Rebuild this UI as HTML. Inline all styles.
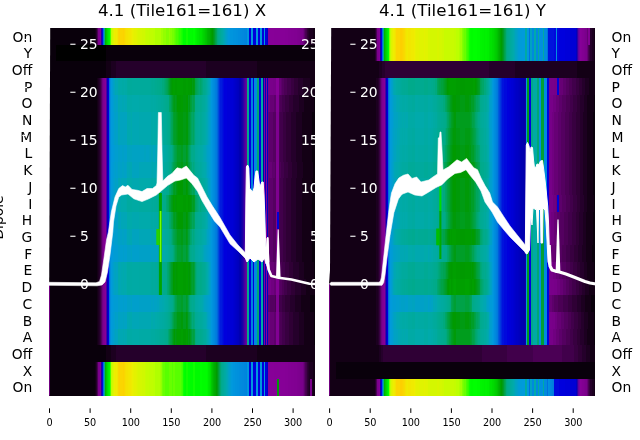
<!DOCTYPE html><html><head><meta charset="utf-8"><title>plot</title><style>html,body{margin:0;padding:0;background:#fff}</style></head><body><svg width="640" height="440" viewBox="0 0 640 440" style="display:block;font-family:'DejaVu Sans','Liberation Sans',sans-serif">
<rect width="640" height="440" fill="#fff"/>
<g shape-rendering="crispEdges">
<g transform="translate(0,28.00)"><path d="M49 0h46V367.6h-46z" fill="#09000b"/><path d="M95 0h1V367.6h-1z" fill="#130015"/><path d="M96 0h1V367.6h-1z" fill="#25002b"/><path d="M97 0h1V367.6h-1z" fill="#4b0055"/><path d="M98 0h1V367.6h-1z" fill="#7a008b"/><path d="M99 0h1V367.6h-1z" fill="#7f0090"/><path d="M100 0h1V367.6h-1z" fill="#850096"/><path d="M101 0h1V367.6h-1z" fill="#2300a6"/><path d="M102 0h1V367.6h-1z" fill="#0009dd"/><path d="M103 0h1V367.6h-1z" fill="#0070dd"/><path d="M104 0h1V367.6h-1z" fill="#00aa95"/><path d="M105 0h1V367.6h-1z" fill="#00b700"/><path d="M106 0h1V367.6h-1z" fill="#00ca00"/><path d="M107 0h1V367.6h-1z" fill="#00df00"/><path d="M108 0h1V367.6h-1z" fill="#00ef00"/><path d="M109 0h1V367.6h-1z" fill="#00fc00"/><path d="M110 0h1V367.6h-1z" fill="#49ff00"/><path d="M111 0h1V367.6h-1z" fill="#c0fd00"/><path d="M112 0h1V367.6h-1z" fill="#d0f800"/><path d="M113 0h1V367.6h-1z" fill="#e0f300"/><path d="M114 0h1V367.6h-1z" fill="#ecef00"/><path d="M115 0h1V367.6h-1z" fill="#f0ea00"/><path d="M116 0h1V367.6h-1z" fill="#efed00"/><path d="M117 0h1V367.6h-1z" fill="#f3e500"/><path d="M118 0h1V367.6h-1z" fill="#f9d700"/><path d="M119 0h1V367.6h-1z" fill="#fcd200"/><path d="M120 0h3V367.6h-3z" fill="#fbd500"/><path d="M123 0h1V367.6h-1z" fill="#fcd200"/><path d="M124 0h1V367.6h-1z" fill="#f9d700"/><path d="M125 0h1V367.6h-1z" fill="#f7dd00"/><path d="M126 0h2V367.6h-2z" fill="#f4e200"/><path d="M128 0h1V367.6h-1z" fill="#f3e500"/><path d="M129 0h2V367.6h-2z" fill="#f1e700"/><path d="M131 0h1V367.6h-1z" fill="#f0ea00"/><path d="M132 0h1V367.6h-1z" fill="#ecef00"/><path d="M133 0h1V367.6h-1z" fill="#e8f000"/><path d="M134 0h2V367.6h-2z" fill="#e4f100"/><path d="M136 0h1V367.6h-1z" fill="#e0f300"/><path d="M137 0h1V367.6h-1z" fill="#dcf400"/><path d="M138 0h2V367.6h-2z" fill="#d8f500"/><path d="M140 0h2V367.6h-2z" fill="#d4f700"/><path d="M142 0h3V367.6h-3z" fill="#d0f800"/><path d="M145 0h1V367.6h-1z" fill="#c8fb00"/><path d="M146 0h3V367.6h-3z" fill="#c4fc00"/><path d="M149 0h4V367.6h-4z" fill="#c0fd00"/><path d="M153 0h2V367.6h-2z" fill="#bcff00"/><path d="M155 0h6V367.6h-6z" fill="#b0ff00"/><path d="M161 0h2V367.6h-2z" fill="#a1ff00"/><path d="M163 0h3V367.6h-3z" fill="#93ff00"/><path d="M166 0h3V367.6h-3z" fill="#84ff00"/><path d="M169 0h1V367.6h-1z" fill="#93ff00"/><path d="M170 0h2V367.6h-2z" fill="#84ff00"/><path d="M172 0h2V367.6h-2z" fill="#75ff00"/><path d="M174 0h1V367.6h-1z" fill="#67ff00"/><path d="M175 0h1V367.6h-1z" fill="#58ff00"/><path d="M176 0h2V367.6h-2z" fill="#49ff00"/><path d="M178 0h1V367.6h-1z" fill="#3bff00"/><path d="M179 0h2V367.6h-2z" fill="#2cff00"/><path d="M181 0h1V367.6h-1z" fill="#1dff00"/><path d="M182 0h1V367.6h-1z" fill="#0fff00"/><path d="M183 0h3V367.6h-3z" fill="#00fc00"/><path d="M186 0h2V367.6h-2z" fill="#0fff00"/><path d="M188 0h4V367.6h-4z" fill="#00fc00"/><path d="M192 0h1V367.6h-1z" fill="#00fa00"/><path d="M193 0h2V367.6h-2z" fill="#0f0"/><path d="M195 0h1V367.6h-1z" fill="#00f700"/><path d="M196 0h1V367.6h-1z" fill="#00f200"/><path d="M197 0h1V367.6h-1z" fill="#00ec00"/><path d="M198 0h1V367.6h-1z" fill="#00ea00"/><path d="M199 0h2V367.6h-2z" fill="#00e400"/><path d="M201 0h1V367.6h-1z" fill="#00e200"/><path d="M202 0h1V367.6h-1z" fill="#00da00"/><path d="M203 0h1V367.6h-1z" fill="#00d400"/><path d="M204 0h1V367.6h-1z" fill="#00cf00"/><path d="M205 0h1V367.6h-1z" fill="#00c700"/><path d="M206 0h1V367.6h-1z" fill="#00c200"/><path d="M207 0h1V367.6h-1z" fill="#00b700"/><path d="M208 0h1V367.6h-1z" fill="#00b200"/><path d="M209 0h1V367.6h-1z" fill="#00af00"/><path d="M210 0h1V367.6h-1z" fill="#00a700"/><path d="M211 0h1V367.6h-1z" fill="#009f00"/><path d="M212 0h1V367.6h-1z" fill="#009a00"/><path d="M213 0h1V367.6h-1z" fill="#009b13"/><path d="M214 0h1V367.6h-1z" fill="#009e28"/><path d="M215 0h1V367.6h-1z" fill="#00a248"/><path d="M216 0h1V367.6h-1z" fill="#00a55d"/><path d="M217 0h1V367.6h-1z" fill="#00a97d"/><path d="M218 0h1V367.6h-1z" fill="#00aa8b"/><path d="M219 0h1V367.6h-1z" fill="#00aa93"/><path d="M220 0h1V367.6h-1z" fill="#00aa98"/><path d="M221 0h1V367.6h-1z" fill="#00aaa0"/><path d="M222 0h1V367.6h-1z" fill="#00aaa5"/><path d="M223 0h1V367.6h-1z" fill="#00a8af"/><path d="M224 0h1V367.6h-1z" fill="#00a6b7"/><path d="M225 0h1V367.6h-1z" fill="#00a2c3"/><path d="M226 0h1V367.6h-1z" fill="#009fcb"/><path d="M227 0h1V367.6h-1z" fill="#009cd3"/><path d="M228 0h1V367.6h-1z" fill="#009adb"/><path d="M229 0h1V367.6h-1z" fill="#0098dd"/><path d="M230 0h3V367.6h-3z" fill="#0095dd"/><path d="M233 0h3V367.6h-3z" fill="#0092dd"/><path d="M236 0h2V367.6h-2z" fill="#0090dd"/><path d="M238 0h2V367.6h-2z" fill="#008ddd"/><path d="M240 0h2V367.6h-2z" fill="#008add"/><path d="M242 0h2V367.6h-2z" fill="#08d"/><path d="M244 0h2V367.6h-2z" fill="#0085dd"/><path d="M246 0h1V367.6h-1z" fill="#0082dd"/><path d="M247 0h2V367.6h-2z" fill="#0098dd"/><path d="M249 0h2V367.6h-2z" fill="#00d"/><path d="M251 0h2V367.6h-2z" fill="#0098dd"/><path d="M253 0h3V367.6h-3z" fill="#00d"/><path d="M256 0h2V367.6h-2z" fill="#0098dd"/><path d="M258 0h2V367.6h-2z" fill="#00d"/><path d="M260 0h2V367.6h-2z" fill="#0098dd"/><path d="M262 0h2V367.6h-2z" fill="#00d"/><path d="M264 0h1V367.6h-1z" fill="#0098dd"/><path d="M265 0h2V367.6h-2z" fill="#00d"/><path d="M267 0h1V367.6h-1z" fill="#0000c5"/><path d="M268 0h6V367.6h-6z" fill="#870098"/><path d="M274 0h11V367.6h-11z" fill="#860097"/><path d="M285 0h3V367.6h-3z" fill="#850096"/><path d="M288 0h3V367.6h-3z" fill="#830094"/><path d="M291 0h3V367.6h-3z" fill="#820093"/><path d="M294 0h3V367.6h-3z" fill="#810092"/><path d="M297 0h1V367.6h-1z" fill="#7f0090"/><path d="M298 0h1V367.6h-1z" fill="#7e008f"/><path d="M299 0h1V367.6h-1z" fill="#7d008e"/><path d="M300 0h1V367.6h-1z" fill="#7b008c"/><path d="M301 0h1V367.6h-1z" fill="#7a008b"/><path d="M302 0h1V367.6h-1z" fill="#79008a"/><path d="M303 0h1V367.6h-1z" fill="#700080"/><path d="M304 0h1V367.6h-1z" fill="#5d006b"/><path d="M305 0h1V367.6h-1z" fill="#4b0055"/><path d="M306 0h1V367.6h-1z" fill="#41004b"/><path d="M307 0h1V367.6h-1z" fill="#2f0035"/><path d="M308 0h1V367.6h-1z" fill="#25002b"/><path d="M309 0h4V367.6h-4z" fill="#1c0020"/><path d="M313 0h2V367.6h-2z" fill="#130015"/></g>
<g transform="translate(0,44.71)"><path d="M49 0h7V350.9h-7z" fill="#09000b"/><path d="M56 0h50V350.9h-50z" fill="#000"/><path d="M106 0h209V350.9h-209z" fill="#09000b"/></g>
<g transform="translate(0,61.42)"><path d="M49 0h57V334.2h-57z" fill="#09000b"/><path d="M106 0h5V334.2h-5z" fill="#130015"/><path d="M111 0h5V334.2h-5z" fill="#1c0020"/><path d="M116 0h90V334.2h-90z" fill="#25002b"/><path d="M206 0h51V334.2h-51z" fill="#1c0020"/><path d="M257 0h58V334.2h-58z" fill="#130015"/></g>
<g transform="translate(0,78.13)"><path d="M49 0h48V317.5h-48z" fill="#09000b"/><path d="M97 0h1V317.5h-1z" fill="#130015"/><path d="M98 0h1V317.5h-1z" fill="#1c0020"/><path d="M99 0h1V317.5h-1z" fill="#25002b"/><path d="M100 0h1V317.5h-1z" fill="#380040"/><path d="M101 0h1V317.5h-1z" fill="#540060"/><path d="M102 0h1V317.5h-1z" fill="#700080"/><path d="M103 0h1V317.5h-1z" fill="#7e008f"/><path d="M104 0h1V317.5h-1z" fill="#820093"/><path d="M105 0h1V317.5h-1z" fill="#860097"/><path d="M106 0h1V317.5h-1z" fill="#4d00a0"/><path d="M107 0h1V317.5h-1z" fill="#0000bd"/><path d="M108 0h1V317.5h-1z" fill="#00d"/><path d="M109 0h1V317.5h-1z" fill="#0070dd"/><path d="M110 0h1V317.5h-1z" fill="#008ddd"/><path d="M111 0h1V317.5h-1z" fill="#009adb"/><path d="M112 0h1V317.5h-1z" fill="#009cd3"/><path d="M113 0h1V317.5h-1z" fill="#00a0c7"/><path d="M114 0h1V317.5h-1z" fill="#00a3bf"/><path d="M115 0h1V317.5h-1z" fill="#00a7b3"/><path d="M116 0h1V317.5h-1z" fill="#00a6b7"/><path d="M117 0h1V317.5h-1z" fill="#00a7b3"/><path d="M118 0h1V317.5h-1z" fill="#00aaa8"/><path d="M119 0h1V317.5h-1z" fill="#00aaa5"/><path d="M120 0h2V317.5h-2z" fill="#00aaa8"/><path d="M122 0h2V317.5h-2z" fill="#00aaa5"/><path d="M124 0h1V317.5h-1z" fill="#00aaa8"/><path d="M125 0h2V317.5h-2z" fill="#00aaa5"/><path d="M127 0h1V317.5h-1z" fill="#00aa9d"/><path d="M128 0h4V317.5h-4z" fill="#00aa9b"/><path d="M132 0h8V317.5h-8z" fill="#00aa9d"/><path d="M140 0h10V317.5h-10z" fill="#00aa9b"/><path d="M150 0h1V317.5h-1z" fill="#00aa98"/><path d="M151 0h1V317.5h-1z" fill="#00aa95"/><path d="M152 0h1V317.5h-1z" fill="#00aa93"/><path d="M153 0h1V317.5h-1z" fill="#00aa95"/><path d="M154 0h1V317.5h-1z" fill="#00aa93"/><path d="M155 0h2V317.5h-2z" fill="#00aa90"/><path d="M157 0h2V317.5h-2z" fill="#00aa8d"/><path d="M159 0h1V317.5h-1z" fill="#00aa8b"/><path d="M160 0h2V317.5h-2z" fill="#0a8"/><path d="M162 0h2V317.5h-2z" fill="#00a97d"/><path d="M164 0h1V317.5h-1z" fill="#00a773"/><path d="M165 0h1V317.5h-1z" fill="#00a668"/><path d="M166 0h1V317.5h-1z" fill="#00a55d"/><path d="M167 0h1V317.5h-1z" fill="#00a353"/><path d="M168 0h1V317.5h-1z" fill="#00a13d"/><path d="M169 0h1V317.5h-1z" fill="#009e28"/><path d="M170 0h1V317.5h-1z" fill="#009b13"/><path d="M171 0h1V317.5h-1z" fill="#009a08"/><path d="M172 0h1V317.5h-1z" fill="#009c00"/><path d="M173 0h2V317.5h-2z" fill="#009f00"/><path d="M175 0h2V317.5h-2z" fill="#009c00"/><path d="M177 0h6V317.5h-6z" fill="#009f00"/><path d="M183 0h3V317.5h-3z" fill="#009c00"/><path d="M186 0h2V317.5h-2z" fill="#009f00"/><path d="M188 0h3V317.5h-3z" fill="#009c00"/><path d="M191 0h1V317.5h-1z" fill="#009a00"/><path d="M192 0h1V317.5h-1z" fill="#009b13"/><path d="M193 0h1V317.5h-1z" fill="#009a08"/><path d="M194 0h1V317.5h-1z" fill="#009b13"/><path d="M195 0h1V317.5h-1z" fill="#00a248"/><path d="M196 0h1V317.5h-1z" fill="#00a353"/><path d="M197 0h1V317.5h-1z" fill="#00a55d"/><path d="M198 0h1V317.5h-1z" fill="#00a668"/><path d="M199 0h1V317.5h-1z" fill="#00a773"/><path d="M200 0h1V317.5h-1z" fill="#00a668"/><path d="M201 0h1V317.5h-1z" fill="#00a773"/><path d="M202 0h1V317.5h-1z" fill="#00a97d"/><path d="M203 0h1V317.5h-1z" fill="#00aa8b"/><path d="M204 0h1V317.5h-1z" fill="#00aa8d"/><path d="M205 0h1V317.5h-1z" fill="#00aa93"/><path d="M206 0h1V317.5h-1z" fill="#00aa9b"/><path d="M207 0h1V317.5h-1z" fill="#00aaa5"/><path d="M208 0h1V317.5h-1z" fill="#00a8af"/><path d="M209 0h1V317.5h-1z" fill="#00a6b7"/><path d="M210 0h1V317.5h-1z" fill="#009fcb"/><path d="M211 0h1V317.5h-1z" fill="#0098dd"/><path d="M212 0h1V317.5h-1z" fill="#0092dd"/><path d="M213 0h1V317.5h-1z" fill="#008ddd"/><path d="M214 0h1V317.5h-1z" fill="#08d"/><path d="M215 0h1V317.5h-1z" fill="#0080dd"/><path d="M216 0h1V317.5h-1z" fill="#007add"/><path d="M217 0h1V317.5h-1z" fill="#0067dd"/><path d="M218 0h1V317.5h-1z" fill="#004bdd"/><path d="M219 0h1V317.5h-1z" fill="#002fdd"/><path d="M220 0h2V317.5h-2z" fill="#001cdd"/><path d="M222 0h1V317.5h-1z" fill="#0013dd"/><path d="M223 0h1V317.5h-1z" fill="#0009dd"/><path d="M224 0h3V317.5h-3z" fill="#00d"/><path d="M227 0h3V317.5h-3z" fill="#0000d9"/><path d="M230 0h3V317.5h-3z" fill="#0000d5"/><path d="M233 0h1V317.5h-1z" fill="#0000d1"/><path d="M234 0h1V317.5h-1z" fill="#0000cd"/><path d="M235 0h1V317.5h-1z" fill="#0000c9"/><path d="M236 0h1V317.5h-1z" fill="#0000c5"/><path d="M237 0h1V317.5h-1z" fill="#0000c1"/><path d="M238 0h1V317.5h-1z" fill="#0000bd"/><path d="M239 0h1V317.5h-1z" fill="#0000b1"/><path d="M240 0h1V317.5h-1z" fill="#0000ad"/><path d="M241 0h1V317.5h-1z" fill="#0d00a8"/><path d="M242 0h1V317.5h-1z" fill="#1800a7"/><path d="M243 0h1V317.5h-1z" fill="#2d00a4"/><path d="M244 0h1V317.5h-1z" fill="#4300a2"/><path d="M245 0h1V317.5h-1z" fill="#58009f"/><path d="M246 0h1V317.5h-1z" fill="#6d009c"/><path d="M247 0h2V317.5h-2z" fill="#00aa8d"/><path d="M249 0h2V317.5h-2z" fill="#00d"/><path d="M251 0h2V317.5h-2z" fill="#0080dd"/><path d="M253 0h1V317.5h-1z" fill="#00d"/><path d="M254 0h3V317.5h-3z" fill="#008add"/><path d="M257 0h2V317.5h-2z" fill="#00a773"/><path d="M259 0h2V317.5h-2z" fill="#00d"/><path d="M261 0h2V317.5h-2z" fill="#00aaa3"/><path d="M263 0h1V317.5h-1z" fill="#0300aa"/><path d="M264 0h1V317.5h-1z" fill="#870098"/><path d="M265 0h1V317.5h-1z" fill="#0000bd"/><path d="M266 0h1V317.5h-1z" fill="#870098"/><path d="M267 0h1V317.5h-1z" fill="#0000bd"/><path d="M268 0h2V317.5h-2z" fill="#7a008b"/><path d="M270 0h3V317.5h-3z" fill="#79008a"/><path d="M273 0h3V317.5h-3z" fill="#708"/><path d="M276 0h3V317.5h-3z" fill="#870098"/><path d="M279 0h2V317.5h-2z" fill="#670075"/><path d="M281 0h1V317.5h-1z" fill="#5d006b"/><path d="M282 0h2V317.5h-2z" fill="#540060"/><path d="M284 0h3V317.5h-3z" fill="#4b0055"/><path d="M287 0h4V317.5h-4z" fill="#41004b"/><path d="M291 0h3V317.5h-3z" fill="#380040"/><path d="M294 0h4V317.5h-4z" fill="#2f0035"/><path d="M298 0h5V317.5h-5z" fill="#25002b"/><path d="M303 0h7V317.5h-7z" fill="#1c0020"/><path d="M310 0h5V317.5h-5z" fill="#130015"/></g>
<g transform="translate(0,94.84)"><path d="M49 0h48V300.8h-48z" fill="#09000b"/><path d="M97 0h1V300.8h-1z" fill="#130015"/><path d="M98 0h1V300.8h-1z" fill="#1c0020"/><path d="M99 0h1V300.8h-1z" fill="#25002b"/><path d="M100 0h1V300.8h-1z" fill="#380040"/><path d="M101 0h1V300.8h-1z" fill="#540060"/><path d="M102 0h1V300.8h-1z" fill="#700080"/><path d="M103 0h1V300.8h-1z" fill="#7e008f"/><path d="M104 0h1V300.8h-1z" fill="#820093"/><path d="M105 0h1V300.8h-1z" fill="#860097"/><path d="M106 0h1V300.8h-1z" fill="#4d00a0"/><path d="M107 0h1V300.8h-1z" fill="#0000bd"/><path d="M108 0h1V300.8h-1z" fill="#00d"/><path d="M109 0h1V300.8h-1z" fill="#0070dd"/><path d="M110 0h1V300.8h-1z" fill="#008ddd"/><path d="M111 0h1V300.8h-1z" fill="#009adb"/><path d="M112 0h1V300.8h-1z" fill="#009bd7"/><path d="M113 0h1V300.8h-1z" fill="#009ecf"/><path d="M114 0h1V300.8h-1z" fill="#00a0c7"/><path d="M115 0h1V300.8h-1z" fill="#00a2c3"/><path d="M116 0h1V300.8h-1z" fill="#00a0c7"/><path d="M117 0h1V300.8h-1z" fill="#00a2c3"/><path d="M118 0h2V300.8h-2z" fill="#00a7b3"/><path d="M120 0h2V300.8h-2z" fill="#00a6b7"/><path d="M122 0h2V300.8h-2z" fill="#00a7b3"/><path d="M124 0h1V300.8h-1z" fill="#00a6b7"/><path d="M125 0h2V300.8h-2z" fill="#00a7b3"/><path d="M127 0h5V300.8h-5z" fill="#00aaa8"/><path d="M132 0h7V300.8h-7z" fill="#00aaab"/><path d="M139 0h11V300.8h-11z" fill="#00aaa8"/><path d="M150 0h1V300.8h-1z" fill="#00aaa5"/><path d="M151 0h2V300.8h-2z" fill="#00aaa3"/><path d="M153 0h1V300.8h-1z" fill="#00aaa5"/><path d="M154 0h2V300.8h-2z" fill="#00aaa3"/><path d="M156 0h2V300.8h-2z" fill="#00aaa0"/><path d="M158 0h2V300.8h-2z" fill="#00aa9d"/><path d="M160 0h1V300.8h-1z" fill="#00aa9b"/><path d="M161 0h2V300.8h-2z" fill="#00aa98"/><path d="M163 0h1V300.8h-1z" fill="#00aa95"/><path d="M164 0h1V300.8h-1z" fill="#00aa93"/><path d="M165 0h1V300.8h-1z" fill="#00aa90"/><path d="M166 0h1V300.8h-1z" fill="#00aa8d"/><path d="M167 0h1V300.8h-1z" fill="#00aa8b"/><path d="M168 0h1V300.8h-1z" fill="#0a8"/><path d="M169 0h1V300.8h-1z" fill="#00a668"/><path d="M170 0h1V300.8h-1z" fill="#00a55d"/><path d="M171 0h1V300.8h-1z" fill="#00a248"/><path d="M172 0h1V300.8h-1z" fill="#009f33"/><path d="M173 0h1V300.8h-1z" fill="#009d1d"/><path d="M174 0h1V300.8h-1z" fill="#009b13"/><path d="M175 0h1V300.8h-1z" fill="#009d1d"/><path d="M176 0h1V300.8h-1z" fill="#009b13"/><path d="M177 0h4V300.8h-4z" fill="#009a00"/><path d="M181 0h2V300.8h-2z" fill="#009c00"/><path d="M183 0h3V300.8h-3z" fill="#009a08"/><path d="M186 0h1V300.8h-1z" fill="#009c00"/><path d="M187 0h1V300.8h-1z" fill="#009a00"/><path d="M188 0h1V300.8h-1z" fill="#009d1d"/><path d="M189 0h1V300.8h-1z" fill="#009b13"/><path d="M190 0h1V300.8h-1z" fill="#009f33"/><path d="M191 0h1V300.8h-1z" fill="#00a13d"/><path d="M192 0h1V300.8h-1z" fill="#00a353"/><path d="M193 0h1V300.8h-1z" fill="#00a248"/><path d="M194 0h1V300.8h-1z" fill="#00a353"/><path d="M195 0h1V300.8h-1z" fill="#0a8"/><path d="M196 0h1V300.8h-1z" fill="#00aa8b"/><path d="M197 0h1V300.8h-1z" fill="#00aa8d"/><path d="M198 0h1V300.8h-1z" fill="#00aa90"/><path d="M199 0h1V300.8h-1z" fill="#00aa93"/><path d="M200 0h1V300.8h-1z" fill="#00aa90"/><path d="M201 0h1V300.8h-1z" fill="#00aa93"/><path d="M202 0h1V300.8h-1z" fill="#00aa98"/><path d="M203 0h1V300.8h-1z" fill="#00aa9b"/><path d="M204 0h1V300.8h-1z" fill="#00aa9d"/><path d="M205 0h1V300.8h-1z" fill="#00aaa3"/><path d="M206 0h1V300.8h-1z" fill="#00aaa8"/><path d="M207 0h1V300.8h-1z" fill="#00a7b3"/><path d="M208 0h1V300.8h-1z" fill="#00a3bf"/><path d="M209 0h1V300.8h-1z" fill="#00a0c7"/><path d="M210 0h1V300.8h-1z" fill="#009cd3"/><path d="M211 0h1V300.8h-1z" fill="#0098dd"/><path d="M212 0h1V300.8h-1z" fill="#0092dd"/><path d="M213 0h1V300.8h-1z" fill="#008ddd"/><path d="M214 0h1V300.8h-1z" fill="#08d"/><path d="M215 0h1V300.8h-1z" fill="#0080dd"/><path d="M216 0h1V300.8h-1z" fill="#007add"/><path d="M217 0h1V300.8h-1z" fill="#0067dd"/><path d="M218 0h1V300.8h-1z" fill="#004bdd"/><path d="M219 0h1V300.8h-1z" fill="#002fdd"/><path d="M220 0h2V300.8h-2z" fill="#001cdd"/><path d="M222 0h1V300.8h-1z" fill="#0013dd"/><path d="M223 0h1V300.8h-1z" fill="#0009dd"/><path d="M224 0h3V300.8h-3z" fill="#00d"/><path d="M227 0h3V300.8h-3z" fill="#0000d9"/><path d="M230 0h3V300.8h-3z" fill="#0000d5"/><path d="M233 0h1V300.8h-1z" fill="#0000d1"/><path d="M234 0h1V300.8h-1z" fill="#0000cd"/><path d="M235 0h1V300.8h-1z" fill="#0000c9"/><path d="M236 0h1V300.8h-1z" fill="#0000c5"/><path d="M237 0h1V300.8h-1z" fill="#0000c1"/><path d="M238 0h1V300.8h-1z" fill="#0000bd"/><path d="M239 0h1V300.8h-1z" fill="#0000b1"/><path d="M240 0h1V300.8h-1z" fill="#0000ad"/><path d="M241 0h1V300.8h-1z" fill="#0d00a8"/><path d="M242 0h1V300.8h-1z" fill="#1800a7"/><path d="M243 0h1V300.8h-1z" fill="#2d00a4"/><path d="M244 0h1V300.8h-1z" fill="#4300a2"/><path d="M245 0h1V300.8h-1z" fill="#58009f"/><path d="M246 0h1V300.8h-1z" fill="#6d009c"/><path d="M247 0h2V300.8h-2z" fill="#00aa8d"/><path d="M249 0h2V300.8h-2z" fill="#00d"/><path d="M251 0h2V300.8h-2z" fill="#0080dd"/><path d="M253 0h1V300.8h-1z" fill="#00d"/><path d="M254 0h3V300.8h-3z" fill="#008add"/><path d="M257 0h2V300.8h-2z" fill="#00a773"/><path d="M259 0h2V300.8h-2z" fill="#00d"/><path d="M261 0h2V300.8h-2z" fill="#00aaa3"/><path d="M263 0h1V300.8h-1z" fill="#0300aa"/><path d="M264 0h1V300.8h-1z" fill="#870098"/><path d="M265 0h1V300.8h-1z" fill="#0000bd"/><path d="M266 0h1V300.8h-1z" fill="#870098"/><path d="M267 0h1V300.8h-1z" fill="#0000bd"/><path d="M268 0h2V300.8h-2z" fill="#700080"/><path d="M270 0h4V300.8h-4z" fill="#670075"/><path d="M274 0h2V300.8h-2z" fill="#5d006b"/><path d="M276 0h3V300.8h-3z" fill="#810092"/><path d="M279 0h1V300.8h-1z" fill="#540060"/><path d="M280 0h2V300.8h-2z" fill="#4b0055"/><path d="M282 0h3V300.8h-3z" fill="#41004b"/><path d="M285 0h4V300.8h-4z" fill="#380040"/><path d="M289 0h4V300.8h-4z" fill="#2f0035"/><path d="M293 0h6V300.8h-6z" fill="#25002b"/><path d="M299 0h5V300.8h-5z" fill="#1c0020"/><path d="M304 0h10V300.8h-10z" fill="#130015"/><path d="M314 0h1V300.8h-1z" fill="#09000b"/></g>
<g transform="translate(0,111.55)"><path d="M49 0h48V284.1h-48z" fill="#09000b"/><path d="M97 0h1V284.1h-1z" fill="#130015"/><path d="M98 0h1V284.1h-1z" fill="#1c0020"/><path d="M99 0h1V284.1h-1z" fill="#25002b"/><path d="M100 0h1V284.1h-1z" fill="#380040"/><path d="M101 0h1V284.1h-1z" fill="#540060"/><path d="M102 0h1V284.1h-1z" fill="#700080"/><path d="M103 0h1V284.1h-1z" fill="#7e008f"/><path d="M104 0h1V284.1h-1z" fill="#820093"/><path d="M105 0h1V284.1h-1z" fill="#860097"/><path d="M106 0h1V284.1h-1z" fill="#4d00a0"/><path d="M107 0h1V284.1h-1z" fill="#0000bd"/><path d="M108 0h1V284.1h-1z" fill="#00d"/><path d="M109 0h1V284.1h-1z" fill="#0070dd"/><path d="M110 0h1V284.1h-1z" fill="#008ddd"/><path d="M111 0h1V284.1h-1z" fill="#009adb"/><path d="M112 0h1V284.1h-1z" fill="#009bd7"/><path d="M113 0h1V284.1h-1z" fill="#009cd3"/><path d="M114 0h1V284.1h-1z" fill="#009fcb"/><path d="M115 0h1V284.1h-1z" fill="#00a0c7"/><path d="M116 0h1V284.1h-1z" fill="#009fcb"/><path d="M117 0h1V284.1h-1z" fill="#00a0c7"/><path d="M118 0h2V284.1h-2z" fill="#00a6b7"/><path d="M120 0h7V284.1h-7z" fill="#00a3bf"/><path d="M127 0h4V284.1h-4z" fill="#00a8af"/><path d="M131 0h1V284.1h-1z" fill="#00aaab"/><path d="M132 0h7V284.1h-7z" fill="#00a7b3"/><path d="M139 0h12V284.1h-12z" fill="#00a8af"/><path d="M151 0h2V284.1h-2z" fill="#00aaa8"/><path d="M153 0h1V284.1h-1z" fill="#00aaab"/><path d="M154 0h3V284.1h-3z" fill="#00aaa8"/><path d="M157 0h2V284.1h-2z" fill="#00aaa5"/><path d="M159 0h1V284.1h-1z" fill="#00aaa3"/><path d="M160 0h1V284.1h-1z" fill="#00aaa0"/><path d="M161 0h2V284.1h-2z" fill="#00aa9d"/><path d="M163 0h1V284.1h-1z" fill="#00aa9b"/><path d="M164 0h2V284.1h-2z" fill="#00aa98"/><path d="M166 0h1V284.1h-1z" fill="#00aa95"/><path d="M167 0h1V284.1h-1z" fill="#00aa90"/><path d="M168 0h1V284.1h-1z" fill="#00aa8d"/><path d="M169 0h1V284.1h-1z" fill="#0a8"/><path d="M170 0h1V284.1h-1z" fill="#00a773"/><path d="M171 0h1V284.1h-1z" fill="#00a55d"/><path d="M172 0h1V284.1h-1z" fill="#00a353"/><path d="M173 0h1V284.1h-1z" fill="#009f33"/><path d="M174 0h2V284.1h-2z" fill="#009e28"/><path d="M176 0h1V284.1h-1z" fill="#009d1d"/><path d="M177 0h1V284.1h-1z" fill="#009b13"/><path d="M178 0h5V284.1h-5z" fill="#009a08"/><path d="M183 0h3V284.1h-3z" fill="#009b13"/><path d="M186 0h2V284.1h-2z" fill="#009a08"/><path d="M188 0h1V284.1h-1z" fill="#009e28"/><path d="M189 0h1V284.1h-1z" fill="#009f33"/><path d="M190 0h1V284.1h-1z" fill="#00a248"/><path d="M191 0h1V284.1h-1z" fill="#00a55d"/><path d="M192 0h1V284.1h-1z" fill="#00a668"/><path d="M193 0h1V284.1h-1z" fill="#00a55d"/><path d="M194 0h1V284.1h-1z" fill="#00a773"/><path d="M195 0h1V284.1h-1z" fill="#00aa8d"/><path d="M196 0h1V284.1h-1z" fill="#00aa93"/><path d="M197 0h1V284.1h-1z" fill="#00aa95"/><path d="M198 0h1V284.1h-1z" fill="#00aa98"/><path d="M199 0h1V284.1h-1z" fill="#00aa9b"/><path d="M200 0h1V284.1h-1z" fill="#00aa95"/><path d="M201 0h1V284.1h-1z" fill="#00aa98"/><path d="M202 0h1V284.1h-1z" fill="#00aa9d"/><path d="M203 0h1V284.1h-1z" fill="#00aaa0"/><path d="M204 0h1V284.1h-1z" fill="#00aaa3"/><path d="M205 0h1V284.1h-1z" fill="#00aaa8"/><path d="M206 0h1V284.1h-1z" fill="#00a8af"/><path d="M207 0h1V284.1h-1z" fill="#00a6b7"/><path d="M208 0h1V284.1h-1z" fill="#00a2c3"/><path d="M209 0h1V284.1h-1z" fill="#009fcb"/><path d="M210 0h1V284.1h-1z" fill="#009cd3"/><path d="M211 0h1V284.1h-1z" fill="#0098dd"/><path d="M212 0h1V284.1h-1z" fill="#0092dd"/><path d="M213 0h1V284.1h-1z" fill="#008ddd"/><path d="M214 0h1V284.1h-1z" fill="#08d"/><path d="M215 0h1V284.1h-1z" fill="#0080dd"/><path d="M216 0h1V284.1h-1z" fill="#007add"/><path d="M217 0h1V284.1h-1z" fill="#0067dd"/><path d="M218 0h1V284.1h-1z" fill="#004bdd"/><path d="M219 0h1V284.1h-1z" fill="#002fdd"/><path d="M220 0h2V284.1h-2z" fill="#001cdd"/><path d="M222 0h1V284.1h-1z" fill="#0013dd"/><path d="M223 0h1V284.1h-1z" fill="#0009dd"/><path d="M224 0h3V284.1h-3z" fill="#00d"/><path d="M227 0h3V284.1h-3z" fill="#0000d9"/><path d="M230 0h3V284.1h-3z" fill="#0000d5"/><path d="M233 0h1V284.1h-1z" fill="#0000d1"/><path d="M234 0h1V284.1h-1z" fill="#0000cd"/><path d="M235 0h1V284.1h-1z" fill="#0000c9"/><path d="M236 0h1V284.1h-1z" fill="#0000c5"/><path d="M237 0h1V284.1h-1z" fill="#0000c1"/><path d="M238 0h1V284.1h-1z" fill="#0000bd"/><path d="M239 0h1V284.1h-1z" fill="#0000b1"/><path d="M240 0h1V284.1h-1z" fill="#0000ad"/><path d="M241 0h1V284.1h-1z" fill="#0d00a8"/><path d="M242 0h1V284.1h-1z" fill="#1800a7"/><path d="M243 0h1V284.1h-1z" fill="#2d00a4"/><path d="M244 0h1V284.1h-1z" fill="#4300a2"/><path d="M245 0h1V284.1h-1z" fill="#58009f"/><path d="M246 0h1V284.1h-1z" fill="#6d009c"/><path d="M247 0h2V284.1h-2z" fill="#00aa8d"/><path d="M249 0h2V284.1h-2z" fill="#00d"/><path d="M251 0h2V284.1h-2z" fill="#0080dd"/><path d="M253 0h1V284.1h-1z" fill="#00d"/><path d="M254 0h3V284.1h-3z" fill="#008add"/><path d="M257 0h2V284.1h-2z" fill="#00a773"/><path d="M259 0h2V284.1h-2z" fill="#00d"/><path d="M261 0h2V284.1h-2z" fill="#00aaa3"/><path d="M263 0h1V284.1h-1z" fill="#0300aa"/><path d="M264 0h1V284.1h-1z" fill="#870098"/><path d="M265 0h1V284.1h-1z" fill="#0000bd"/><path d="M266 0h1V284.1h-1z" fill="#870098"/><path d="M267 0h1V284.1h-1z" fill="#0000bd"/><path d="M268 0h1V284.1h-1z" fill="#670075"/><path d="M269 0h4V284.1h-4z" fill="#5d006b"/><path d="M273 0h3V284.1h-3z" fill="#540060"/><path d="M276 0h3V284.1h-3z" fill="#7e008f"/><path d="M279 0h1V284.1h-1z" fill="#4b0055"/><path d="M280 0h3V284.1h-3z" fill="#41004b"/><path d="M283 0h3V284.1h-3z" fill="#380040"/><path d="M286 0h5V284.1h-5z" fill="#2f0035"/><path d="M291 0h5V284.1h-5z" fill="#25002b"/><path d="M296 0h6V284.1h-6z" fill="#1c0020"/><path d="M302 0h10V284.1h-10z" fill="#130015"/><path d="M312 0h3V284.1h-3z" fill="#09000b"/></g>
<g transform="translate(0,128.25)"><path d="M49 0h48V267.3h-48z" fill="#09000b"/><path d="M97 0h1V267.3h-1z" fill="#130015"/><path d="M98 0h1V267.3h-1z" fill="#1c0020"/><path d="M99 0h1V267.3h-1z" fill="#25002b"/><path d="M100 0h1V267.3h-1z" fill="#380040"/><path d="M101 0h1V267.3h-1z" fill="#540060"/><path d="M102 0h1V267.3h-1z" fill="#700080"/><path d="M103 0h1V267.3h-1z" fill="#7e008f"/><path d="M104 0h1V267.3h-1z" fill="#820093"/><path d="M105 0h1V267.3h-1z" fill="#860097"/><path d="M106 0h1V267.3h-1z" fill="#4d00a0"/><path d="M107 0h1V267.3h-1z" fill="#0000bd"/><path d="M108 0h1V267.3h-1z" fill="#00d"/><path d="M109 0h1V267.3h-1z" fill="#0070dd"/><path d="M110 0h1V267.3h-1z" fill="#008ddd"/><path d="M111 0h1V267.3h-1z" fill="#009adb"/><path d="M112 0h1V267.3h-1z" fill="#009bd7"/><path d="M113 0h1V267.3h-1z" fill="#009cd3"/><path d="M114 0h1V267.3h-1z" fill="#009fcb"/><path d="M115 0h1V267.3h-1z" fill="#00a0c7"/><path d="M116 0h1V267.3h-1z" fill="#009fcb"/><path d="M117 0h1V267.3h-1z" fill="#00a0c7"/><path d="M118 0h2V267.3h-2z" fill="#00a6b7"/><path d="M120 0h7V267.3h-7z" fill="#00a3bf"/><path d="M127 0h4V267.3h-4z" fill="#00a8af"/><path d="M131 0h1V267.3h-1z" fill="#00aaab"/><path d="M132 0h7V267.3h-7z" fill="#00a7b3"/><path d="M139 0h12V267.3h-12z" fill="#00a8af"/><path d="M151 0h2V267.3h-2z" fill="#00aaa8"/><path d="M153 0h1V267.3h-1z" fill="#00aaab"/><path d="M154 0h3V267.3h-3z" fill="#00aaa8"/><path d="M157 0h2V267.3h-2z" fill="#00aaa5"/><path d="M159 0h1V267.3h-1z" fill="#00aaa3"/><path d="M160 0h1V267.3h-1z" fill="#00aaa0"/><path d="M161 0h2V267.3h-2z" fill="#00aa9d"/><path d="M163 0h1V267.3h-1z" fill="#00aa9b"/><path d="M164 0h2V267.3h-2z" fill="#00aa98"/><path d="M166 0h1V267.3h-1z" fill="#00aa95"/><path d="M167 0h1V267.3h-1z" fill="#00aa90"/><path d="M168 0h1V267.3h-1z" fill="#00aa8d"/><path d="M169 0h1V267.3h-1z" fill="#0a8"/><path d="M170 0h1V267.3h-1z" fill="#00a773"/><path d="M171 0h1V267.3h-1z" fill="#00a55d"/><path d="M172 0h1V267.3h-1z" fill="#00a353"/><path d="M173 0h1V267.3h-1z" fill="#009f33"/><path d="M174 0h2V267.3h-2z" fill="#009e28"/><path d="M176 0h1V267.3h-1z" fill="#009d1d"/><path d="M177 0h1V267.3h-1z" fill="#009b13"/><path d="M178 0h5V267.3h-5z" fill="#009a08"/><path d="M183 0h3V267.3h-3z" fill="#009b13"/><path d="M186 0h2V267.3h-2z" fill="#009a08"/><path d="M188 0h1V267.3h-1z" fill="#009e28"/><path d="M189 0h1V267.3h-1z" fill="#009f33"/><path d="M190 0h1V267.3h-1z" fill="#00a248"/><path d="M191 0h1V267.3h-1z" fill="#00a55d"/><path d="M192 0h1V267.3h-1z" fill="#00a668"/><path d="M193 0h1V267.3h-1z" fill="#00a55d"/><path d="M194 0h1V267.3h-1z" fill="#00a773"/><path d="M195 0h1V267.3h-1z" fill="#00aa8d"/><path d="M196 0h1V267.3h-1z" fill="#00aa93"/><path d="M197 0h1V267.3h-1z" fill="#00aa95"/><path d="M198 0h1V267.3h-1z" fill="#00aa98"/><path d="M199 0h1V267.3h-1z" fill="#00aa9b"/><path d="M200 0h1V267.3h-1z" fill="#00aa95"/><path d="M201 0h1V267.3h-1z" fill="#00aa98"/><path d="M202 0h1V267.3h-1z" fill="#00aa9d"/><path d="M203 0h1V267.3h-1z" fill="#00aaa0"/><path d="M204 0h1V267.3h-1z" fill="#00aaa3"/><path d="M205 0h1V267.3h-1z" fill="#00aaa8"/><path d="M206 0h1V267.3h-1z" fill="#00a8af"/><path d="M207 0h1V267.3h-1z" fill="#00a6b7"/><path d="M208 0h1V267.3h-1z" fill="#00a2c3"/><path d="M209 0h1V267.3h-1z" fill="#009fcb"/><path d="M210 0h1V267.3h-1z" fill="#009cd3"/><path d="M211 0h1V267.3h-1z" fill="#0098dd"/><path d="M212 0h1V267.3h-1z" fill="#0092dd"/><path d="M213 0h1V267.3h-1z" fill="#008ddd"/><path d="M214 0h1V267.3h-1z" fill="#08d"/><path d="M215 0h1V267.3h-1z" fill="#0080dd"/><path d="M216 0h1V267.3h-1z" fill="#007add"/><path d="M217 0h1V267.3h-1z" fill="#0067dd"/><path d="M218 0h1V267.3h-1z" fill="#004bdd"/><path d="M219 0h1V267.3h-1z" fill="#002fdd"/><path d="M220 0h2V267.3h-2z" fill="#001cdd"/><path d="M222 0h1V267.3h-1z" fill="#0013dd"/><path d="M223 0h1V267.3h-1z" fill="#0009dd"/><path d="M224 0h3V267.3h-3z" fill="#00d"/><path d="M227 0h3V267.3h-3z" fill="#0000d9"/><path d="M230 0h3V267.3h-3z" fill="#0000d5"/><path d="M233 0h1V267.3h-1z" fill="#0000d1"/><path d="M234 0h1V267.3h-1z" fill="#0000cd"/><path d="M235 0h1V267.3h-1z" fill="#0000c9"/><path d="M236 0h1V267.3h-1z" fill="#0000c5"/><path d="M237 0h1V267.3h-1z" fill="#0000c1"/><path d="M238 0h1V267.3h-1z" fill="#0000bd"/><path d="M239 0h1V267.3h-1z" fill="#0000b1"/><path d="M240 0h1V267.3h-1z" fill="#0000ad"/><path d="M241 0h1V267.3h-1z" fill="#0d00a8"/><path d="M242 0h1V267.3h-1z" fill="#1800a7"/><path d="M243 0h1V267.3h-1z" fill="#2d00a4"/><path d="M244 0h1V267.3h-1z" fill="#4300a2"/><path d="M245 0h1V267.3h-1z" fill="#58009f"/><path d="M246 0h1V267.3h-1z" fill="#6d009c"/><path d="M247 0h2V267.3h-2z" fill="#00aa8d"/><path d="M249 0h2V267.3h-2z" fill="#00d"/><path d="M251 0h2V267.3h-2z" fill="#0080dd"/><path d="M253 0h1V267.3h-1z" fill="#00d"/><path d="M254 0h3V267.3h-3z" fill="#008add"/><path d="M257 0h2V267.3h-2z" fill="#00a773"/><path d="M259 0h2V267.3h-2z" fill="#00d"/><path d="M261 0h2V267.3h-2z" fill="#00aaa3"/><path d="M263 0h1V267.3h-1z" fill="#0300aa"/><path d="M264 0h1V267.3h-1z" fill="#870098"/><path d="M265 0h1V267.3h-1z" fill="#0000bd"/><path d="M266 0h1V267.3h-1z" fill="#870098"/><path d="M267 0h1V267.3h-1z" fill="#0000bd"/><path d="M268 0h1V267.3h-1z" fill="#670075"/><path d="M269 0h4V267.3h-4z" fill="#5d006b"/><path d="M273 0h3V267.3h-3z" fill="#540060"/><path d="M276 0h3V267.3h-3z" fill="#7e008f"/><path d="M279 0h1V267.3h-1z" fill="#4b0055"/><path d="M280 0h3V267.3h-3z" fill="#41004b"/><path d="M283 0h3V267.3h-3z" fill="#380040"/><path d="M286 0h5V267.3h-5z" fill="#2f0035"/><path d="M291 0h5V267.3h-5z" fill="#25002b"/><path d="M296 0h6V267.3h-6z" fill="#1c0020"/><path d="M302 0h10V267.3h-10z" fill="#130015"/><path d="M312 0h3V267.3h-3z" fill="#09000b"/></g>
<g transform="translate(0,144.96)"><path d="M49 0h48V250.6h-48z" fill="#09000b"/><path d="M97 0h1V250.6h-1z" fill="#130015"/><path d="M98 0h1V250.6h-1z" fill="#1c0020"/><path d="M99 0h1V250.6h-1z" fill="#25002b"/><path d="M100 0h1V250.6h-1z" fill="#380040"/><path d="M101 0h1V250.6h-1z" fill="#540060"/><path d="M102 0h1V250.6h-1z" fill="#700080"/><path d="M103 0h1V250.6h-1z" fill="#7e008f"/><path d="M104 0h1V250.6h-1z" fill="#820093"/><path d="M105 0h1V250.6h-1z" fill="#860097"/><path d="M106 0h1V250.6h-1z" fill="#4d00a0"/><path d="M107 0h1V250.6h-1z" fill="#0000bd"/><path d="M108 0h1V250.6h-1z" fill="#00d"/><path d="M109 0h1V250.6h-1z" fill="#0070dd"/><path d="M110 0h1V250.6h-1z" fill="#008ddd"/><path d="M111 0h1V250.6h-1z" fill="#0098dd"/><path d="M112 0h1V250.6h-1z" fill="#009adb"/><path d="M113 0h1V250.6h-1z" fill="#009bd7"/><path d="M114 0h1V250.6h-1z" fill="#009cd3"/><path d="M115 0h3V250.6h-3z" fill="#009ecf"/><path d="M118 0h2V250.6h-2z" fill="#00a0c7"/><path d="M120 0h2V250.6h-2z" fill="#009fcb"/><path d="M122 0h2V250.6h-2z" fill="#00a0c7"/><path d="M124 0h3V250.6h-3z" fill="#009fcb"/><path d="M127 0h5V250.6h-5z" fill="#00a3bf"/><path d="M132 0h12V250.6h-12z" fill="#00a2c3"/><path d="M144 0h2V250.6h-2z" fill="#00a3bf"/><path d="M146 0h3V250.6h-3z" fill="#00a2c3"/><path d="M149 0h2V250.6h-2z" fill="#00a3bf"/><path d="M151 0h2V250.6h-2z" fill="#00a6b7"/><path d="M153 0h2V250.6h-2z" fill="#00a3bf"/><path d="M155 0h2V250.6h-2z" fill="#00a6b7"/><path d="M157 0h2V250.6h-2z" fill="#00a7b3"/><path d="M159 0h1V250.6h-1z" fill="#00a8af"/><path d="M160 0h2V250.6h-2z" fill="#00aaab"/><path d="M162 0h2V250.6h-2z" fill="#00aaa8"/><path d="M164 0h1V250.6h-1z" fill="#00aaa5"/><path d="M165 0h1V250.6h-1z" fill="#00aaa3"/><path d="M166 0h1V250.6h-1z" fill="#00aaa0"/><path d="M167 0h1V250.6h-1z" fill="#00aa9d"/><path d="M168 0h1V250.6h-1z" fill="#00aa98"/><path d="M169 0h1V250.6h-1z" fill="#00aa93"/><path d="M170 0h1V250.6h-1z" fill="#00aa8d"/><path d="M171 0h1V250.6h-1z" fill="#00aa8b"/><path d="M172 0h1V250.6h-1z" fill="#00a97d"/><path d="M173 0h1V250.6h-1z" fill="#00a668"/><path d="M174 0h1V250.6h-1z" fill="#00a353"/><path d="M175 0h1V250.6h-1z" fill="#00a248"/><path d="M176 0h1V250.6h-1z" fill="#00a13d"/><path d="M177 0h4V250.6h-4z" fill="#009e28"/><path d="M181 0h2V250.6h-2z" fill="#009d1d"/><path d="M183 0h3V250.6h-3z" fill="#009f33"/><path d="M186 0h1V250.6h-1z" fill="#009d1d"/><path d="M187 0h1V250.6h-1z" fill="#009e28"/><path d="M188 0h1V250.6h-1z" fill="#00a248"/><path d="M189 0h1V250.6h-1z" fill="#00a55d"/><path d="M190 0h1V250.6h-1z" fill="#00a773"/><path d="M191 0h1V250.6h-1z" fill="#0a8"/><path d="M192 0h1V250.6h-1z" fill="#00aa8d"/><path d="M193 0h1V250.6h-1z" fill="#00aa8b"/><path d="M194 0h1V250.6h-1z" fill="#00aa8d"/><path d="M195 0h1V250.6h-1z" fill="#00aa9b"/><path d="M196 0h1V250.6h-1z" fill="#00aa9d"/><path d="M197 0h1V250.6h-1z" fill="#00aaa0"/><path d="M198 0h1V250.6h-1z" fill="#00aaa3"/><path d="M199 0h1V250.6h-1z" fill="#00aaa5"/><path d="M200 0h1V250.6h-1z" fill="#00aaa3"/><path d="M201 0h1V250.6h-1z" fill="#00aaa5"/><path d="M202 0h1V250.6h-1z" fill="#00aaa8"/><path d="M203 0h1V250.6h-1z" fill="#00a8af"/><path d="M204 0h1V250.6h-1z" fill="#00a7b3"/><path d="M205 0h1V250.6h-1z" fill="#00a6b7"/><path d="M206 0h1V250.6h-1z" fill="#00a3bf"/><path d="M207 0h1V250.6h-1z" fill="#00a0c7"/><path d="M208 0h1V250.6h-1z" fill="#009fcb"/><path d="M209 0h1V250.6h-1z" fill="#009ecf"/><path d="M210 0h1V250.6h-1z" fill="#009bd7"/><path d="M211 0h1V250.6h-1z" fill="#0098dd"/><path d="M212 0h1V250.6h-1z" fill="#0092dd"/><path d="M213 0h1V250.6h-1z" fill="#008ddd"/><path d="M214 0h1V250.6h-1z" fill="#08d"/><path d="M215 0h1V250.6h-1z" fill="#0080dd"/><path d="M216 0h1V250.6h-1z" fill="#007add"/><path d="M217 0h1V250.6h-1z" fill="#0067dd"/><path d="M218 0h1V250.6h-1z" fill="#004bdd"/><path d="M219 0h1V250.6h-1z" fill="#002fdd"/><path d="M220 0h2V250.6h-2z" fill="#001cdd"/><path d="M222 0h1V250.6h-1z" fill="#0013dd"/><path d="M223 0h1V250.6h-1z" fill="#0009dd"/><path d="M224 0h3V250.6h-3z" fill="#00d"/><path d="M227 0h3V250.6h-3z" fill="#0000d9"/><path d="M230 0h3V250.6h-3z" fill="#0000d5"/><path d="M233 0h1V250.6h-1z" fill="#0000d1"/><path d="M234 0h1V250.6h-1z" fill="#0000cd"/><path d="M235 0h1V250.6h-1z" fill="#0000c9"/><path d="M236 0h1V250.6h-1z" fill="#0000c5"/><path d="M237 0h1V250.6h-1z" fill="#0000c1"/><path d="M238 0h1V250.6h-1z" fill="#0000bd"/><path d="M239 0h1V250.6h-1z" fill="#0000b1"/><path d="M240 0h1V250.6h-1z" fill="#0000ad"/><path d="M241 0h1V250.6h-1z" fill="#0d00a8"/><path d="M242 0h1V250.6h-1z" fill="#1800a7"/><path d="M243 0h1V250.6h-1z" fill="#2d00a4"/><path d="M244 0h1V250.6h-1z" fill="#4300a2"/><path d="M245 0h1V250.6h-1z" fill="#58009f"/><path d="M246 0h1V250.6h-1z" fill="#6d009c"/><path d="M247 0h2V250.6h-2z" fill="#00aa8d"/><path d="M249 0h2V250.6h-2z" fill="#00d"/><path d="M251 0h2V250.6h-2z" fill="#0080dd"/><path d="M253 0h1V250.6h-1z" fill="#00d"/><path d="M254 0h3V250.6h-3z" fill="#008add"/><path d="M257 0h2V250.6h-2z" fill="#00a773"/><path d="M259 0h2V250.6h-2z" fill="#00d"/><path d="M261 0h2V250.6h-2z" fill="#00aaa3"/><path d="M263 0h1V250.6h-1z" fill="#0300aa"/><path d="M264 0h1V250.6h-1z" fill="#870098"/><path d="M265 0h1V250.6h-1z" fill="#0000bd"/><path d="M266 0h1V250.6h-1z" fill="#870098"/><path d="M267 0h1V250.6h-1z" fill="#0000bd"/><path d="M268 0h1V250.6h-1z" fill="#670075"/><path d="M269 0h4V250.6h-4z" fill="#5d006b"/><path d="M273 0h3V250.6h-3z" fill="#540060"/><path d="M276 0h3V250.6h-3z" fill="#7e008f"/><path d="M279 0h1V250.6h-1z" fill="#4b0055"/><path d="M280 0h3V250.6h-3z" fill="#41004b"/><path d="M283 0h3V250.6h-3z" fill="#380040"/><path d="M286 0h5V250.6h-5z" fill="#2f0035"/><path d="M291 0h5V250.6h-5z" fill="#25002b"/><path d="M296 0h6V250.6h-6z" fill="#1c0020"/><path d="M302 0h10V250.6h-10z" fill="#130015"/><path d="M312 0h3V250.6h-3z" fill="#09000b"/></g>
<g transform="translate(0,161.67)"><path d="M49 0h48V233.9h-48z" fill="#09000b"/><path d="M97 0h1V233.9h-1z" fill="#130015"/><path d="M98 0h1V233.9h-1z" fill="#1c0020"/><path d="M99 0h1V233.9h-1z" fill="#25002b"/><path d="M100 0h1V233.9h-1z" fill="#380040"/><path d="M101 0h1V233.9h-1z" fill="#540060"/><path d="M102 0h1V233.9h-1z" fill="#700080"/><path d="M103 0h1V233.9h-1z" fill="#7e008f"/><path d="M104 0h1V233.9h-1z" fill="#820093"/><path d="M105 0h1V233.9h-1z" fill="#860097"/><path d="M106 0h1V233.9h-1z" fill="#4d00a0"/><path d="M107 0h1V233.9h-1z" fill="#0000bd"/><path d="M108 0h1V233.9h-1z" fill="#00d"/><path d="M109 0h1V233.9h-1z" fill="#0070dd"/><path d="M110 0h1V233.9h-1z" fill="#008ddd"/><path d="M111 0h1V233.9h-1z" fill="#009adb"/><path d="M112 0h1V233.9h-1z" fill="#009bd7"/><path d="M113 0h1V233.9h-1z" fill="#009cd3"/><path d="M114 0h1V233.9h-1z" fill="#009ecf"/><path d="M115 0h1V233.9h-1z" fill="#009fcb"/><path d="M116 0h1V233.9h-1z" fill="#009ecf"/><path d="M117 0h1V233.9h-1z" fill="#009fcb"/><path d="M118 0h2V233.9h-2z" fill="#00a2c3"/><path d="M120 0h2V233.9h-2z" fill="#00a0c7"/><path d="M122 0h2V233.9h-2z" fill="#00a2c3"/><path d="M124 0h2V233.9h-2z" fill="#00a0c7"/><path d="M126 0h1V233.9h-1z" fill="#00a2c3"/><path d="M127 0h2V233.9h-2z" fill="#00a6b7"/><path d="M129 0h3V233.9h-3z" fill="#00a7b3"/><path d="M132 0h7V233.9h-7z" fill="#00a3bf"/><path d="M139 0h12V233.9h-12z" fill="#00a6b7"/><path d="M151 0h1V233.9h-1z" fill="#00a7b3"/><path d="M152 0h1V233.9h-1z" fill="#00a8af"/><path d="M153 0h3V233.9h-3z" fill="#00a7b3"/><path d="M156 0h2V233.9h-2z" fill="#00a8af"/><path d="M158 0h2V233.9h-2z" fill="#00aaab"/><path d="M160 0h1V233.9h-1z" fill="#00aaa8"/><path d="M161 0h2V233.9h-2z" fill="#00aaa5"/><path d="M163 0h1V233.9h-1z" fill="#00aaa3"/><path d="M164 0h1V233.9h-1z" fill="#00aaa0"/><path d="M165 0h1V233.9h-1z" fill="#00aa9d"/><path d="M166 0h1V233.9h-1z" fill="#00aa9b"/><path d="M167 0h1V233.9h-1z" fill="#00aa98"/><path d="M168 0h1V233.9h-1z" fill="#00aa95"/><path d="M169 0h1V233.9h-1z" fill="#00aa8d"/><path d="M170 0h1V233.9h-1z" fill="#00aa8b"/><path d="M171 0h1V233.9h-1z" fill="#00a97d"/><path d="M172 0h1V233.9h-1z" fill="#00a668"/><path d="M173 0h1V233.9h-1z" fill="#00a353"/><path d="M174 0h1V233.9h-1z" fill="#00a248"/><path d="M175 0h1V233.9h-1z" fill="#00a13d"/><path d="M176 0h1V233.9h-1z" fill="#009f33"/><path d="M177 0h4V233.9h-4z" fill="#009d1d"/><path d="M181 0h2V233.9h-2z" fill="#009b13"/><path d="M183 0h3V233.9h-3z" fill="#009e28"/><path d="M186 0h1V233.9h-1z" fill="#009b13"/><path d="M187 0h1V233.9h-1z" fill="#009d1d"/><path d="M188 0h1V233.9h-1z" fill="#00a13d"/><path d="M189 0h1V233.9h-1z" fill="#00a248"/><path d="M190 0h1V233.9h-1z" fill="#00a668"/><path d="M191 0h1V233.9h-1z" fill="#00a773"/><path d="M192 0h1V233.9h-1z" fill="#0a8"/><path d="M193 0h1V233.9h-1z" fill="#00a97d"/><path d="M194 0h1V233.9h-1z" fill="#0a8"/><path d="M195 0h1V233.9h-1z" fill="#00aa95"/><path d="M196 0h1V233.9h-1z" fill="#00aa98"/><path d="M197 0h1V233.9h-1z" fill="#00aa9b"/><path d="M198 0h1V233.9h-1z" fill="#00aa9d"/><path d="M199 0h1V233.9h-1z" fill="#00aaa0"/><path d="M200 0h1V233.9h-1z" fill="#00aa9d"/><path d="M201 0h1V233.9h-1z" fill="#00aaa0"/><path d="M202 0h1V233.9h-1z" fill="#00aaa5"/><path d="M203 0h1V233.9h-1z" fill="#00aaa8"/><path d="M204 0h1V233.9h-1z" fill="#00aaab"/><path d="M205 0h1V233.9h-1z" fill="#00a8af"/><path d="M206 0h1V233.9h-1z" fill="#00a6b7"/><path d="M207 0h1V233.9h-1z" fill="#00a2c3"/><path d="M208 0h1V233.9h-1z" fill="#00a0c7"/><path d="M209 0h1V233.9h-1z" fill="#009ecf"/><path d="M210 0h1V233.9h-1z" fill="#009bd7"/><path d="M211 0h1V233.9h-1z" fill="#0098dd"/><path d="M212 0h1V233.9h-1z" fill="#0092dd"/><path d="M213 0h1V233.9h-1z" fill="#008ddd"/><path d="M214 0h1V233.9h-1z" fill="#08d"/><path d="M215 0h1V233.9h-1z" fill="#0080dd"/><path d="M216 0h1V233.9h-1z" fill="#007add"/><path d="M217 0h1V233.9h-1z" fill="#0067dd"/><path d="M218 0h1V233.9h-1z" fill="#004bdd"/><path d="M219 0h1V233.9h-1z" fill="#002fdd"/><path d="M220 0h2V233.9h-2z" fill="#001cdd"/><path d="M222 0h1V233.9h-1z" fill="#0013dd"/><path d="M223 0h1V233.9h-1z" fill="#0009dd"/><path d="M224 0h3V233.9h-3z" fill="#00d"/><path d="M227 0h3V233.9h-3z" fill="#0000d9"/><path d="M230 0h3V233.9h-3z" fill="#0000d5"/><path d="M233 0h1V233.9h-1z" fill="#0000d1"/><path d="M234 0h1V233.9h-1z" fill="#0000cd"/><path d="M235 0h1V233.9h-1z" fill="#0000c9"/><path d="M236 0h1V233.9h-1z" fill="#0000c5"/><path d="M237 0h1V233.9h-1z" fill="#0000c1"/><path d="M238 0h1V233.9h-1z" fill="#0000bd"/><path d="M239 0h1V233.9h-1z" fill="#0000b1"/><path d="M240 0h1V233.9h-1z" fill="#0000ad"/><path d="M241 0h1V233.9h-1z" fill="#0d00a8"/><path d="M242 0h1V233.9h-1z" fill="#1800a7"/><path d="M243 0h1V233.9h-1z" fill="#2d00a4"/><path d="M244 0h1V233.9h-1z" fill="#4300a2"/><path d="M245 0h1V233.9h-1z" fill="#58009f"/><path d="M246 0h1V233.9h-1z" fill="#6d009c"/><path d="M247 0h2V233.9h-2z" fill="#00aa8d"/><path d="M249 0h2V233.9h-2z" fill="#00d"/><path d="M251 0h2V233.9h-2z" fill="#0080dd"/><path d="M253 0h1V233.9h-1z" fill="#00d"/><path d="M254 0h3V233.9h-3z" fill="#008add"/><path d="M257 0h2V233.9h-2z" fill="#00a773"/><path d="M259 0h2V233.9h-2z" fill="#00d"/><path d="M261 0h2V233.9h-2z" fill="#00aaa3"/><path d="M263 0h1V233.9h-1z" fill="#0300aa"/><path d="M264 0h1V233.9h-1z" fill="#870098"/><path d="M265 0h1V233.9h-1z" fill="#0000bd"/><path d="M266 0h1V233.9h-1z" fill="#870098"/><path d="M267 0h1V233.9h-1z" fill="#0000bd"/><path d="M268 0h4V233.9h-4z" fill="#670075"/><path d="M272 0h3V233.9h-3z" fill="#5d006b"/><path d="M275 0h1V233.9h-1z" fill="#540060"/><path d="M276 0h3V233.9h-3z" fill="#7f0090"/><path d="M279 0h2V233.9h-2z" fill="#4b0055"/><path d="M281 0h3V233.9h-3z" fill="#41004b"/><path d="M284 0h4V233.9h-4z" fill="#380040"/><path d="M288 0h4V233.9h-4z" fill="#2f0035"/><path d="M292 0h5V233.9h-5z" fill="#25002b"/><path d="M297 0h6V233.9h-6z" fill="#1c0020"/><path d="M303 0h10V233.9h-10z" fill="#130015"/><path d="M313 0h2V233.9h-2z" fill="#09000b"/></g>
<g transform="translate(0,178.38)"><path d="M49 0h48V217.2h-48z" fill="#09000b"/><path d="M97 0h1V217.2h-1z" fill="#130015"/><path d="M98 0h1V217.2h-1z" fill="#1c0020"/><path d="M99 0h1V217.2h-1z" fill="#25002b"/><path d="M100 0h1V217.2h-1z" fill="#380040"/><path d="M101 0h1V217.2h-1z" fill="#540060"/><path d="M102 0h1V217.2h-1z" fill="#700080"/><path d="M103 0h1V217.2h-1z" fill="#7e008f"/><path d="M104 0h1V217.2h-1z" fill="#820093"/><path d="M105 0h1V217.2h-1z" fill="#860097"/><path d="M106 0h1V217.2h-1z" fill="#4d00a0"/><path d="M107 0h1V217.2h-1z" fill="#0000bd"/><path d="M108 0h1V217.2h-1z" fill="#00d"/><path d="M109 0h1V217.2h-1z" fill="#0070dd"/><path d="M110 0h1V217.2h-1z" fill="#008ddd"/><path d="M111 0h1V217.2h-1z" fill="#009adb"/><path d="M112 0h1V217.2h-1z" fill="#009bd7"/><path d="M113 0h1V217.2h-1z" fill="#009ecf"/><path d="M114 0h1V217.2h-1z" fill="#009fcb"/><path d="M115 0h1V217.2h-1z" fill="#00a2c3"/><path d="M116 0h2V217.2h-2z" fill="#00a0c7"/><path d="M118 0h1V217.2h-1z" fill="#00a6b7"/><path d="M119 0h1V217.2h-1z" fill="#00a7b3"/><path d="M120 0h1V217.2h-1z" fill="#00a3bf"/><path d="M121 0h6V217.2h-6z" fill="#00a6b7"/><path d="M127 0h5V217.2h-5z" fill="#00aaab"/><path d="M132 0h7V217.2h-7z" fill="#00a8af"/><path d="M139 0h11V217.2h-11z" fill="#00aaab"/><path d="M150 0h1V217.2h-1z" fill="#00aaa8"/><path d="M151 0h2V217.2h-2z" fill="#00aaa5"/><path d="M153 0h1V217.2h-1z" fill="#00aaa8"/><path d="M154 0h2V217.2h-2z" fill="#00aaa5"/><path d="M156 0h2V217.2h-2z" fill="#00aaa3"/><path d="M158 0h2V217.2h-2z" fill="#00aaa0"/><path d="M160 0h1V217.2h-1z" fill="#00aa9d"/><path d="M161 0h2V217.2h-2z" fill="#00aa9b"/><path d="M163 0h1V217.2h-1z" fill="#00aa98"/><path d="M164 0h2V217.2h-2z" fill="#00aa95"/><path d="M166 0h1V217.2h-1z" fill="#00aa90"/><path d="M167 0h1V217.2h-1z" fill="#00aa8d"/><path d="M168 0h1V217.2h-1z" fill="#00aa8b"/><path d="M169 0h1V217.2h-1z" fill="#00a773"/><path d="M170 0h1V217.2h-1z" fill="#00a668"/><path d="M171 0h1V217.2h-1z" fill="#00a353"/><path d="M172 0h1V217.2h-1z" fill="#00a248"/><path d="M173 0h1V217.2h-1z" fill="#009e28"/><path d="M174 0h1V217.2h-1z" fill="#009d1d"/><path d="M175 0h1V217.2h-1z" fill="#009e28"/><path d="M176 0h1V217.2h-1z" fill="#009b13"/><path d="M177 0h1V217.2h-1z" fill="#009a08"/><path d="M178 0h5V217.2h-5z" fill="#009a00"/><path d="M183 0h3V217.2h-3z" fill="#009b13"/><path d="M186 0h1V217.2h-1z" fill="#009a00"/><path d="M187 0h1V217.2h-1z" fill="#009a08"/><path d="M188 0h1V217.2h-1z" fill="#009d1d"/><path d="M189 0h1V217.2h-1z" fill="#009e28"/><path d="M190 0h1V217.2h-1z" fill="#00a13d"/><path d="M191 0h1V217.2h-1z" fill="#00a248"/><path d="M192 0h1V217.2h-1z" fill="#00a55d"/><path d="M193 0h1V217.2h-1z" fill="#00a353"/><path d="M194 0h1V217.2h-1z" fill="#00a55d"/><path d="M195 0h1V217.2h-1z" fill="#00aa8b"/><path d="M196 0h1V217.2h-1z" fill="#00aa8d"/><path d="M197 0h1V217.2h-1z" fill="#00aa90"/><path d="M198 0h1V217.2h-1z" fill="#00aa93"/><path d="M199 0h1V217.2h-1z" fill="#00aa95"/><path d="M200 0h1V217.2h-1z" fill="#00aa93"/><path d="M201 0h1V217.2h-1z" fill="#00aa95"/><path d="M202 0h1V217.2h-1z" fill="#00aa9b"/><path d="M203 0h1V217.2h-1z" fill="#00aa9d"/><path d="M204 0h1V217.2h-1z" fill="#00aaa0"/><path d="M205 0h1V217.2h-1z" fill="#00aaa5"/><path d="M206 0h1V217.2h-1z" fill="#00aaab"/><path d="M207 0h1V217.2h-1z" fill="#00a7b3"/><path d="M208 0h1V217.2h-1z" fill="#00a2c3"/><path d="M209 0h1V217.2h-1z" fill="#00a0c7"/><path d="M210 0h1V217.2h-1z" fill="#009cd3"/><path d="M211 0h1V217.2h-1z" fill="#0098dd"/><path d="M212 0h1V217.2h-1z" fill="#0092dd"/><path d="M213 0h1V217.2h-1z" fill="#008ddd"/><path d="M214 0h1V217.2h-1z" fill="#08d"/><path d="M215 0h1V217.2h-1z" fill="#0080dd"/><path d="M216 0h1V217.2h-1z" fill="#007add"/><path d="M217 0h1V217.2h-1z" fill="#0067dd"/><path d="M218 0h1V217.2h-1z" fill="#004bdd"/><path d="M219 0h1V217.2h-1z" fill="#002fdd"/><path d="M220 0h2V217.2h-2z" fill="#001cdd"/><path d="M222 0h1V217.2h-1z" fill="#0013dd"/><path d="M223 0h1V217.2h-1z" fill="#0009dd"/><path d="M224 0h3V217.2h-3z" fill="#00d"/><path d="M227 0h3V217.2h-3z" fill="#0000d9"/><path d="M230 0h3V217.2h-3z" fill="#0000d5"/><path d="M233 0h1V217.2h-1z" fill="#0000d1"/><path d="M234 0h1V217.2h-1z" fill="#0000cd"/><path d="M235 0h1V217.2h-1z" fill="#0000c9"/><path d="M236 0h1V217.2h-1z" fill="#0000c5"/><path d="M237 0h1V217.2h-1z" fill="#0000c1"/><path d="M238 0h1V217.2h-1z" fill="#0000bd"/><path d="M239 0h1V217.2h-1z" fill="#0000b1"/><path d="M240 0h1V217.2h-1z" fill="#0000ad"/><path d="M241 0h1V217.2h-1z" fill="#0d00a8"/><path d="M242 0h1V217.2h-1z" fill="#1800a7"/><path d="M243 0h1V217.2h-1z" fill="#2d00a4"/><path d="M244 0h1V217.2h-1z" fill="#4300a2"/><path d="M245 0h1V217.2h-1z" fill="#58009f"/><path d="M246 0h1V217.2h-1z" fill="#6d009c"/><path d="M247 0h2V217.2h-2z" fill="#00aa8d"/><path d="M249 0h2V217.2h-2z" fill="#00d"/><path d="M251 0h2V217.2h-2z" fill="#0080dd"/><path d="M253 0h1V217.2h-1z" fill="#00d"/><path d="M254 0h3V217.2h-3z" fill="#008add"/><path d="M257 0h2V217.2h-2z" fill="#00a773"/><path d="M259 0h2V217.2h-2z" fill="#00d"/><path d="M261 0h2V217.2h-2z" fill="#00aaa3"/><path d="M263 0h1V217.2h-1z" fill="#0300aa"/><path d="M264 0h1V217.2h-1z" fill="#870098"/><path d="M265 0h1V217.2h-1z" fill="#0000bd"/><path d="M266 0h1V217.2h-1z" fill="#870098"/><path d="M267 0h1V217.2h-1z" fill="#0000bd"/><path d="M268 0h1V217.2h-1z" fill="#670075"/><path d="M269 0h4V217.2h-4z" fill="#5d006b"/><path d="M273 0h3V217.2h-3z" fill="#540060"/><path d="M276 0h3V217.2h-3z" fill="#7e008f"/><path d="M279 0h1V217.2h-1z" fill="#4b0055"/><path d="M280 0h3V217.2h-3z" fill="#41004b"/><path d="M283 0h3V217.2h-3z" fill="#380040"/><path d="M286 0h5V217.2h-5z" fill="#2f0035"/><path d="M291 0h5V217.2h-5z" fill="#25002b"/><path d="M296 0h6V217.2h-6z" fill="#1c0020"/><path d="M302 0h10V217.2h-10z" fill="#130015"/><path d="M312 0h3V217.2h-3z" fill="#09000b"/></g>
<g transform="translate(0,195.09)"><path d="M49 0h48V200.5h-48z" fill="#09000b"/><path d="M97 0h1V200.5h-1z" fill="#130015"/><path d="M98 0h1V200.5h-1z" fill="#1c0020"/><path d="M99 0h1V200.5h-1z" fill="#25002b"/><path d="M100 0h1V200.5h-1z" fill="#380040"/><path d="M101 0h1V200.5h-1z" fill="#540060"/><path d="M102 0h1V200.5h-1z" fill="#700080"/><path d="M103 0h1V200.5h-1z" fill="#7e008f"/><path d="M104 0h1V200.5h-1z" fill="#820093"/><path d="M105 0h1V200.5h-1z" fill="#860097"/><path d="M106 0h1V200.5h-1z" fill="#4d00a0"/><path d="M107 0h1V200.5h-1z" fill="#0000bd"/><path d="M108 0h1V200.5h-1z" fill="#00d"/><path d="M109 0h1V200.5h-1z" fill="#0070dd"/><path d="M110 0h1V200.5h-1z" fill="#008ddd"/><path d="M111 0h1V200.5h-1z" fill="#009adb"/><path d="M112 0h1V200.5h-1z" fill="#009cd3"/><path d="M113 0h1V200.5h-1z" fill="#009fcb"/><path d="M114 0h1V200.5h-1z" fill="#00a2c3"/><path d="M115 0h1V200.5h-1z" fill="#00a6b7"/><path d="M116 0h1V200.5h-1z" fill="#00a3bf"/><path d="M117 0h1V200.5h-1z" fill="#00a6b7"/><path d="M118 0h2V200.5h-2z" fill="#00aaab"/><path d="M120 0h1V200.5h-1z" fill="#00a8af"/><path d="M121 0h5V200.5h-5z" fill="#00aaab"/><path d="M126 0h1V200.5h-1z" fill="#00aaa8"/><path d="M127 0h5V200.5h-5z" fill="#00aaa0"/><path d="M132 0h7V200.5h-7z" fill="#00aaa3"/><path d="M139 0h11V200.5h-11z" fill="#00aaa0"/><path d="M150 0h1V200.5h-1z" fill="#00aa9d"/><path d="M151 0h1V200.5h-1z" fill="#00aa9b"/><path d="M152 0h1V200.5h-1z" fill="#00aa98"/><path d="M153 0h1V200.5h-1z" fill="#00aa9b"/><path d="M154 0h2V200.5h-2z" fill="#00aa98"/><path d="M156 0h2V200.5h-2z" fill="#00aa95"/><path d="M158 0h2V200.5h-2z" fill="#00aa93"/><path d="M160 0h1V200.5h-1z" fill="#00aa90"/><path d="M161 0h2V200.5h-2z" fill="#00aa8d"/><path d="M163 0h1V200.5h-1z" fill="#00aa8b"/><path d="M164 0h2V200.5h-2z" fill="#0a8"/><path d="M166 0h1V200.5h-1z" fill="#00a773"/><path d="M167 0h1V200.5h-1z" fill="#00a668"/><path d="M168 0h1V200.5h-1z" fill="#00a55d"/><path d="M169 0h1V200.5h-1z" fill="#00a13d"/><path d="M170 0h1V200.5h-1z" fill="#009f33"/><path d="M171 0h1V200.5h-1z" fill="#009d1d"/><path d="M172 0h1V200.5h-1z" fill="#009b13"/><path d="M173 0h1V200.5h-1z" fill="#009c00"/><path d="M174 0h1V200.5h-1z" fill="#009f00"/><path d="M175 0h1V200.5h-1z" fill="#009a08"/><path d="M176 0h1V200.5h-1z" fill="#009c00"/><path d="M177 0h6V200.5h-6z" fill="#009f00"/><path d="M183 0h3V200.5h-3z" fill="#009c00"/><path d="M186 0h2V200.5h-2z" fill="#009f00"/><path d="M188 0h1V200.5h-1z" fill="#009a00"/><path d="M189 0h1V200.5h-1z" fill="#009c00"/><path d="M190 0h1V200.5h-1z" fill="#009a08"/><path d="M191 0h1V200.5h-1z" fill="#009b13"/><path d="M192 0h1V200.5h-1z" fill="#009e28"/><path d="M193 0h1V200.5h-1z" fill="#009d1d"/><path d="M194 0h1V200.5h-1z" fill="#009e28"/><path d="M195 0h1V200.5h-1z" fill="#00a55d"/><path d="M196 0h1V200.5h-1z" fill="#00a668"/><path d="M197 0h1V200.5h-1z" fill="#00a773"/><path d="M198 0h1V200.5h-1z" fill="#00a97d"/><path d="M199 0h1V200.5h-1z" fill="#0a8"/><path d="M200 0h1V200.5h-1z" fill="#00a97d"/><path d="M201 0h1V200.5h-1z" fill="#0a8"/><path d="M202 0h1V200.5h-1z" fill="#00aa8d"/><path d="M203 0h1V200.5h-1z" fill="#00aa90"/><path d="M204 0h1V200.5h-1z" fill="#00aa93"/><path d="M205 0h1V200.5h-1z" fill="#00aa98"/><path d="M206 0h1V200.5h-1z" fill="#00aaa0"/><path d="M207 0h1V200.5h-1z" fill="#00aaa8"/><path d="M208 0h1V200.5h-1z" fill="#00a7b3"/><path d="M209 0h1V200.5h-1z" fill="#00a3bf"/><path d="M210 0h1V200.5h-1z" fill="#009ecf"/><path d="M211 0h1V200.5h-1z" fill="#0098dd"/><path d="M212 0h1V200.5h-1z" fill="#0092dd"/><path d="M213 0h1V200.5h-1z" fill="#008ddd"/><path d="M214 0h1V200.5h-1z" fill="#08d"/><path d="M215 0h1V200.5h-1z" fill="#0080dd"/><path d="M216 0h1V200.5h-1z" fill="#007add"/><path d="M217 0h1V200.5h-1z" fill="#0067dd"/><path d="M218 0h1V200.5h-1z" fill="#004bdd"/><path d="M219 0h1V200.5h-1z" fill="#002fdd"/><path d="M220 0h2V200.5h-2z" fill="#001cdd"/><path d="M222 0h1V200.5h-1z" fill="#0013dd"/><path d="M223 0h1V200.5h-1z" fill="#0009dd"/><path d="M224 0h3V200.5h-3z" fill="#00d"/><path d="M227 0h3V200.5h-3z" fill="#0000d9"/><path d="M230 0h3V200.5h-3z" fill="#0000d5"/><path d="M233 0h1V200.5h-1z" fill="#0000d1"/><path d="M234 0h1V200.5h-1z" fill="#0000cd"/><path d="M235 0h1V200.5h-1z" fill="#0000c9"/><path d="M236 0h1V200.5h-1z" fill="#0000c5"/><path d="M237 0h1V200.5h-1z" fill="#0000c1"/><path d="M238 0h1V200.5h-1z" fill="#0000bd"/><path d="M239 0h1V200.5h-1z" fill="#0000b1"/><path d="M240 0h1V200.5h-1z" fill="#0000ad"/><path d="M241 0h1V200.5h-1z" fill="#0d00a8"/><path d="M242 0h1V200.5h-1z" fill="#1800a7"/><path d="M243 0h1V200.5h-1z" fill="#2d00a4"/><path d="M244 0h1V200.5h-1z" fill="#4300a2"/><path d="M245 0h1V200.5h-1z" fill="#58009f"/><path d="M246 0h1V200.5h-1z" fill="#6d009c"/><path d="M247 0h2V200.5h-2z" fill="#00aa8d"/><path d="M249 0h2V200.5h-2z" fill="#00d"/><path d="M251 0h2V200.5h-2z" fill="#0080dd"/><path d="M253 0h1V200.5h-1z" fill="#00d"/><path d="M254 0h3V200.5h-3z" fill="#008add"/><path d="M257 0h2V200.5h-2z" fill="#00a773"/><path d="M259 0h2V200.5h-2z" fill="#00d"/><path d="M261 0h2V200.5h-2z" fill="#00aaa3"/><path d="M263 0h1V200.5h-1z" fill="#0300aa"/><path d="M264 0h1V200.5h-1z" fill="#870098"/><path d="M265 0h1V200.5h-1z" fill="#0000bd"/><path d="M266 0h1V200.5h-1z" fill="#870098"/><path d="M267 0h1V200.5h-1z" fill="#0000bd"/><path d="M268 0h1V200.5h-1z" fill="#670075"/><path d="M269 0h4V200.5h-4z" fill="#5d006b"/><path d="M273 0h3V200.5h-3z" fill="#540060"/><path d="M276 0h3V200.5h-3z" fill="#7e008f"/><path d="M279 0h1V200.5h-1z" fill="#4b0055"/><path d="M280 0h3V200.5h-3z" fill="#41004b"/><path d="M283 0h3V200.5h-3z" fill="#380040"/><path d="M286 0h5V200.5h-5z" fill="#2f0035"/><path d="M291 0h5V200.5h-5z" fill="#25002b"/><path d="M296 0h6V200.5h-6z" fill="#1c0020"/><path d="M302 0h10V200.5h-10z" fill="#130015"/><path d="M312 0h3V200.5h-3z" fill="#09000b"/></g>
<g transform="translate(0,211.80)"><path d="M49 0h48V183.8h-48z" fill="#09000b"/><path d="M97 0h1V183.8h-1z" fill="#130015"/><path d="M98 0h1V183.8h-1z" fill="#1c0020"/><path d="M99 0h1V183.8h-1z" fill="#25002b"/><path d="M100 0h1V183.8h-1z" fill="#380040"/><path d="M101 0h1V183.8h-1z" fill="#540060"/><path d="M102 0h1V183.8h-1z" fill="#700080"/><path d="M103 0h1V183.8h-1z" fill="#7e008f"/><path d="M104 0h1V183.8h-1z" fill="#820093"/><path d="M105 0h1V183.8h-1z" fill="#860097"/><path d="M106 0h1V183.8h-1z" fill="#4d00a0"/><path d="M107 0h1V183.8h-1z" fill="#0000bd"/><path d="M108 0h1V183.8h-1z" fill="#00d"/><path d="M109 0h1V183.8h-1z" fill="#0070dd"/><path d="M110 0h1V183.8h-1z" fill="#008ddd"/><path d="M111 0h1V183.8h-1z" fill="#009adb"/><path d="M112 0h1V183.8h-1z" fill="#009bd7"/><path d="M113 0h1V183.8h-1z" fill="#009ecf"/><path d="M114 0h1V183.8h-1z" fill="#009fcb"/><path d="M115 0h1V183.8h-1z" fill="#00a2c3"/><path d="M116 0h2V183.8h-2z" fill="#00a0c7"/><path d="M118 0h1V183.8h-1z" fill="#00a6b7"/><path d="M119 0h1V183.8h-1z" fill="#00a7b3"/><path d="M120 0h1V183.8h-1z" fill="#00a3bf"/><path d="M121 0h6V183.8h-6z" fill="#00a6b7"/><path d="M127 0h5V183.8h-5z" fill="#00aaab"/><path d="M132 0h7V183.8h-7z" fill="#00a8af"/><path d="M139 0h11V183.8h-11z" fill="#00aaab"/><path d="M150 0h1V183.8h-1z" fill="#00aaa8"/><path d="M151 0h2V183.8h-2z" fill="#00aaa5"/><path d="M153 0h1V183.8h-1z" fill="#00aaa8"/><path d="M154 0h2V183.8h-2z" fill="#00aaa5"/><path d="M156 0h2V183.8h-2z" fill="#00aaa3"/><path d="M158 0h2V183.8h-2z" fill="#00aaa0"/><path d="M160 0h1V183.8h-1z" fill="#00aa9d"/><path d="M161 0h2V183.8h-2z" fill="#00aa9b"/><path d="M163 0h1V183.8h-1z" fill="#00aa98"/><path d="M164 0h2V183.8h-2z" fill="#00aa95"/><path d="M166 0h1V183.8h-1z" fill="#00aa90"/><path d="M167 0h1V183.8h-1z" fill="#00aa8d"/><path d="M168 0h1V183.8h-1z" fill="#00aa8b"/><path d="M169 0h1V183.8h-1z" fill="#00a773"/><path d="M170 0h1V183.8h-1z" fill="#00a668"/><path d="M171 0h1V183.8h-1z" fill="#00a353"/><path d="M172 0h1V183.8h-1z" fill="#00a248"/><path d="M173 0h1V183.8h-1z" fill="#009e28"/><path d="M174 0h1V183.8h-1z" fill="#009d1d"/><path d="M175 0h1V183.8h-1z" fill="#009e28"/><path d="M176 0h1V183.8h-1z" fill="#009b13"/><path d="M177 0h1V183.8h-1z" fill="#009a08"/><path d="M178 0h5V183.8h-5z" fill="#009a00"/><path d="M183 0h3V183.8h-3z" fill="#009b13"/><path d="M186 0h1V183.8h-1z" fill="#009a00"/><path d="M187 0h1V183.8h-1z" fill="#009a08"/><path d="M188 0h1V183.8h-1z" fill="#009d1d"/><path d="M189 0h1V183.8h-1z" fill="#009e28"/><path d="M190 0h1V183.8h-1z" fill="#00a13d"/><path d="M191 0h1V183.8h-1z" fill="#00a248"/><path d="M192 0h1V183.8h-1z" fill="#00a55d"/><path d="M193 0h1V183.8h-1z" fill="#00a353"/><path d="M194 0h1V183.8h-1z" fill="#00a55d"/><path d="M195 0h1V183.8h-1z" fill="#00aa8b"/><path d="M196 0h1V183.8h-1z" fill="#00aa8d"/><path d="M197 0h1V183.8h-1z" fill="#00aa90"/><path d="M198 0h1V183.8h-1z" fill="#00aa93"/><path d="M199 0h1V183.8h-1z" fill="#00aa95"/><path d="M200 0h1V183.8h-1z" fill="#00aa93"/><path d="M201 0h1V183.8h-1z" fill="#00aa95"/><path d="M202 0h1V183.8h-1z" fill="#00aa9b"/><path d="M203 0h1V183.8h-1z" fill="#00aa9d"/><path d="M204 0h1V183.8h-1z" fill="#00aaa0"/><path d="M205 0h1V183.8h-1z" fill="#00aaa5"/><path d="M206 0h1V183.8h-1z" fill="#00aaab"/><path d="M207 0h1V183.8h-1z" fill="#00a7b3"/><path d="M208 0h1V183.8h-1z" fill="#00a2c3"/><path d="M209 0h1V183.8h-1z" fill="#00a0c7"/><path d="M210 0h1V183.8h-1z" fill="#009cd3"/><path d="M211 0h1V183.8h-1z" fill="#0098dd"/><path d="M212 0h1V183.8h-1z" fill="#0092dd"/><path d="M213 0h1V183.8h-1z" fill="#008ddd"/><path d="M214 0h1V183.8h-1z" fill="#08d"/><path d="M215 0h1V183.8h-1z" fill="#0080dd"/><path d="M216 0h1V183.8h-1z" fill="#007add"/><path d="M217 0h1V183.8h-1z" fill="#0067dd"/><path d="M218 0h1V183.8h-1z" fill="#004bdd"/><path d="M219 0h1V183.8h-1z" fill="#002fdd"/><path d="M220 0h2V183.8h-2z" fill="#001cdd"/><path d="M222 0h1V183.8h-1z" fill="#0013dd"/><path d="M223 0h1V183.8h-1z" fill="#0009dd"/><path d="M224 0h3V183.8h-3z" fill="#00d"/><path d="M227 0h3V183.8h-3z" fill="#0000d9"/><path d="M230 0h3V183.8h-3z" fill="#0000d5"/><path d="M233 0h1V183.8h-1z" fill="#0000d1"/><path d="M234 0h1V183.8h-1z" fill="#0000cd"/><path d="M235 0h1V183.8h-1z" fill="#0000c9"/><path d="M236 0h1V183.8h-1z" fill="#0000c5"/><path d="M237 0h1V183.8h-1z" fill="#0000c1"/><path d="M238 0h1V183.8h-1z" fill="#0000bd"/><path d="M239 0h1V183.8h-1z" fill="#0000b1"/><path d="M240 0h1V183.8h-1z" fill="#0000ad"/><path d="M241 0h1V183.8h-1z" fill="#0d00a8"/><path d="M242 0h1V183.8h-1z" fill="#1800a7"/><path d="M243 0h1V183.8h-1z" fill="#2d00a4"/><path d="M244 0h1V183.8h-1z" fill="#4300a2"/><path d="M245 0h1V183.8h-1z" fill="#58009f"/><path d="M246 0h1V183.8h-1z" fill="#6d009c"/><path d="M247 0h2V183.8h-2z" fill="#00aa8d"/><path d="M249 0h2V183.8h-2z" fill="#00d"/><path d="M251 0h2V183.8h-2z" fill="#0080dd"/><path d="M253 0h1V183.8h-1z" fill="#00d"/><path d="M254 0h3V183.8h-3z" fill="#008add"/><path d="M257 0h2V183.8h-2z" fill="#00a773"/><path d="M259 0h2V183.8h-2z" fill="#00d"/><path d="M261 0h2V183.8h-2z" fill="#00aaa3"/><path d="M263 0h1V183.8h-1z" fill="#0300aa"/><path d="M264 0h1V183.8h-1z" fill="#870098"/><path d="M265 0h1V183.8h-1z" fill="#0000bd"/><path d="M266 0h1V183.8h-1z" fill="#870098"/><path d="M267 0h1V183.8h-1z" fill="#0000bd"/><path d="M268 0h1V183.8h-1z" fill="#670075"/><path d="M269 0h4V183.8h-4z" fill="#5d006b"/><path d="M273 0h3V183.8h-3z" fill="#540060"/><path d="M276 0h1V183.8h-1z" fill="#7e008f"/><path d="M277 0h2V183.8h-2z" fill="#0000d5"/><path d="M279 0h1V183.8h-1z" fill="#4b0055"/><path d="M280 0h3V183.8h-3z" fill="#41004b"/><path d="M283 0h3V183.8h-3z" fill="#380040"/><path d="M286 0h5V183.8h-5z" fill="#2f0035"/><path d="M291 0h5V183.8h-5z" fill="#25002b"/><path d="M296 0h6V183.8h-6z" fill="#1c0020"/><path d="M302 0h10V183.8h-10z" fill="#130015"/><path d="M312 0h3V183.8h-3z" fill="#09000b"/></g>
<g transform="translate(0,228.51)"><path d="M49 0h48V167.1h-48z" fill="#09000b"/><path d="M97 0h1V167.1h-1z" fill="#130015"/><path d="M98 0h1V167.1h-1z" fill="#1c0020"/><path d="M99 0h1V167.1h-1z" fill="#25002b"/><path d="M100 0h1V167.1h-1z" fill="#380040"/><path d="M101 0h1V167.1h-1z" fill="#540060"/><path d="M102 0h1V167.1h-1z" fill="#700080"/><path d="M103 0h1V167.1h-1z" fill="#7e008f"/><path d="M104 0h1V167.1h-1z" fill="#820093"/><path d="M105 0h1V167.1h-1z" fill="#860097"/><path d="M106 0h1V167.1h-1z" fill="#4d00a0"/><path d="M107 0h1V167.1h-1z" fill="#0000bd"/><path d="M108 0h1V167.1h-1z" fill="#00d"/><path d="M109 0h1V167.1h-1z" fill="#0070dd"/><path d="M110 0h1V167.1h-1z" fill="#008ddd"/><path d="M111 0h1V167.1h-1z" fill="#009adb"/><path d="M112 0h1V167.1h-1z" fill="#009bd7"/><path d="M113 0h1V167.1h-1z" fill="#009cd3"/><path d="M114 0h1V167.1h-1z" fill="#009ecf"/><path d="M115 0h1V167.1h-1z" fill="#009fcb"/><path d="M116 0h1V167.1h-1z" fill="#009ecf"/><path d="M117 0h1V167.1h-1z" fill="#009fcb"/><path d="M118 0h2V167.1h-2z" fill="#00a2c3"/><path d="M120 0h2V167.1h-2z" fill="#00a0c7"/><path d="M122 0h2V167.1h-2z" fill="#00a2c3"/><path d="M124 0h2V167.1h-2z" fill="#00a0c7"/><path d="M126 0h1V167.1h-1z" fill="#00a2c3"/><path d="M127 0h2V167.1h-2z" fill="#00a6b7"/><path d="M129 0h3V167.1h-3z" fill="#00a7b3"/><path d="M132 0h7V167.1h-7z" fill="#00a3bf"/><path d="M139 0h12V167.1h-12z" fill="#00a6b7"/><path d="M151 0h1V167.1h-1z" fill="#00a7b3"/><path d="M152 0h1V167.1h-1z" fill="#00a8af"/><path d="M153 0h3V167.1h-3z" fill="#00a7b3"/><path d="M156 0h2V167.1h-2z" fill="#00a8af"/><path d="M158 0h2V167.1h-2z" fill="#00aaab"/><path d="M160 0h1V167.1h-1z" fill="#00aaa8"/><path d="M161 0h2V167.1h-2z" fill="#00aaa5"/><path d="M163 0h1V167.1h-1z" fill="#00aaa3"/><path d="M164 0h1V167.1h-1z" fill="#00aaa0"/><path d="M165 0h1V167.1h-1z" fill="#00aa9d"/><path d="M166 0h1V167.1h-1z" fill="#00aa9b"/><path d="M167 0h1V167.1h-1z" fill="#00aa98"/><path d="M168 0h1V167.1h-1z" fill="#00aa95"/><path d="M169 0h1V167.1h-1z" fill="#00aa8d"/><path d="M170 0h1V167.1h-1z" fill="#00aa8b"/><path d="M171 0h1V167.1h-1z" fill="#00a97d"/><path d="M172 0h1V167.1h-1z" fill="#00a668"/><path d="M173 0h1V167.1h-1z" fill="#00a353"/><path d="M174 0h1V167.1h-1z" fill="#00a248"/><path d="M175 0h1V167.1h-1z" fill="#00a13d"/><path d="M176 0h1V167.1h-1z" fill="#009f33"/><path d="M177 0h4V167.1h-4z" fill="#009d1d"/><path d="M181 0h2V167.1h-2z" fill="#009b13"/><path d="M183 0h3V167.1h-3z" fill="#009e28"/><path d="M186 0h1V167.1h-1z" fill="#009b13"/><path d="M187 0h1V167.1h-1z" fill="#009d1d"/><path d="M188 0h1V167.1h-1z" fill="#00a13d"/><path d="M189 0h1V167.1h-1z" fill="#00a248"/><path d="M190 0h1V167.1h-1z" fill="#00a668"/><path d="M191 0h1V167.1h-1z" fill="#00a773"/><path d="M192 0h1V167.1h-1z" fill="#0a8"/><path d="M193 0h1V167.1h-1z" fill="#00a97d"/><path d="M194 0h1V167.1h-1z" fill="#0a8"/><path d="M195 0h1V167.1h-1z" fill="#00aa95"/><path d="M196 0h1V167.1h-1z" fill="#00aa98"/><path d="M197 0h1V167.1h-1z" fill="#00aa9b"/><path d="M198 0h1V167.1h-1z" fill="#00aa9d"/><path d="M199 0h1V167.1h-1z" fill="#00aaa0"/><path d="M200 0h1V167.1h-1z" fill="#00aa9d"/><path d="M201 0h1V167.1h-1z" fill="#00aaa0"/><path d="M202 0h1V167.1h-1z" fill="#00aaa5"/><path d="M203 0h1V167.1h-1z" fill="#00aaa8"/><path d="M204 0h1V167.1h-1z" fill="#00aaab"/><path d="M205 0h1V167.1h-1z" fill="#00a8af"/><path d="M206 0h1V167.1h-1z" fill="#00a6b7"/><path d="M207 0h1V167.1h-1z" fill="#00a2c3"/><path d="M208 0h1V167.1h-1z" fill="#00a0c7"/><path d="M209 0h1V167.1h-1z" fill="#009ecf"/><path d="M210 0h1V167.1h-1z" fill="#009bd7"/><path d="M211 0h1V167.1h-1z" fill="#0098dd"/><path d="M212 0h1V167.1h-1z" fill="#0092dd"/><path d="M213 0h1V167.1h-1z" fill="#008ddd"/><path d="M214 0h1V167.1h-1z" fill="#08d"/><path d="M215 0h1V167.1h-1z" fill="#0080dd"/><path d="M216 0h1V167.1h-1z" fill="#007add"/><path d="M217 0h1V167.1h-1z" fill="#0067dd"/><path d="M218 0h1V167.1h-1z" fill="#004bdd"/><path d="M219 0h1V167.1h-1z" fill="#002fdd"/><path d="M220 0h2V167.1h-2z" fill="#001cdd"/><path d="M222 0h1V167.1h-1z" fill="#0013dd"/><path d="M223 0h1V167.1h-1z" fill="#0009dd"/><path d="M224 0h3V167.1h-3z" fill="#00d"/><path d="M227 0h3V167.1h-3z" fill="#0000d9"/><path d="M230 0h3V167.1h-3z" fill="#0000d5"/><path d="M233 0h1V167.1h-1z" fill="#0000d1"/><path d="M234 0h1V167.1h-1z" fill="#0000cd"/><path d="M235 0h1V167.1h-1z" fill="#0000c9"/><path d="M236 0h1V167.1h-1z" fill="#0000c5"/><path d="M237 0h1V167.1h-1z" fill="#0000c1"/><path d="M238 0h1V167.1h-1z" fill="#0000bd"/><path d="M239 0h1V167.1h-1z" fill="#0000b1"/><path d="M240 0h1V167.1h-1z" fill="#0000ad"/><path d="M241 0h1V167.1h-1z" fill="#0d00a8"/><path d="M242 0h1V167.1h-1z" fill="#1800a7"/><path d="M243 0h1V167.1h-1z" fill="#2d00a4"/><path d="M244 0h1V167.1h-1z" fill="#4300a2"/><path d="M245 0h1V167.1h-1z" fill="#58009f"/><path d="M246 0h1V167.1h-1z" fill="#6d009c"/><path d="M247 0h2V167.1h-2z" fill="#00aa8d"/><path d="M249 0h2V167.1h-2z" fill="#00d"/><path d="M251 0h2V167.1h-2z" fill="#0080dd"/><path d="M253 0h1V167.1h-1z" fill="#00d"/><path d="M254 0h3V167.1h-3z" fill="#008add"/><path d="M257 0h2V167.1h-2z" fill="#00a773"/><path d="M259 0h2V167.1h-2z" fill="#00d"/><path d="M261 0h2V167.1h-2z" fill="#00aaa3"/><path d="M263 0h1V167.1h-1z" fill="#0300aa"/><path d="M264 0h1V167.1h-1z" fill="#870098"/><path d="M265 0h1V167.1h-1z" fill="#0000bd"/><path d="M266 0h1V167.1h-1z" fill="#870098"/><path d="M267 0h1V167.1h-1z" fill="#0000bd"/><path d="M268 0h1V167.1h-1z" fill="#670075"/><path d="M269 0h4V167.1h-4z" fill="#5d006b"/><path d="M273 0h3V167.1h-3z" fill="#540060"/><path d="M276 0h3V167.1h-3z" fill="#7e008f"/><path d="M279 0h1V167.1h-1z" fill="#4b0055"/><path d="M280 0h3V167.1h-3z" fill="#41004b"/><path d="M283 0h3V167.1h-3z" fill="#380040"/><path d="M286 0h5V167.1h-5z" fill="#2f0035"/><path d="M291 0h5V167.1h-5z" fill="#25002b"/><path d="M296 0h6V167.1h-6z" fill="#1c0020"/><path d="M302 0h10V167.1h-10z" fill="#130015"/><path d="M312 0h3V167.1h-3z" fill="#09000b"/></g>
<g transform="translate(0,245.22)"><path d="M49 0h48V150.4h-48z" fill="#09000b"/><path d="M97 0h1V150.4h-1z" fill="#130015"/><path d="M98 0h1V150.4h-1z" fill="#1c0020"/><path d="M99 0h1V150.4h-1z" fill="#25002b"/><path d="M100 0h1V150.4h-1z" fill="#380040"/><path d="M101 0h1V150.4h-1z" fill="#540060"/><path d="M102 0h1V150.4h-1z" fill="#700080"/><path d="M103 0h1V150.4h-1z" fill="#7e008f"/><path d="M104 0h1V150.4h-1z" fill="#820093"/><path d="M105 0h1V150.4h-1z" fill="#860097"/><path d="M106 0h1V150.4h-1z" fill="#4d00a0"/><path d="M107 0h1V150.4h-1z" fill="#0000bd"/><path d="M108 0h1V150.4h-1z" fill="#00d"/><path d="M109 0h1V150.4h-1z" fill="#0070dd"/><path d="M110 0h1V150.4h-1z" fill="#008ddd"/><path d="M111 0h1V150.4h-1z" fill="#0098dd"/><path d="M112 0h1V150.4h-1z" fill="#009adb"/><path d="M113 0h1V150.4h-1z" fill="#009bd7"/><path d="M114 0h4V150.4h-4z" fill="#009cd3"/><path d="M118 0h2V150.4h-2z" fill="#009fcb"/><path d="M120 0h3V150.4h-3z" fill="#009ecf"/><path d="M123 0h1V150.4h-1z" fill="#009fcb"/><path d="M124 0h3V150.4h-3z" fill="#009ecf"/><path d="M127 0h4V150.4h-4z" fill="#00a0c7"/><path d="M131 0h1V150.4h-1z" fill="#00a2c3"/><path d="M132 0h7V150.4h-7z" fill="#009fcb"/><path d="M139 0h12V150.4h-12z" fill="#00a0c7"/><path d="M151 0h2V150.4h-2z" fill="#00a2c3"/><path d="M153 0h1V150.4h-1z" fill="#00a0c7"/><path d="M154 0h3V150.4h-3z" fill="#00a2c3"/><path d="M157 0h2V150.4h-2z" fill="#00a3bf"/><path d="M159 0h1V150.4h-1z" fill="#00a6b7"/><path d="M160 0h2V150.4h-2z" fill="#00a7b3"/><path d="M162 0h2V150.4h-2z" fill="#00a8af"/><path d="M164 0h1V150.4h-1z" fill="#00aaab"/><path d="M165 0h1V150.4h-1z" fill="#00aaa8"/><path d="M166 0h1V150.4h-1z" fill="#00aaa5"/><path d="M167 0h1V150.4h-1z" fill="#00aaa3"/><path d="M168 0h1V150.4h-1z" fill="#00aa9d"/><path d="M169 0h1V150.4h-1z" fill="#00aa98"/><path d="M170 0h1V150.4h-1z" fill="#00aa93"/><path d="M171 0h1V150.4h-1z" fill="#00aa90"/><path d="M172 0h1V150.4h-1z" fill="#00aa8b"/><path d="M173 0h1V150.4h-1z" fill="#00a97d"/><path d="M174 0h1V150.4h-1z" fill="#00a668"/><path d="M175 0h1V150.4h-1z" fill="#00a353"/><path d="M176 0h1V150.4h-1z" fill="#00a248"/><path d="M177 0h4V150.4h-4z" fill="#009f33"/><path d="M181 0h2V150.4h-2z" fill="#009e28"/><path d="M183 0h3V150.4h-3z" fill="#00a13d"/><path d="M186 0h1V150.4h-1z" fill="#009e28"/><path d="M187 0h1V150.4h-1z" fill="#009f33"/><path d="M188 0h1V150.4h-1z" fill="#00a353"/><path d="M189 0h1V150.4h-1z" fill="#00a773"/><path d="M190 0h1V150.4h-1z" fill="#0a8"/><path d="M191 0h1V150.4h-1z" fill="#00aa8d"/><path d="M192 0h1V150.4h-1z" fill="#00aa93"/><path d="M193 0h1V150.4h-1z" fill="#00aa90"/><path d="M194 0h1V150.4h-1z" fill="#00aa93"/><path d="M195 0h1V150.4h-1z" fill="#00aaa0"/><path d="M196 0h1V150.4h-1z" fill="#00aaa3"/><path d="M197 0h1V150.4h-1z" fill="#00aaa5"/><path d="M198 0h1V150.4h-1z" fill="#00aaa8"/><path d="M199 0h1V150.4h-1z" fill="#00aaab"/><path d="M200 0h1V150.4h-1z" fill="#00aaa8"/><path d="M201 0h1V150.4h-1z" fill="#00aaab"/><path d="M202 0h1V150.4h-1z" fill="#00a8af"/><path d="M203 0h1V150.4h-1z" fill="#00a6b7"/><path d="M204 0h1V150.4h-1z" fill="#00a3bf"/><path d="M205 0h1V150.4h-1z" fill="#00a2c3"/><path d="M206 0h1V150.4h-1z" fill="#00a0c7"/><path d="M207 0h1V150.4h-1z" fill="#009fcb"/><path d="M208 0h1V150.4h-1z" fill="#009ecf"/><path d="M209 0h1V150.4h-1z" fill="#009cd3"/><path d="M210 0h1V150.4h-1z" fill="#009bd7"/><path d="M211 0h1V150.4h-1z" fill="#0098dd"/><path d="M212 0h1V150.4h-1z" fill="#0092dd"/><path d="M213 0h1V150.4h-1z" fill="#008ddd"/><path d="M214 0h1V150.4h-1z" fill="#08d"/><path d="M215 0h1V150.4h-1z" fill="#0080dd"/><path d="M216 0h1V150.4h-1z" fill="#007add"/><path d="M217 0h1V150.4h-1z" fill="#0067dd"/><path d="M218 0h1V150.4h-1z" fill="#004bdd"/><path d="M219 0h1V150.4h-1z" fill="#002fdd"/><path d="M220 0h2V150.4h-2z" fill="#001cdd"/><path d="M222 0h1V150.4h-1z" fill="#0013dd"/><path d="M223 0h1V150.4h-1z" fill="#0009dd"/><path d="M224 0h3V150.4h-3z" fill="#00d"/><path d="M227 0h3V150.4h-3z" fill="#0000d9"/><path d="M230 0h3V150.4h-3z" fill="#0000d5"/><path d="M233 0h1V150.4h-1z" fill="#0000d1"/><path d="M234 0h1V150.4h-1z" fill="#0000cd"/><path d="M235 0h1V150.4h-1z" fill="#0000c9"/><path d="M236 0h1V150.4h-1z" fill="#0000c5"/><path d="M237 0h1V150.4h-1z" fill="#0000c1"/><path d="M238 0h1V150.4h-1z" fill="#0000bd"/><path d="M239 0h1V150.4h-1z" fill="#0000b1"/><path d="M240 0h1V150.4h-1z" fill="#0000ad"/><path d="M241 0h1V150.4h-1z" fill="#0d00a8"/><path d="M242 0h1V150.4h-1z" fill="#1800a7"/><path d="M243 0h1V150.4h-1z" fill="#2d00a4"/><path d="M244 0h1V150.4h-1z" fill="#4300a2"/><path d="M245 0h1V150.4h-1z" fill="#58009f"/><path d="M246 0h1V150.4h-1z" fill="#6d009c"/><path d="M247 0h2V150.4h-2z" fill="#00aa8d"/><path d="M249 0h2V150.4h-2z" fill="#00d"/><path d="M251 0h2V150.4h-2z" fill="#0080dd"/><path d="M253 0h1V150.4h-1z" fill="#00d"/><path d="M254 0h3V150.4h-3z" fill="#008add"/><path d="M257 0h2V150.4h-2z" fill="#00a773"/><path d="M259 0h2V150.4h-2z" fill="#00d"/><path d="M261 0h2V150.4h-2z" fill="#00aaa3"/><path d="M263 0h1V150.4h-1z" fill="#0300aa"/><path d="M264 0h1V150.4h-1z" fill="#870098"/><path d="M265 0h1V150.4h-1z" fill="#0000bd"/><path d="M266 0h1V150.4h-1z" fill="#870098"/><path d="M267 0h1V150.4h-1z" fill="#0000bd"/><path d="M268 0h1V150.4h-1z" fill="#670075"/><path d="M269 0h4V150.4h-4z" fill="#5d006b"/><path d="M273 0h3V150.4h-3z" fill="#540060"/><path d="M276 0h3V150.4h-3z" fill="#7e008f"/><path d="M279 0h1V150.4h-1z" fill="#4b0055"/><path d="M280 0h3V150.4h-3z" fill="#41004b"/><path d="M283 0h3V150.4h-3z" fill="#380040"/><path d="M286 0h5V150.4h-5z" fill="#2f0035"/><path d="M291 0h5V150.4h-5z" fill="#25002b"/><path d="M296 0h6V150.4h-6z" fill="#1c0020"/><path d="M302 0h10V150.4h-10z" fill="#130015"/><path d="M312 0h3V150.4h-3z" fill="#09000b"/></g>
<g transform="translate(0,261.93)"><path d="M49 0h48V133.7h-48z" fill="#09000b"/><path d="M97 0h1V133.7h-1z" fill="#130015"/><path d="M98 0h1V133.7h-1z" fill="#1c0020"/><path d="M99 0h1V133.7h-1z" fill="#25002b"/><path d="M100 0h1V133.7h-1z" fill="#380040"/><path d="M101 0h1V133.7h-1z" fill="#540060"/><path d="M102 0h1V133.7h-1z" fill="#700080"/><path d="M103 0h1V133.7h-1z" fill="#7e008f"/><path d="M104 0h1V133.7h-1z" fill="#820093"/><path d="M105 0h1V133.7h-1z" fill="#860097"/><path d="M106 0h1V133.7h-1z" fill="#4d00a0"/><path d="M107 0h1V133.7h-1z" fill="#0000bd"/><path d="M108 0h1V133.7h-1z" fill="#00d"/><path d="M109 0h1V133.7h-1z" fill="#0070dd"/><path d="M110 0h1V133.7h-1z" fill="#008ddd"/><path d="M111 0h1V133.7h-1z" fill="#009adb"/><path d="M112 0h1V133.7h-1z" fill="#009cd3"/><path d="M113 0h1V133.7h-1z" fill="#009fcb"/><path d="M114 0h1V133.7h-1z" fill="#00a2c3"/><path d="M115 0h1V133.7h-1z" fill="#00a3bf"/><path d="M116 0h1V133.7h-1z" fill="#00a2c3"/><path d="M117 0h1V133.7h-1z" fill="#00a3bf"/><path d="M118 0h1V133.7h-1z" fill="#00a8af"/><path d="M119 0h1V133.7h-1z" fill="#00aaab"/><path d="M120 0h1V133.7h-1z" fill="#00a7b3"/><path d="M121 0h2V133.7h-2z" fill="#00a8af"/><path d="M123 0h1V133.7h-1z" fill="#00aaab"/><path d="M124 0h2V133.7h-2z" fill="#00a8af"/><path d="M126 0h1V133.7h-1z" fill="#00aaab"/><path d="M127 0h5V133.7h-5z" fill="#00aaa3"/><path d="M132 0h7V133.7h-7z" fill="#00aaa5"/><path d="M139 0h11V133.7h-11z" fill="#00aaa3"/><path d="M150 0h1V133.7h-1z" fill="#00aaa0"/><path d="M151 0h1V133.7h-1z" fill="#00aa9d"/><path d="M152 0h1V133.7h-1z" fill="#00aa9b"/><path d="M153 0h2V133.7h-2z" fill="#00aa9d"/><path d="M155 0h2V133.7h-2z" fill="#00aa9b"/><path d="M157 0h2V133.7h-2z" fill="#00aa98"/><path d="M159 0h1V133.7h-1z" fill="#00aa95"/><path d="M160 0h1V133.7h-1z" fill="#00aa93"/><path d="M161 0h2V133.7h-2z" fill="#00aa90"/><path d="M163 0h1V133.7h-1z" fill="#00aa8d"/><path d="M164 0h2V133.7h-2z" fill="#00aa8b"/><path d="M166 0h1V133.7h-1z" fill="#0a8"/><path d="M167 0h1V133.7h-1z" fill="#00a773"/><path d="M168 0h1V133.7h-1z" fill="#00a668"/><path d="M169 0h1V133.7h-1z" fill="#00a353"/><path d="M170 0h1V133.7h-1z" fill="#00a13d"/><path d="M171 0h1V133.7h-1z" fill="#009e28"/><path d="M172 0h1V133.7h-1z" fill="#009d1d"/><path d="M173 0h1V133.7h-1z" fill="#009a00"/><path d="M174 0h1V133.7h-1z" fill="#009c00"/><path d="M175 0h1V133.7h-1z" fill="#009a08"/><path d="M176 0h1V133.7h-1z" fill="#009a00"/><path d="M177 0h1V133.7h-1z" fill="#009c00"/><path d="M178 0h5V133.7h-5z" fill="#009f00"/><path d="M183 0h3V133.7h-3z" fill="#009c00"/><path d="M186 0h2V133.7h-2z" fill="#009f00"/><path d="M188 0h1V133.7h-1z" fill="#009a08"/><path d="M189 0h1V133.7h-1z" fill="#009a00"/><path d="M190 0h1V133.7h-1z" fill="#009b13"/><path d="M191 0h1V133.7h-1z" fill="#009e28"/><path d="M192 0h1V133.7h-1z" fill="#009f33"/><path d="M193 0h1V133.7h-1z" fill="#009e28"/><path d="M194 0h1V133.7h-1z" fill="#00a13d"/><path d="M195 0h1V133.7h-1z" fill="#00a668"/><path d="M196 0h1V133.7h-1z" fill="#00a97d"/><path d="M197 0h1V133.7h-1z" fill="#0a8"/><path d="M198 0h1V133.7h-1z" fill="#00aa8b"/><path d="M199 0h1V133.7h-1z" fill="#00aa8d"/><path d="M200 0h1V133.7h-1z" fill="#0a8"/><path d="M201 0h1V133.7h-1z" fill="#00aa8b"/><path d="M202 0h1V133.7h-1z" fill="#00aa90"/><path d="M203 0h1V133.7h-1z" fill="#00aa93"/><path d="M204 0h1V133.7h-1z" fill="#00aa95"/><path d="M205 0h1V133.7h-1z" fill="#00aa9b"/><path d="M206 0h1V133.7h-1z" fill="#00aaa3"/><path d="M207 0h1V133.7h-1z" fill="#00aaab"/><path d="M208 0h1V133.7h-1z" fill="#00a6b7"/><path d="M209 0h1V133.7h-1z" fill="#00a2c3"/><path d="M210 0h1V133.7h-1z" fill="#009ecf"/><path d="M211 0h1V133.7h-1z" fill="#0098dd"/><path d="M212 0h1V133.7h-1z" fill="#0092dd"/><path d="M213 0h1V133.7h-1z" fill="#008ddd"/><path d="M214 0h1V133.7h-1z" fill="#08d"/><path d="M215 0h1V133.7h-1z" fill="#0080dd"/><path d="M216 0h1V133.7h-1z" fill="#007add"/><path d="M217 0h1V133.7h-1z" fill="#0067dd"/><path d="M218 0h1V133.7h-1z" fill="#004bdd"/><path d="M219 0h1V133.7h-1z" fill="#002fdd"/><path d="M220 0h2V133.7h-2z" fill="#001cdd"/><path d="M222 0h1V133.7h-1z" fill="#0013dd"/><path d="M223 0h1V133.7h-1z" fill="#0009dd"/><path d="M224 0h3V133.7h-3z" fill="#00d"/><path d="M227 0h3V133.7h-3z" fill="#0000d9"/><path d="M230 0h3V133.7h-3z" fill="#0000d5"/><path d="M233 0h1V133.7h-1z" fill="#0000d1"/><path d="M234 0h1V133.7h-1z" fill="#0000cd"/><path d="M235 0h1V133.7h-1z" fill="#0000c9"/><path d="M236 0h1V133.7h-1z" fill="#0000c5"/><path d="M237 0h1V133.7h-1z" fill="#0000c1"/><path d="M238 0h1V133.7h-1z" fill="#0000bd"/><path d="M239 0h1V133.7h-1z" fill="#0000b1"/><path d="M240 0h1V133.7h-1z" fill="#0000ad"/><path d="M241 0h1V133.7h-1z" fill="#0d00a8"/><path d="M242 0h1V133.7h-1z" fill="#1800a7"/><path d="M243 0h1V133.7h-1z" fill="#2d00a4"/><path d="M244 0h1V133.7h-1z" fill="#4300a2"/><path d="M245 0h1V133.7h-1z" fill="#58009f"/><path d="M246 0h1V133.7h-1z" fill="#6d009c"/><path d="M247 0h2V133.7h-2z" fill="#00aa8d"/><path d="M249 0h2V133.7h-2z" fill="#00d"/><path d="M251 0h2V133.7h-2z" fill="#0080dd"/><path d="M253 0h1V133.7h-1z" fill="#00d"/><path d="M254 0h3V133.7h-3z" fill="#008add"/><path d="M257 0h2V133.7h-2z" fill="#00a773"/><path d="M259 0h2V133.7h-2z" fill="#00d"/><path d="M261 0h2V133.7h-2z" fill="#00aaa3"/><path d="M263 0h1V133.7h-1z" fill="#0300aa"/><path d="M264 0h1V133.7h-1z" fill="#870098"/><path d="M265 0h1V133.7h-1z" fill="#0000bd"/><path d="M266 0h1V133.7h-1z" fill="#870098"/><path d="M267 0h1V133.7h-1z" fill="#0000bd"/><path d="M268 0h2V133.7h-2z" fill="#700080"/><path d="M270 0h4V133.7h-4z" fill="#670075"/><path d="M274 0h2V133.7h-2z" fill="#5d006b"/><path d="M276 0h3V133.7h-3z" fill="#810092"/><path d="M279 0h1V133.7h-1z" fill="#540060"/><path d="M280 0h2V133.7h-2z" fill="#4b0055"/><path d="M282 0h3V133.7h-3z" fill="#41004b"/><path d="M285 0h4V133.7h-4z" fill="#380040"/><path d="M289 0h4V133.7h-4z" fill="#2f0035"/><path d="M293 0h6V133.7h-6z" fill="#25002b"/><path d="M299 0h5V133.7h-5z" fill="#1c0020"/><path d="M304 0h10V133.7h-10z" fill="#130015"/><path d="M314 0h1V133.7h-1z" fill="#09000b"/></g>
<g transform="translate(0,278.64)"><path d="M49 0h48V117.0h-48z" fill="#09000b"/><path d="M97 0h1V117.0h-1z" fill="#130015"/><path d="M98 0h1V117.0h-1z" fill="#1c0020"/><path d="M99 0h1V117.0h-1z" fill="#25002b"/><path d="M100 0h1V117.0h-1z" fill="#380040"/><path d="M101 0h1V117.0h-1z" fill="#540060"/><path d="M102 0h1V117.0h-1z" fill="#700080"/><path d="M103 0h1V117.0h-1z" fill="#7e008f"/><path d="M104 0h1V117.0h-1z" fill="#820093"/><path d="M105 0h1V117.0h-1z" fill="#860097"/><path d="M106 0h1V117.0h-1z" fill="#4d00a0"/><path d="M107 0h1V117.0h-1z" fill="#0000bd"/><path d="M108 0h1V117.0h-1z" fill="#00d"/><path d="M109 0h1V117.0h-1z" fill="#0070dd"/><path d="M110 0h1V117.0h-1z" fill="#008ddd"/><path d="M111 0h1V117.0h-1z" fill="#009adb"/><path d="M112 0h1V117.0h-1z" fill="#009cd3"/><path d="M113 0h1V117.0h-1z" fill="#009fcb"/><path d="M114 0h1V117.0h-1z" fill="#00a2c3"/><path d="M115 0h1V117.0h-1z" fill="#00a3bf"/><path d="M116 0h1V117.0h-1z" fill="#00a2c3"/><path d="M117 0h1V117.0h-1z" fill="#00a3bf"/><path d="M118 0h1V117.0h-1z" fill="#00a8af"/><path d="M119 0h1V117.0h-1z" fill="#00aaab"/><path d="M120 0h1V117.0h-1z" fill="#00a7b3"/><path d="M121 0h2V117.0h-2z" fill="#00a8af"/><path d="M123 0h1V117.0h-1z" fill="#00aaab"/><path d="M124 0h2V117.0h-2z" fill="#00a8af"/><path d="M126 0h1V117.0h-1z" fill="#00aaab"/><path d="M127 0h5V117.0h-5z" fill="#00aaa3"/><path d="M132 0h7V117.0h-7z" fill="#00aaa5"/><path d="M139 0h11V117.0h-11z" fill="#00aaa3"/><path d="M150 0h1V117.0h-1z" fill="#00aaa0"/><path d="M151 0h1V117.0h-1z" fill="#00aa9d"/><path d="M152 0h1V117.0h-1z" fill="#00aa9b"/><path d="M153 0h2V117.0h-2z" fill="#00aa9d"/><path d="M155 0h2V117.0h-2z" fill="#00aa9b"/><path d="M157 0h2V117.0h-2z" fill="#00aa98"/><path d="M159 0h1V117.0h-1z" fill="#00aa95"/><path d="M160 0h1V117.0h-1z" fill="#00aa93"/><path d="M161 0h2V117.0h-2z" fill="#00aa90"/><path d="M163 0h1V117.0h-1z" fill="#00aa8d"/><path d="M164 0h2V117.0h-2z" fill="#00aa8b"/><path d="M166 0h1V117.0h-1z" fill="#0a8"/><path d="M167 0h1V117.0h-1z" fill="#00a773"/><path d="M168 0h1V117.0h-1z" fill="#00a668"/><path d="M169 0h1V117.0h-1z" fill="#00a353"/><path d="M170 0h1V117.0h-1z" fill="#00a13d"/><path d="M171 0h1V117.0h-1z" fill="#009e28"/><path d="M172 0h1V117.0h-1z" fill="#009d1d"/><path d="M173 0h1V117.0h-1z" fill="#009a00"/><path d="M174 0h1V117.0h-1z" fill="#009c00"/><path d="M175 0h1V117.0h-1z" fill="#009a08"/><path d="M176 0h1V117.0h-1z" fill="#009a00"/><path d="M177 0h1V117.0h-1z" fill="#009c00"/><path d="M178 0h5V117.0h-5z" fill="#009f00"/><path d="M183 0h3V117.0h-3z" fill="#009c00"/><path d="M186 0h2V117.0h-2z" fill="#009f00"/><path d="M188 0h1V117.0h-1z" fill="#009a08"/><path d="M189 0h1V117.0h-1z" fill="#009a00"/><path d="M190 0h1V117.0h-1z" fill="#009b13"/><path d="M191 0h1V117.0h-1z" fill="#009e28"/><path d="M192 0h1V117.0h-1z" fill="#009f33"/><path d="M193 0h1V117.0h-1z" fill="#009e28"/><path d="M194 0h1V117.0h-1z" fill="#00a13d"/><path d="M195 0h1V117.0h-1z" fill="#00a668"/><path d="M196 0h1V117.0h-1z" fill="#00a97d"/><path d="M197 0h1V117.0h-1z" fill="#0a8"/><path d="M198 0h1V117.0h-1z" fill="#00aa8b"/><path d="M199 0h1V117.0h-1z" fill="#00aa8d"/><path d="M200 0h1V117.0h-1z" fill="#0a8"/><path d="M201 0h1V117.0h-1z" fill="#00aa8b"/><path d="M202 0h1V117.0h-1z" fill="#00aa90"/><path d="M203 0h1V117.0h-1z" fill="#00aa93"/><path d="M204 0h1V117.0h-1z" fill="#00aa95"/><path d="M205 0h1V117.0h-1z" fill="#00aa9b"/><path d="M206 0h1V117.0h-1z" fill="#00aaa3"/><path d="M207 0h1V117.0h-1z" fill="#00aaab"/><path d="M208 0h1V117.0h-1z" fill="#00a6b7"/><path d="M209 0h1V117.0h-1z" fill="#00a2c3"/><path d="M210 0h1V117.0h-1z" fill="#009ecf"/><path d="M211 0h1V117.0h-1z" fill="#0098dd"/><path d="M212 0h1V117.0h-1z" fill="#0092dd"/><path d="M213 0h1V117.0h-1z" fill="#008ddd"/><path d="M214 0h1V117.0h-1z" fill="#08d"/><path d="M215 0h1V117.0h-1z" fill="#0080dd"/><path d="M216 0h1V117.0h-1z" fill="#007add"/><path d="M217 0h1V117.0h-1z" fill="#0067dd"/><path d="M218 0h1V117.0h-1z" fill="#004bdd"/><path d="M219 0h1V117.0h-1z" fill="#002fdd"/><path d="M220 0h2V117.0h-2z" fill="#001cdd"/><path d="M222 0h1V117.0h-1z" fill="#0013dd"/><path d="M223 0h1V117.0h-1z" fill="#0009dd"/><path d="M224 0h3V117.0h-3z" fill="#00d"/><path d="M227 0h3V117.0h-3z" fill="#0000d9"/><path d="M230 0h3V117.0h-3z" fill="#0000d5"/><path d="M233 0h1V117.0h-1z" fill="#0000d1"/><path d="M234 0h1V117.0h-1z" fill="#0000cd"/><path d="M235 0h1V117.0h-1z" fill="#0000c9"/><path d="M236 0h1V117.0h-1z" fill="#0000c5"/><path d="M237 0h1V117.0h-1z" fill="#0000c1"/><path d="M238 0h1V117.0h-1z" fill="#0000bd"/><path d="M239 0h1V117.0h-1z" fill="#0000b1"/><path d="M240 0h1V117.0h-1z" fill="#0000ad"/><path d="M241 0h1V117.0h-1z" fill="#0d00a8"/><path d="M242 0h1V117.0h-1z" fill="#1800a7"/><path d="M243 0h1V117.0h-1z" fill="#2d00a4"/><path d="M244 0h1V117.0h-1z" fill="#4300a2"/><path d="M245 0h1V117.0h-1z" fill="#58009f"/><path d="M246 0h1V117.0h-1z" fill="#6d009c"/><path d="M247 0h2V117.0h-2z" fill="#00aa8d"/><path d="M249 0h2V117.0h-2z" fill="#00d"/><path d="M251 0h2V117.0h-2z" fill="#0080dd"/><path d="M253 0h1V117.0h-1z" fill="#00d"/><path d="M254 0h3V117.0h-3z" fill="#008add"/><path d="M257 0h2V117.0h-2z" fill="#00a773"/><path d="M259 0h2V117.0h-2z" fill="#00d"/><path d="M261 0h2V117.0h-2z" fill="#00aaa3"/><path d="M263 0h1V117.0h-1z" fill="#0300aa"/><path d="M264 0h1V117.0h-1z" fill="#870098"/><path d="M265 0h1V117.0h-1z" fill="#0000bd"/><path d="M266 0h1V117.0h-1z" fill="#870098"/><path d="M267 0h1V117.0h-1z" fill="#0000bd"/><path d="M268 0h3V117.0h-3z" fill="#708"/><path d="M271 0h3V117.0h-3z" fill="#700080"/><path d="M274 0h2V117.0h-2z" fill="#670075"/><path d="M276 0h3V117.0h-3z" fill="#830094"/><path d="M279 0h1V117.0h-1z" fill="#5d006b"/><path d="M280 0h2V117.0h-2z" fill="#540060"/><path d="M282 0h2V117.0h-2z" fill="#4b0055"/><path d="M284 0h3V117.0h-3z" fill="#41004b"/><path d="M287 0h4V117.0h-4z" fill="#380040"/><path d="M291 0h4V117.0h-4z" fill="#2f0035"/><path d="M295 0h6V117.0h-6z" fill="#25002b"/><path d="M301 0h5V117.0h-5z" fill="#1c0020"/><path d="M306 0h9V117.0h-9z" fill="#130015"/></g>
<g transform="translate(0,295.35)"><path d="M49 0h48V100.3h-48z" fill="#09000b"/><path d="M97 0h1V100.3h-1z" fill="#130015"/><path d="M98 0h1V100.3h-1z" fill="#1c0020"/><path d="M99 0h1V100.3h-1z" fill="#25002b"/><path d="M100 0h1V100.3h-1z" fill="#380040"/><path d="M101 0h1V100.3h-1z" fill="#540060"/><path d="M102 0h1V100.3h-1z" fill="#700080"/><path d="M103 0h1V100.3h-1z" fill="#7e008f"/><path d="M104 0h1V100.3h-1z" fill="#820093"/><path d="M105 0h1V100.3h-1z" fill="#860097"/><path d="M106 0h1V100.3h-1z" fill="#4d00a0"/><path d="M107 0h1V100.3h-1z" fill="#0000bd"/><path d="M108 0h1V100.3h-1z" fill="#00d"/><path d="M109 0h1V100.3h-1z" fill="#0070dd"/><path d="M110 0h1V100.3h-1z" fill="#008ddd"/><path d="M111 0h1V100.3h-1z" fill="#0098dd"/><path d="M112 0h1V100.3h-1z" fill="#009adb"/><path d="M113 0h1V100.3h-1z" fill="#009bd7"/><path d="M114 0h4V100.3h-4z" fill="#009cd3"/><path d="M118 0h2V100.3h-2z" fill="#009fcb"/><path d="M120 0h3V100.3h-3z" fill="#009ecf"/><path d="M123 0h1V100.3h-1z" fill="#009fcb"/><path d="M124 0h3V100.3h-3z" fill="#009ecf"/><path d="M127 0h4V100.3h-4z" fill="#00a0c7"/><path d="M131 0h1V100.3h-1z" fill="#00a2c3"/><path d="M132 0h7V100.3h-7z" fill="#009fcb"/><path d="M139 0h12V100.3h-12z" fill="#00a0c7"/><path d="M151 0h2V100.3h-2z" fill="#00a2c3"/><path d="M153 0h1V100.3h-1z" fill="#00a0c7"/><path d="M154 0h3V100.3h-3z" fill="#00a2c3"/><path d="M157 0h2V100.3h-2z" fill="#00a3bf"/><path d="M159 0h1V100.3h-1z" fill="#00a6b7"/><path d="M160 0h2V100.3h-2z" fill="#00a7b3"/><path d="M162 0h2V100.3h-2z" fill="#00a8af"/><path d="M164 0h1V100.3h-1z" fill="#00aaab"/><path d="M165 0h1V100.3h-1z" fill="#00aaa8"/><path d="M166 0h1V100.3h-1z" fill="#00aaa5"/><path d="M167 0h1V100.3h-1z" fill="#00aaa3"/><path d="M168 0h1V100.3h-1z" fill="#00aa9d"/><path d="M169 0h1V100.3h-1z" fill="#00aa98"/><path d="M170 0h1V100.3h-1z" fill="#00aa93"/><path d="M171 0h1V100.3h-1z" fill="#00aa90"/><path d="M172 0h1V100.3h-1z" fill="#00aa8b"/><path d="M173 0h1V100.3h-1z" fill="#00a97d"/><path d="M174 0h1V100.3h-1z" fill="#00a668"/><path d="M175 0h1V100.3h-1z" fill="#00a353"/><path d="M176 0h1V100.3h-1z" fill="#00a248"/><path d="M177 0h4V100.3h-4z" fill="#009f33"/><path d="M181 0h2V100.3h-2z" fill="#009e28"/><path d="M183 0h3V100.3h-3z" fill="#00a13d"/><path d="M186 0h1V100.3h-1z" fill="#009e28"/><path d="M187 0h1V100.3h-1z" fill="#009f33"/><path d="M188 0h1V100.3h-1z" fill="#00a353"/><path d="M189 0h1V100.3h-1z" fill="#00a773"/><path d="M190 0h1V100.3h-1z" fill="#0a8"/><path d="M191 0h1V100.3h-1z" fill="#00aa8d"/><path d="M192 0h1V100.3h-1z" fill="#00aa93"/><path d="M193 0h1V100.3h-1z" fill="#00aa90"/><path d="M194 0h1V100.3h-1z" fill="#00aa93"/><path d="M195 0h1V100.3h-1z" fill="#00aaa0"/><path d="M196 0h1V100.3h-1z" fill="#00aaa3"/><path d="M197 0h1V100.3h-1z" fill="#00aaa5"/><path d="M198 0h1V100.3h-1z" fill="#00aaa8"/><path d="M199 0h1V100.3h-1z" fill="#00aaab"/><path d="M200 0h1V100.3h-1z" fill="#00aaa8"/><path d="M201 0h1V100.3h-1z" fill="#00aaab"/><path d="M202 0h1V100.3h-1z" fill="#00a8af"/><path d="M203 0h1V100.3h-1z" fill="#00a6b7"/><path d="M204 0h1V100.3h-1z" fill="#00a3bf"/><path d="M205 0h1V100.3h-1z" fill="#00a2c3"/><path d="M206 0h1V100.3h-1z" fill="#00a0c7"/><path d="M207 0h1V100.3h-1z" fill="#009fcb"/><path d="M208 0h1V100.3h-1z" fill="#009ecf"/><path d="M209 0h1V100.3h-1z" fill="#009cd3"/><path d="M210 0h1V100.3h-1z" fill="#009bd7"/><path d="M211 0h1V100.3h-1z" fill="#0098dd"/><path d="M212 0h1V100.3h-1z" fill="#0092dd"/><path d="M213 0h1V100.3h-1z" fill="#008ddd"/><path d="M214 0h1V100.3h-1z" fill="#08d"/><path d="M215 0h1V100.3h-1z" fill="#0080dd"/><path d="M216 0h1V100.3h-1z" fill="#007add"/><path d="M217 0h1V100.3h-1z" fill="#0067dd"/><path d="M218 0h1V100.3h-1z" fill="#004bdd"/><path d="M219 0h1V100.3h-1z" fill="#002fdd"/><path d="M220 0h2V100.3h-2z" fill="#001cdd"/><path d="M222 0h1V100.3h-1z" fill="#0013dd"/><path d="M223 0h1V100.3h-1z" fill="#0009dd"/><path d="M224 0h3V100.3h-3z" fill="#00d"/><path d="M227 0h3V100.3h-3z" fill="#0000d9"/><path d="M230 0h3V100.3h-3z" fill="#0000d5"/><path d="M233 0h1V100.3h-1z" fill="#0000d1"/><path d="M234 0h1V100.3h-1z" fill="#0000cd"/><path d="M235 0h1V100.3h-1z" fill="#0000c9"/><path d="M236 0h1V100.3h-1z" fill="#0000c5"/><path d="M237 0h1V100.3h-1z" fill="#0000c1"/><path d="M238 0h1V100.3h-1z" fill="#0000bd"/><path d="M239 0h1V100.3h-1z" fill="#0000b1"/><path d="M240 0h1V100.3h-1z" fill="#0000ad"/><path d="M241 0h1V100.3h-1z" fill="#0d00a8"/><path d="M242 0h1V100.3h-1z" fill="#1800a7"/><path d="M243 0h1V100.3h-1z" fill="#2d00a4"/><path d="M244 0h1V100.3h-1z" fill="#4300a2"/><path d="M245 0h1V100.3h-1z" fill="#58009f"/><path d="M246 0h1V100.3h-1z" fill="#6d009c"/><path d="M247 0h2V100.3h-2z" fill="#00aa8d"/><path d="M249 0h2V100.3h-2z" fill="#00d"/><path d="M251 0h2V100.3h-2z" fill="#0080dd"/><path d="M253 0h1V100.3h-1z" fill="#00d"/><path d="M254 0h3V100.3h-3z" fill="#008add"/><path d="M257 0h2V100.3h-2z" fill="#00a773"/><path d="M259 0h2V100.3h-2z" fill="#00d"/><path d="M261 0h2V100.3h-2z" fill="#00aaa3"/><path d="M263 0h1V100.3h-1z" fill="#0300aa"/><path d="M264 0h1V100.3h-1z" fill="#870098"/><path d="M265 0h1V100.3h-1z" fill="#0000bd"/><path d="M266 0h1V100.3h-1z" fill="#870098"/><path d="M267 0h1V100.3h-1z" fill="#0000bd"/><path d="M268 0h2V100.3h-2z" fill="#5d006b"/><path d="M270 0h5V100.3h-5z" fill="#540060"/><path d="M275 0h1V100.3h-1z" fill="#4b0055"/><path d="M276 0h3V100.3h-3z" fill="#7d008e"/><path d="M279 0h3V100.3h-3z" fill="#41004b"/><path d="M282 0h3V100.3h-3z" fill="#380040"/><path d="M285 0h5V100.3h-5z" fill="#2f0035"/><path d="M290 0h5V100.3h-5z" fill="#25002b"/><path d="M295 0h6V100.3h-6z" fill="#1c0020"/><path d="M301 0h9V100.3h-9z" fill="#130015"/><path d="M310 0h5V100.3h-5z" fill="#09000b"/></g>
<g transform="translate(0,312.05)"><path d="M49 0h48V83.5h-48z" fill="#09000b"/><path d="M97 0h1V83.5h-1z" fill="#130015"/><path d="M98 0h1V83.5h-1z" fill="#1c0020"/><path d="M99 0h1V83.5h-1z" fill="#25002b"/><path d="M100 0h1V83.5h-1z" fill="#380040"/><path d="M101 0h1V83.5h-1z" fill="#540060"/><path d="M102 0h1V83.5h-1z" fill="#700080"/><path d="M103 0h1V83.5h-1z" fill="#7e008f"/><path d="M104 0h1V83.5h-1z" fill="#820093"/><path d="M105 0h1V83.5h-1z" fill="#860097"/><path d="M106 0h1V83.5h-1z" fill="#4d00a0"/><path d="M107 0h1V83.5h-1z" fill="#0000bd"/><path d="M108 0h1V83.5h-1z" fill="#00d"/><path d="M109 0h1V83.5h-1z" fill="#0070dd"/><path d="M110 0h1V83.5h-1z" fill="#008ddd"/><path d="M111 0h1V83.5h-1z" fill="#009adb"/><path d="M112 0h1V83.5h-1z" fill="#009bd7"/><path d="M113 0h1V83.5h-1z" fill="#009cd3"/><path d="M114 0h1V83.5h-1z" fill="#009ecf"/><path d="M115 0h1V83.5h-1z" fill="#00a0c7"/><path d="M116 0h2V83.5h-2z" fill="#009fcb"/><path d="M118 0h2V83.5h-2z" fill="#00a3bf"/><path d="M120 0h3V83.5h-3z" fill="#00a2c3"/><path d="M123 0h1V83.5h-1z" fill="#00a3bf"/><path d="M124 0h3V83.5h-3z" fill="#00a2c3"/><path d="M127 0h2V83.5h-2z" fill="#00a7b3"/><path d="M129 0h3V83.5h-3z" fill="#00a8af"/><path d="M132 0h7V83.5h-7z" fill="#00a6b7"/><path d="M139 0h12V83.5h-12z" fill="#00a7b3"/><path d="M151 0h2V83.5h-2z" fill="#00aaab"/><path d="M153 0h2V83.5h-2z" fill="#00a8af"/><path d="M155 0h2V83.5h-2z" fill="#00aaab"/><path d="M157 0h2V83.5h-2z" fill="#00aaa8"/><path d="M159 0h1V83.5h-1z" fill="#00aaa5"/><path d="M160 0h2V83.5h-2z" fill="#00aaa3"/><path d="M162 0h2V83.5h-2z" fill="#00aaa0"/><path d="M164 0h1V83.5h-1z" fill="#00aa9d"/><path d="M165 0h1V83.5h-1z" fill="#00aa9b"/><path d="M166 0h1V83.5h-1z" fill="#00aa98"/><path d="M167 0h1V83.5h-1z" fill="#00aa95"/><path d="M168 0h1V83.5h-1z" fill="#00aa90"/><path d="M169 0h1V83.5h-1z" fill="#00aa8b"/><path d="M170 0h1V83.5h-1z" fill="#00a97d"/><path d="M171 0h1V83.5h-1z" fill="#00a773"/><path d="M172 0h1V83.5h-1z" fill="#00a55d"/><path d="M173 0h1V83.5h-1z" fill="#00a248"/><path d="M174 0h2V83.5h-2z" fill="#009f33"/><path d="M176 0h1V83.5h-1z" fill="#009e28"/><path d="M177 0h4V83.5h-4z" fill="#009b13"/><path d="M181 0h2V83.5h-2z" fill="#009a08"/><path d="M183 0h3V83.5h-3z" fill="#009d1d"/><path d="M186 0h1V83.5h-1z" fill="#009a08"/><path d="M187 0h1V83.5h-1z" fill="#009b13"/><path d="M188 0h1V83.5h-1z" fill="#009f33"/><path d="M189 0h1V83.5h-1z" fill="#00a13d"/><path d="M190 0h1V83.5h-1z" fill="#00a353"/><path d="M191 0h1V83.5h-1z" fill="#00a668"/><path d="M192 0h1V83.5h-1z" fill="#00a97d"/><path d="M193 0h1V83.5h-1z" fill="#00a773"/><path d="M194 0h1V83.5h-1z" fill="#00a97d"/><path d="M195 0h1V83.5h-1z" fill="#00aa93"/><path d="M196 0h1V83.5h-1z" fill="#00aa95"/><path d="M197 0h1V83.5h-1z" fill="#00aa98"/><path d="M198 0h1V83.5h-1z" fill="#00aa9b"/><path d="M199 0h1V83.5h-1z" fill="#00aa9d"/><path d="M200 0h1V83.5h-1z" fill="#00aa9b"/><path d="M201 0h1V83.5h-1z" fill="#00aa9d"/><path d="M202 0h1V83.5h-1z" fill="#00aaa0"/><path d="M203 0h1V83.5h-1z" fill="#00aaa5"/><path d="M204 0h1V83.5h-1z" fill="#00aaa8"/><path d="M205 0h1V83.5h-1z" fill="#00aaab"/><path d="M206 0h1V83.5h-1z" fill="#00a7b3"/><path d="M207 0h1V83.5h-1z" fill="#00a3bf"/><path d="M208 0h1V83.5h-1z" fill="#00a0c7"/><path d="M209 0h1V83.5h-1z" fill="#009fcb"/><path d="M210 0h1V83.5h-1z" fill="#009cd3"/><path d="M211 0h1V83.5h-1z" fill="#0098dd"/><path d="M212 0h1V83.5h-1z" fill="#0092dd"/><path d="M213 0h1V83.5h-1z" fill="#008ddd"/><path d="M214 0h1V83.5h-1z" fill="#08d"/><path d="M215 0h1V83.5h-1z" fill="#0080dd"/><path d="M216 0h1V83.5h-1z" fill="#007add"/><path d="M217 0h1V83.5h-1z" fill="#0067dd"/><path d="M218 0h1V83.5h-1z" fill="#004bdd"/><path d="M219 0h1V83.5h-1z" fill="#002fdd"/><path d="M220 0h2V83.5h-2z" fill="#001cdd"/><path d="M222 0h1V83.5h-1z" fill="#0013dd"/><path d="M223 0h1V83.5h-1z" fill="#0009dd"/><path d="M224 0h3V83.5h-3z" fill="#00d"/><path d="M227 0h3V83.5h-3z" fill="#0000d9"/><path d="M230 0h3V83.5h-3z" fill="#0000d5"/><path d="M233 0h1V83.5h-1z" fill="#0000d1"/><path d="M234 0h1V83.5h-1z" fill="#0000cd"/><path d="M235 0h1V83.5h-1z" fill="#0000c9"/><path d="M236 0h1V83.5h-1z" fill="#0000c5"/><path d="M237 0h1V83.5h-1z" fill="#0000c1"/><path d="M238 0h1V83.5h-1z" fill="#0000bd"/><path d="M239 0h1V83.5h-1z" fill="#0000b1"/><path d="M240 0h1V83.5h-1z" fill="#0000ad"/><path d="M241 0h1V83.5h-1z" fill="#0d00a8"/><path d="M242 0h1V83.5h-1z" fill="#1800a7"/><path d="M243 0h1V83.5h-1z" fill="#2d00a4"/><path d="M244 0h1V83.5h-1z" fill="#4300a2"/><path d="M245 0h1V83.5h-1z" fill="#58009f"/><path d="M246 0h1V83.5h-1z" fill="#6d009c"/><path d="M247 0h2V83.5h-2z" fill="#00aa8d"/><path d="M249 0h2V83.5h-2z" fill="#00d"/><path d="M251 0h2V83.5h-2z" fill="#0080dd"/><path d="M253 0h1V83.5h-1z" fill="#00d"/><path d="M254 0h3V83.5h-3z" fill="#008add"/><path d="M257 0h2V83.5h-2z" fill="#00a773"/><path d="M259 0h2V83.5h-2z" fill="#00d"/><path d="M261 0h2V83.5h-2z" fill="#00aaa3"/><path d="M263 0h1V83.5h-1z" fill="#0300aa"/><path d="M264 0h1V83.5h-1z" fill="#870098"/><path d="M265 0h1V83.5h-1z" fill="#0000bd"/><path d="M266 0h1V83.5h-1z" fill="#870098"/><path d="M267 0h1V83.5h-1z" fill="#0000bd"/><path d="M268 0h2V83.5h-2z" fill="#700080"/><path d="M270 0h4V83.5h-4z" fill="#670075"/><path d="M274 0h2V83.5h-2z" fill="#5d006b"/><path d="M276 0h3V83.5h-3z" fill="#810092"/><path d="M279 0h1V83.5h-1z" fill="#540060"/><path d="M280 0h2V83.5h-2z" fill="#4b0055"/><path d="M282 0h3V83.5h-3z" fill="#41004b"/><path d="M285 0h4V83.5h-4z" fill="#380040"/><path d="M289 0h4V83.5h-4z" fill="#2f0035"/><path d="M293 0h6V83.5h-6z" fill="#25002b"/><path d="M299 0h5V83.5h-5z" fill="#1c0020"/><path d="M304 0h10V83.5h-10z" fill="#130015"/><path d="M314 0h1V83.5h-1z" fill="#09000b"/></g>
<g transform="translate(0,328.76)"><path d="M49 0h48V66.8h-48z" fill="#09000b"/><path d="M97 0h1V66.8h-1z" fill="#130015"/><path d="M98 0h1V66.8h-1z" fill="#1c0020"/><path d="M99 0h1V66.8h-1z" fill="#25002b"/><path d="M100 0h1V66.8h-1z" fill="#380040"/><path d="M101 0h1V66.8h-1z" fill="#540060"/><path d="M102 0h1V66.8h-1z" fill="#700080"/><path d="M103 0h1V66.8h-1z" fill="#7e008f"/><path d="M104 0h1V66.8h-1z" fill="#820093"/><path d="M105 0h1V66.8h-1z" fill="#860097"/><path d="M106 0h1V66.8h-1z" fill="#4d00a0"/><path d="M107 0h1V66.8h-1z" fill="#0000bd"/><path d="M108 0h1V66.8h-1z" fill="#00d"/><path d="M109 0h1V66.8h-1z" fill="#0070dd"/><path d="M110 0h1V66.8h-1z" fill="#008ddd"/><path d="M111 0h1V66.8h-1z" fill="#009adb"/><path d="M112 0h1V66.8h-1z" fill="#009cd3"/><path d="M113 0h1V66.8h-1z" fill="#009ecf"/><path d="M114 0h1V66.8h-1z" fill="#00a0c7"/><path d="M115 0h1V66.8h-1z" fill="#00a3bf"/><path d="M116 0h1V66.8h-1z" fill="#00a2c3"/><path d="M117 0h1V66.8h-1z" fill="#00a3bf"/><path d="M118 0h2V66.8h-2z" fill="#00a8af"/><path d="M120 0h3V66.8h-3z" fill="#00a7b3"/><path d="M123 0h1V66.8h-1z" fill="#00a8af"/><path d="M124 0h1V66.8h-1z" fill="#00a7b3"/><path d="M125 0h2V66.8h-2z" fill="#00a8af"/><path d="M127 0h5V66.8h-5z" fill="#00aaa5"/><path d="M132 0h7V66.8h-7z" fill="#00aaa8"/><path d="M139 0h11V66.8h-11z" fill="#00aaa5"/><path d="M150 0h1V66.8h-1z" fill="#00aaa3"/><path d="M151 0h4V66.8h-4z" fill="#00aaa0"/><path d="M155 0h2V66.8h-2z" fill="#00aa9d"/><path d="M157 0h2V66.8h-2z" fill="#00aa9b"/><path d="M159 0h1V66.8h-1z" fill="#00aa98"/><path d="M160 0h2V66.8h-2z" fill="#00aa95"/><path d="M162 0h2V66.8h-2z" fill="#00aa93"/><path d="M164 0h1V66.8h-1z" fill="#00aa90"/><path d="M165 0h1V66.8h-1z" fill="#00aa8d"/><path d="M166 0h1V66.8h-1z" fill="#00aa8b"/><path d="M167 0h1V66.8h-1z" fill="#0a8"/><path d="M168 0h1V66.8h-1z" fill="#00a773"/><path d="M169 0h1V66.8h-1z" fill="#00a55d"/><path d="M170 0h1V66.8h-1z" fill="#00a248"/><path d="M171 0h1V66.8h-1z" fill="#00a13d"/><path d="M172 0h1V66.8h-1z" fill="#009e28"/><path d="M173 0h1V66.8h-1z" fill="#009b13"/><path d="M174 0h1V66.8h-1z" fill="#009a00"/><path d="M175 0h1V66.8h-1z" fill="#009b13"/><path d="M176 0h1V66.8h-1z" fill="#009a08"/><path d="M177 0h4V66.8h-4z" fill="#009c00"/><path d="M181 0h2V66.8h-2z" fill="#009f00"/><path d="M183 0h3V66.8h-3z" fill="#009a00"/><path d="M186 0h1V66.8h-1z" fill="#009f00"/><path d="M187 0h1V66.8h-1z" fill="#009c00"/><path d="M188 0h1V66.8h-1z" fill="#009b13"/><path d="M189 0h1V66.8h-1z" fill="#009a08"/><path d="M190 0h1V66.8h-1z" fill="#009d1d"/><path d="M191 0h1V66.8h-1z" fill="#009f33"/><path d="M192 0h1V66.8h-1z" fill="#00a248"/><path d="M193 0h1V66.8h-1z" fill="#00a13d"/><path d="M194 0h1V66.8h-1z" fill="#00a248"/><path d="M195 0h1V66.8h-1z" fill="#00a97d"/><path d="M196 0h1V66.8h-1z" fill="#0a8"/><path d="M197 0h1V66.8h-1z" fill="#00aa8b"/><path d="M198 0h1V66.8h-1z" fill="#00aa8d"/><path d="M199 0h1V66.8h-1z" fill="#00aa90"/><path d="M200 0h1V66.8h-1z" fill="#00aa8d"/><path d="M201 0h1V66.8h-1z" fill="#00aa90"/><path d="M202 0h1V66.8h-1z" fill="#00aa93"/><path d="M203 0h1V66.8h-1z" fill="#00aa98"/><path d="M204 0h1V66.8h-1z" fill="#00aa9b"/><path d="M205 0h1V66.8h-1z" fill="#00aa9d"/><path d="M206 0h1V66.8h-1z" fill="#00aaa5"/><path d="M207 0h1V66.8h-1z" fill="#00a8af"/><path d="M208 0h1V66.8h-1z" fill="#00a6b7"/><path d="M209 0h1V66.8h-1z" fill="#00a2c3"/><path d="M210 0h1V66.8h-1z" fill="#009ecf"/><path d="M211 0h1V66.8h-1z" fill="#0098dd"/><path d="M212 0h1V66.8h-1z" fill="#0092dd"/><path d="M213 0h1V66.8h-1z" fill="#008ddd"/><path d="M214 0h1V66.8h-1z" fill="#08d"/><path d="M215 0h1V66.8h-1z" fill="#0080dd"/><path d="M216 0h1V66.8h-1z" fill="#007add"/><path d="M217 0h1V66.8h-1z" fill="#0067dd"/><path d="M218 0h1V66.8h-1z" fill="#004bdd"/><path d="M219 0h1V66.8h-1z" fill="#002fdd"/><path d="M220 0h2V66.8h-2z" fill="#001cdd"/><path d="M222 0h1V66.8h-1z" fill="#0013dd"/><path d="M223 0h1V66.8h-1z" fill="#0009dd"/><path d="M224 0h3V66.8h-3z" fill="#00d"/><path d="M227 0h3V66.8h-3z" fill="#0000d9"/><path d="M230 0h3V66.8h-3z" fill="#0000d5"/><path d="M233 0h1V66.8h-1z" fill="#0000d1"/><path d="M234 0h1V66.8h-1z" fill="#0000cd"/><path d="M235 0h1V66.8h-1z" fill="#0000c9"/><path d="M236 0h1V66.8h-1z" fill="#0000c5"/><path d="M237 0h1V66.8h-1z" fill="#0000c1"/><path d="M238 0h1V66.8h-1z" fill="#0000bd"/><path d="M239 0h1V66.8h-1z" fill="#0000b1"/><path d="M240 0h1V66.8h-1z" fill="#0000ad"/><path d="M241 0h1V66.8h-1z" fill="#0d00a8"/><path d="M242 0h1V66.8h-1z" fill="#1800a7"/><path d="M243 0h1V66.8h-1z" fill="#2d00a4"/><path d="M244 0h1V66.8h-1z" fill="#4300a2"/><path d="M245 0h1V66.8h-1z" fill="#58009f"/><path d="M246 0h1V66.8h-1z" fill="#6d009c"/><path d="M247 0h2V66.8h-2z" fill="#00aa8d"/><path d="M249 0h2V66.8h-2z" fill="#00d"/><path d="M251 0h2V66.8h-2z" fill="#0080dd"/><path d="M253 0h1V66.8h-1z" fill="#00d"/><path d="M254 0h3V66.8h-3z" fill="#008add"/><path d="M257 0h2V66.8h-2z" fill="#00a773"/><path d="M259 0h2V66.8h-2z" fill="#00d"/><path d="M261 0h2V66.8h-2z" fill="#00aaa3"/><path d="M263 0h1V66.8h-1z" fill="#0300aa"/><path d="M264 0h1V66.8h-1z" fill="#870098"/><path d="M265 0h1V66.8h-1z" fill="#0000bd"/><path d="M266 0h1V66.8h-1z" fill="#870098"/><path d="M267 0h1V66.8h-1z" fill="#0000bd"/><path d="M268 0h2V66.8h-2z" fill="#700080"/><path d="M270 0h4V66.8h-4z" fill="#670075"/><path d="M274 0h2V66.8h-2z" fill="#5d006b"/><path d="M276 0h3V66.8h-3z" fill="#810092"/><path d="M279 0h1V66.8h-1z" fill="#540060"/><path d="M280 0h2V66.8h-2z" fill="#4b0055"/><path d="M282 0h3V66.8h-3z" fill="#41004b"/><path d="M285 0h4V66.8h-4z" fill="#380040"/><path d="M289 0h4V66.8h-4z" fill="#2f0035"/><path d="M293 0h6V66.8h-6z" fill="#25002b"/><path d="M299 0h5V66.8h-5z" fill="#1c0020"/><path d="M304 0h10V66.8h-10z" fill="#130015"/><path d="M314 0h1V66.8h-1z" fill="#09000b"/></g>
<g transform="translate(0,345.47)"><path d="M49 0h57V50.1h-57z" fill="#09000b"/><path d="M106 0h5V50.1h-5z" fill="#130015"/><path d="M111 0h5V50.1h-5z" fill="#1c0020"/><path d="M116 0h90V50.1h-90z" fill="#25002b"/><path d="M206 0h51V50.1h-51z" fill="#1c0020"/><path d="M257 0h58V50.1h-58z" fill="#130015"/></g>
<g transform="translate(0,362.18)"><path d="M49 0h46V33.4h-46z" fill="#09000b"/><path d="M95 0h1V33.4h-1z" fill="#130015"/><path d="M96 0h1V33.4h-1z" fill="#25002b"/><path d="M97 0h1V33.4h-1z" fill="#4b0055"/><path d="M98 0h1V33.4h-1z" fill="#7a008b"/><path d="M99 0h1V33.4h-1z" fill="#7f0090"/><path d="M100 0h1V33.4h-1z" fill="#850096"/><path d="M101 0h1V33.4h-1z" fill="#2300a6"/><path d="M102 0h1V33.4h-1z" fill="#0009dd"/><path d="M103 0h1V33.4h-1z" fill="#0070dd"/><path d="M104 0h1V33.4h-1z" fill="#00aa95"/><path d="M105 0h1V33.4h-1z" fill="#00b700"/><path d="M106 0h1V33.4h-1z" fill="#00ca00"/><path d="M107 0h1V33.4h-1z" fill="#00df00"/><path d="M108 0h1V33.4h-1z" fill="#00ef00"/><path d="M109 0h1V33.4h-1z" fill="#00fc00"/><path d="M110 0h1V33.4h-1z" fill="#49ff00"/><path d="M111 0h1V33.4h-1z" fill="#c0fd00"/><path d="M112 0h1V33.4h-1z" fill="#d0f800"/><path d="M113 0h1V33.4h-1z" fill="#e0f300"/><path d="M114 0h1V33.4h-1z" fill="#ecef00"/><path d="M115 0h1V33.4h-1z" fill="#f0ea00"/><path d="M116 0h1V33.4h-1z" fill="#efed00"/><path d="M117 0h1V33.4h-1z" fill="#f3e500"/><path d="M118 0h1V33.4h-1z" fill="#f9d700"/><path d="M119 0h1V33.4h-1z" fill="#fcd200"/><path d="M120 0h3V33.4h-3z" fill="#fbd500"/><path d="M123 0h1V33.4h-1z" fill="#fcd200"/><path d="M124 0h1V33.4h-1z" fill="#f9d700"/><path d="M125 0h1V33.4h-1z" fill="#f7dd00"/><path d="M126 0h2V33.4h-2z" fill="#f4e200"/><path d="M128 0h1V33.4h-1z" fill="#f3e500"/><path d="M129 0h2V33.4h-2z" fill="#f1e700"/><path d="M131 0h1V33.4h-1z" fill="#f0ea00"/><path d="M132 0h1V33.4h-1z" fill="#ecef00"/><path d="M133 0h1V33.4h-1z" fill="#e8f000"/><path d="M134 0h2V33.4h-2z" fill="#e4f100"/><path d="M136 0h1V33.4h-1z" fill="#e0f300"/><path d="M137 0h1V33.4h-1z" fill="#dcf400"/><path d="M138 0h2V33.4h-2z" fill="#d8f500"/><path d="M140 0h2V33.4h-2z" fill="#d4f700"/><path d="M142 0h3V33.4h-3z" fill="#d0f800"/><path d="M145 0h1V33.4h-1z" fill="#c8fb00"/><path d="M146 0h3V33.4h-3z" fill="#c4fc00"/><path d="M149 0h4V33.4h-4z" fill="#c0fd00"/><path d="M153 0h2V33.4h-2z" fill="#bcff00"/><path d="M155 0h5V33.4h-5z" fill="#b0ff00"/><path d="M160 0h1V33.4h-1z" fill="#a1ff00"/><path d="M161 0h1V33.4h-1z" fill="#93ff00"/><path d="M162 0h1V33.4h-1z" fill="#75ff00"/><path d="M163 0h2V33.4h-2z" fill="#67ff00"/><path d="M165 0h4V33.4h-4z" fill="#58ff00"/><path d="M169 0h3V33.4h-3z" fill="#67ff00"/><path d="M172 0h1V33.4h-1z" fill="#58ff00"/><path d="M173 0h2V33.4h-2z" fill="#67ff00"/><path d="M175 0h6V33.4h-6z" fill="#58ff00"/><path d="M181 0h1V33.4h-1z" fill="#49ff00"/><path d="M182 0h1V33.4h-1z" fill="#3bff00"/><path d="M183 0h1V33.4h-1z" fill="#0fff00"/><path d="M184 0h1V33.4h-1z" fill="#0f0"/><path d="M185 0h1V33.4h-1z" fill="#00fc00"/><path d="M186 0h2V33.4h-2z" fill="#0fff00"/><path d="M188 0h2V33.4h-2z" fill="#0f0"/><path d="M190 0h3V33.4h-3z" fill="#00fc00"/><path d="M193 0h2V33.4h-2z" fill="#0fff00"/><path d="M195 0h5V33.4h-5z" fill="#00fa00"/><path d="M200 0h2V33.4h-2z" fill="#0f0"/><path d="M202 0h5V33.4h-5z" fill="#00fc00"/><path d="M207 0h1V33.4h-1z" fill="#00f700"/><path d="M208 0h1V33.4h-1z" fill="#00ec00"/><path d="M209 0h1V33.4h-1z" fill="#00e700"/><path d="M210 0h1V33.4h-1z" fill="#00dc00"/><path d="M211 0h1V33.4h-1z" fill="#00ca00"/><path d="M212 0h1V33.4h-1z" fill="#00bf00"/><path d="M213 0h1V33.4h-1z" fill="#00b400"/><path d="M214 0h1V33.4h-1z" fill="#00ac00"/><path d="M215 0h1V33.4h-1z" fill="#00a700"/><path d="M216 0h1V33.4h-1z" fill="#009c00"/><path d="M217 0h1V33.4h-1z" fill="#009b13"/><path d="M218 0h1V33.4h-1z" fill="#009f33"/><path d="M219 0h1V33.4h-1z" fill="#00a353"/><path d="M220 0h1V33.4h-1z" fill="#00a773"/><path d="M221 0h1V33.4h-1z" fill="#00aa8b"/><path d="M222 0h1V33.4h-1z" fill="#00aa93"/><path d="M223 0h1V33.4h-1z" fill="#00aa98"/><path d="M224 0h1V33.4h-1z" fill="#00aaa0"/><path d="M225 0h1V33.4h-1z" fill="#00aaa5"/><path d="M226 0h1V33.4h-1z" fill="#00a8af"/><path d="M227 0h1V33.4h-1z" fill="#00a6b7"/><path d="M228 0h1V33.4h-1z" fill="#00a2c3"/><path d="M229 0h1V33.4h-1z" fill="#009fcb"/><path d="M230 0h1V33.4h-1z" fill="#009cd3"/><path d="M231 0h1V33.4h-1z" fill="#009adb"/><path d="M232 0h1V33.4h-1z" fill="#0098dd"/><path d="M233 0h2V33.4h-2z" fill="#0095dd"/><path d="M235 0h2V33.4h-2z" fill="#0092dd"/><path d="M237 0h2V33.4h-2z" fill="#0090dd"/><path d="M239 0h1V33.4h-1z" fill="#008ddd"/><path d="M240 0h2V33.4h-2z" fill="#008add"/><path d="M242 0h2V33.4h-2z" fill="#08d"/><path d="M244 0h2V33.4h-2z" fill="#0085dd"/><path d="M246 0h1V33.4h-1z" fill="#0082dd"/><path d="M247 0h2V33.4h-2z" fill="#0098dd"/><path d="M249 0h2V33.4h-2z" fill="#00d"/><path d="M251 0h2V33.4h-2z" fill="#0098dd"/><path d="M253 0h3V33.4h-3z" fill="#00d"/><path d="M256 0h2V33.4h-2z" fill="#0098dd"/><path d="M258 0h2V33.4h-2z" fill="#00d"/><path d="M260 0h2V33.4h-2z" fill="#0098dd"/><path d="M262 0h2V33.4h-2z" fill="#00d"/><path d="M264 0h1V33.4h-1z" fill="#0098dd"/><path d="M265 0h2V33.4h-2z" fill="#00d"/><path d="M267 0h1V33.4h-1z" fill="#0000c5"/><path d="M268 0h6V33.4h-6z" fill="#870098"/><path d="M274 0h11V33.4h-11z" fill="#860097"/><path d="M285 0h3V33.4h-3z" fill="#850096"/><path d="M288 0h3V33.4h-3z" fill="#830094"/><path d="M291 0h3V33.4h-3z" fill="#820093"/><path d="M294 0h3V33.4h-3z" fill="#810092"/><path d="M297 0h1V33.4h-1z" fill="#7f0090"/><path d="M298 0h1V33.4h-1z" fill="#7e008f"/><path d="M299 0h1V33.4h-1z" fill="#7d008e"/><path d="M300 0h1V33.4h-1z" fill="#7b008c"/><path d="M301 0h1V33.4h-1z" fill="#7a008b"/><path d="M302 0h1V33.4h-1z" fill="#79008a"/><path d="M303 0h1V33.4h-1z" fill="#700080"/><path d="M304 0h1V33.4h-1z" fill="#5d006b"/><path d="M305 0h1V33.4h-1z" fill="#4b0055"/><path d="M306 0h1V33.4h-1z" fill="#41004b"/><path d="M307 0h1V33.4h-1z" fill="#2f0035"/><path d="M308 0h1V33.4h-1z" fill="#25002b"/><path d="M309 0h4V33.4h-4z" fill="#1c0020"/><path d="M313 0h2V33.4h-2z" fill="#130015"/></g>
<g transform="translate(0,378.89)"><path d="M49 0h46V16.7h-46z" fill="#09000b"/><path d="M95 0h1V16.7h-1z" fill="#130015"/><path d="M96 0h1V16.7h-1z" fill="#25002b"/><path d="M97 0h1V16.7h-1z" fill="#4b0055"/><path d="M98 0h1V16.7h-1z" fill="#7a008b"/><path d="M99 0h1V16.7h-1z" fill="#7f0090"/><path d="M100 0h1V16.7h-1z" fill="#850096"/><path d="M101 0h1V16.7h-1z" fill="#2300a6"/><path d="M102 0h1V16.7h-1z" fill="#0009dd"/><path d="M103 0h1V16.7h-1z" fill="#0070dd"/><path d="M104 0h1V16.7h-1z" fill="#00aa95"/><path d="M105 0h1V16.7h-1z" fill="#00b700"/><path d="M106 0h1V16.7h-1z" fill="#00ca00"/><path d="M107 0h1V16.7h-1z" fill="#00df00"/><path d="M108 0h1V16.7h-1z" fill="#00ef00"/><path d="M109 0h1V16.7h-1z" fill="#00fc00"/><path d="M110 0h1V16.7h-1z" fill="#49ff00"/><path d="M111 0h1V16.7h-1z" fill="#c0fd00"/><path d="M112 0h1V16.7h-1z" fill="#d0f800"/><path d="M113 0h1V16.7h-1z" fill="#e0f300"/><path d="M114 0h1V16.7h-1z" fill="#ecef00"/><path d="M115 0h1V16.7h-1z" fill="#f0ea00"/><path d="M116 0h1V16.7h-1z" fill="#efed00"/><path d="M117 0h1V16.7h-1z" fill="#f3e500"/><path d="M118 0h1V16.7h-1z" fill="#f9d700"/><path d="M119 0h1V16.7h-1z" fill="#fcd200"/><path d="M120 0h3V16.7h-3z" fill="#fbd500"/><path d="M123 0h1V16.7h-1z" fill="#fcd200"/><path d="M124 0h1V16.7h-1z" fill="#f9d700"/><path d="M125 0h1V16.7h-1z" fill="#f7dd00"/><path d="M126 0h2V16.7h-2z" fill="#f4e200"/><path d="M128 0h1V16.7h-1z" fill="#f3e500"/><path d="M129 0h2V16.7h-2z" fill="#f1e700"/><path d="M131 0h1V16.7h-1z" fill="#f0ea00"/><path d="M132 0h1V16.7h-1z" fill="#ecef00"/><path d="M133 0h1V16.7h-1z" fill="#e8f000"/><path d="M134 0h2V16.7h-2z" fill="#e4f100"/><path d="M136 0h1V16.7h-1z" fill="#e0f300"/><path d="M137 0h1V16.7h-1z" fill="#dcf400"/><path d="M138 0h2V16.7h-2z" fill="#d8f500"/><path d="M140 0h2V16.7h-2z" fill="#d4f700"/><path d="M142 0h3V16.7h-3z" fill="#d0f800"/><path d="M145 0h1V16.7h-1z" fill="#c8fb00"/><path d="M146 0h3V16.7h-3z" fill="#c4fc00"/><path d="M149 0h4V16.7h-4z" fill="#c0fd00"/><path d="M153 0h2V16.7h-2z" fill="#bcff00"/><path d="M155 0h5V16.7h-5z" fill="#b0ff00"/><path d="M160 0h1V16.7h-1z" fill="#a1ff00"/><path d="M161 0h1V16.7h-1z" fill="#93ff00"/><path d="M162 0h1V16.7h-1z" fill="#75ff00"/><path d="M163 0h2V16.7h-2z" fill="#67ff00"/><path d="M165 0h4V16.7h-4z" fill="#58ff00"/><path d="M169 0h3V16.7h-3z" fill="#67ff00"/><path d="M172 0h1V16.7h-1z" fill="#58ff00"/><path d="M173 0h2V16.7h-2z" fill="#67ff00"/><path d="M175 0h6V16.7h-6z" fill="#58ff00"/><path d="M181 0h1V16.7h-1z" fill="#49ff00"/><path d="M182 0h1V16.7h-1z" fill="#3bff00"/><path d="M183 0h1V16.7h-1z" fill="#0fff00"/><path d="M184 0h1V16.7h-1z" fill="#0f0"/><path d="M185 0h1V16.7h-1z" fill="#00fc00"/><path d="M186 0h2V16.7h-2z" fill="#0fff00"/><path d="M188 0h2V16.7h-2z" fill="#0f0"/><path d="M190 0h3V16.7h-3z" fill="#00fc00"/><path d="M193 0h2V16.7h-2z" fill="#0fff00"/><path d="M195 0h5V16.7h-5z" fill="#00fa00"/><path d="M200 0h2V16.7h-2z" fill="#0f0"/><path d="M202 0h5V16.7h-5z" fill="#00fc00"/><path d="M207 0h1V16.7h-1z" fill="#00f700"/><path d="M208 0h1V16.7h-1z" fill="#00ec00"/><path d="M209 0h1V16.7h-1z" fill="#00e700"/><path d="M210 0h1V16.7h-1z" fill="#00dc00"/><path d="M211 0h1V16.7h-1z" fill="#00ca00"/><path d="M212 0h1V16.7h-1z" fill="#00bf00"/><path d="M213 0h1V16.7h-1z" fill="#00b400"/><path d="M214 0h1V16.7h-1z" fill="#00ac00"/><path d="M215 0h1V16.7h-1z" fill="#00a700"/><path d="M216 0h1V16.7h-1z" fill="#009c00"/><path d="M217 0h1V16.7h-1z" fill="#009b13"/><path d="M218 0h1V16.7h-1z" fill="#009f33"/><path d="M219 0h1V16.7h-1z" fill="#00a353"/><path d="M220 0h1V16.7h-1z" fill="#00a773"/><path d="M221 0h1V16.7h-1z" fill="#00aa8b"/><path d="M222 0h1V16.7h-1z" fill="#00aa93"/><path d="M223 0h1V16.7h-1z" fill="#00aa98"/><path d="M224 0h1V16.7h-1z" fill="#00aaa0"/><path d="M225 0h1V16.7h-1z" fill="#00aaa5"/><path d="M226 0h1V16.7h-1z" fill="#00a8af"/><path d="M227 0h1V16.7h-1z" fill="#00a6b7"/><path d="M228 0h1V16.7h-1z" fill="#00a2c3"/><path d="M229 0h1V16.7h-1z" fill="#009fcb"/><path d="M230 0h1V16.7h-1z" fill="#009cd3"/><path d="M231 0h1V16.7h-1z" fill="#009adb"/><path d="M232 0h1V16.7h-1z" fill="#0098dd"/><path d="M233 0h2V16.7h-2z" fill="#0095dd"/><path d="M235 0h2V16.7h-2z" fill="#0092dd"/><path d="M237 0h2V16.7h-2z" fill="#0090dd"/><path d="M239 0h1V16.7h-1z" fill="#008ddd"/><path d="M240 0h2V16.7h-2z" fill="#008add"/><path d="M242 0h2V16.7h-2z" fill="#08d"/><path d="M244 0h2V16.7h-2z" fill="#0085dd"/><path d="M246 0h1V16.7h-1z" fill="#0082dd"/><path d="M247 0h2V16.7h-2z" fill="#0098dd"/><path d="M249 0h2V16.7h-2z" fill="#00d"/><path d="M251 0h2V16.7h-2z" fill="#0098dd"/><path d="M253 0h3V16.7h-3z" fill="#00d"/><path d="M256 0h2V16.7h-2z" fill="#0098dd"/><path d="M258 0h2V16.7h-2z" fill="#00d"/><path d="M260 0h2V16.7h-2z" fill="#0098dd"/><path d="M262 0h2V16.7h-2z" fill="#00d"/><path d="M264 0h1V16.7h-1z" fill="#0098dd"/><path d="M265 0h2V16.7h-2z" fill="#00d"/><path d="M267 0h1V16.7h-1z" fill="#0000c5"/><path d="M268 0h6V16.7h-6z" fill="#870098"/><path d="M274 0h3V16.7h-3z" fill="#860097"/><path d="M277 0h2V16.7h-2z" fill="#009a08"/><path d="M279 0h6V16.7h-6z" fill="#860097"/><path d="M285 0h3V16.7h-3z" fill="#850096"/><path d="M288 0h3V16.7h-3z" fill="#830094"/><path d="M291 0h3V16.7h-3z" fill="#820093"/><path d="M294 0h3V16.7h-3z" fill="#810092"/><path d="M297 0h1V16.7h-1z" fill="#7f0090"/><path d="M298 0h1V16.7h-1z" fill="#7e008f"/><path d="M299 0h1V16.7h-1z" fill="#7d008e"/><path d="M300 0h1V16.7h-1z" fill="#7b008c"/><path d="M301 0h1V16.7h-1z" fill="#7a008b"/><path d="M302 0h1V16.7h-1z" fill="#79008a"/><path d="M303 0h1V16.7h-1z" fill="#700080"/><path d="M304 0h1V16.7h-1z" fill="#5d006b"/><path d="M305 0h1V16.7h-1z" fill="#4b0055"/><path d="M306 0h1V16.7h-1z" fill="#41004b"/><path d="M307 0h1V16.7h-1z" fill="#2f0035"/><path d="M308 0h1V16.7h-1z" fill="#25002b"/><path d="M309 0h1V16.7h-1z" fill="#1c0020"/><path d="M310 0h2V16.7h-2z" fill="#7a008b"/><path d="M312 0h1V16.7h-1z" fill="#1c0020"/><path d="M313 0h2V16.7h-2z" fill="#130015"/></g>
<g transform="translate(0,28.00)"><path d="M329 0h46V367.6h-46z" fill="#130015"/><path d="M375 0h1V367.6h-1z" fill="#25002b"/><path d="M376 0h1V367.6h-1z" fill="#4b0055"/><path d="M377 0h1V367.6h-1z" fill="#7a008b"/><path d="M378 0h1V367.6h-1z" fill="#7f0090"/><path d="M379 0h1V367.6h-1z" fill="#850096"/><path d="M380 0h1V367.6h-1z" fill="#2300a6"/><path d="M381 0h1V367.6h-1z" fill="#0009dd"/><path d="M382 0h1V367.6h-1z" fill="#0070dd"/><path d="M383 0h1V367.6h-1z" fill="#00aa95"/><path d="M384 0h1V367.6h-1z" fill="#00b700"/><path d="M385 0h1V367.6h-1z" fill="#00ca00"/><path d="M386 0h1V367.6h-1z" fill="#00da00"/><path d="M387 0h1V367.6h-1z" fill="#00ea00"/><path d="M388 0h1V367.6h-1z" fill="#0f0"/><path d="M389 0h1V367.6h-1z" fill="#84ff00"/><path d="M390 0h1V367.6h-1z" fill="#c4fc00"/><path d="M391 0h1V367.6h-1z" fill="#dcf400"/><path d="M392 0h1V367.6h-1z" fill="#e4f100"/><path d="M393 0h1V367.6h-1z" fill="#efed00"/><path d="M394 0h1V367.6h-1z" fill="#f0ea00"/><path d="M395 0h1V367.6h-1z" fill="#f4e200"/><path d="M396 0h4V367.6h-4z" fill="#fbd500"/><path d="M400 0h2V367.6h-2z" fill="#fdcf00"/><path d="M402 0h1V367.6h-1z" fill="#fcd200"/><path d="M403 0h1V367.6h-1z" fill="#f9d700"/><path d="M404 0h1V367.6h-1z" fill="#f8da00"/><path d="M405 0h1V367.6h-1z" fill="#f4e200"/><path d="M406 0h1V367.6h-1z" fill="#f1e700"/><path d="M407 0h1V367.6h-1z" fill="#f0ea00"/><path d="M408 0h1V367.6h-1z" fill="#f3e500"/><path d="M409 0h2V367.6h-2z" fill="#f1e700"/><path d="M411 0h3V367.6h-3z" fill="#f0ea00"/><path d="M414 0h1V367.6h-1z" fill="#efed00"/><path d="M415 0h1V367.6h-1z" fill="#e8f000"/><path d="M416 0h3V367.6h-3z" fill="#e4f100"/><path d="M419 0h5V367.6h-5z" fill="#e0f300"/><path d="M424 0h1V367.6h-1z" fill="#e4f100"/><path d="M425 0h3V367.6h-3z" fill="#e0f300"/><path d="M428 0h2V367.6h-2z" fill="#d8f500"/><path d="M430 0h7V367.6h-7z" fill="#d4f700"/><path d="M437 0h2V367.6h-2z" fill="#d8f500"/><path d="M439 0h3V367.6h-3z" fill="#d4f700"/><path d="M442 0h2V367.6h-2z" fill="#d0f800"/><path d="M444 0h10V367.6h-10z" fill="#c8fb00"/><path d="M454 0h2V367.6h-2z" fill="#c4fc00"/><path d="M456 0h3V367.6h-3z" fill="#bcff00"/><path d="M459 0h1V367.6h-1z" fill="#b0ff00"/><path d="M460 0h2V367.6h-2z" fill="#a1ff00"/><path d="M462 0h1V367.6h-1z" fill="#84ff00"/><path d="M463 0h1V367.6h-1z" fill="#75ff00"/><path d="M464 0h2V367.6h-2z" fill="#67ff00"/><path d="M466 0h1V367.6h-1z" fill="#49ff00"/><path d="M467 0h1V367.6h-1z" fill="#3bff00"/><path d="M468 0h1V367.6h-1z" fill="#2cff00"/><path d="M469 0h1V367.6h-1z" fill="#0fff00"/><path d="M470 0h1V367.6h-1z" fill="#0f0"/><path d="M471 0h2V367.6h-2z" fill="#00fc00"/><path d="M473 0h4V367.6h-4z" fill="#0f0"/><path d="M477 0h3V367.6h-3z" fill="#00fc00"/><path d="M480 0h2V367.6h-2z" fill="#00f400"/><path d="M482 0h2V367.6h-2z" fill="#00f200"/><path d="M484 0h1V367.6h-1z" fill="#00ef00"/><path d="M485 0h2V367.6h-2z" fill="#00f200"/><path d="M487 0h2V367.6h-2z" fill="#00ef00"/><path d="M489 0h1V367.6h-1z" fill="#00e700"/><path d="M490 0h2V367.6h-2z" fill="#00e200"/><path d="M492 0h1V367.6h-1z" fill="#00dc00"/><path d="M493 0h1V367.6h-1z" fill="#00da00"/><path d="M494 0h1V367.6h-1z" fill="#00d400"/><path d="M495 0h1V367.6h-1z" fill="#00cf00"/><path d="M496 0h1V367.6h-1z" fill="#00ca00"/><path d="M497 0h1V367.6h-1z" fill="#00c200"/><path d="M498 0h1V367.6h-1z" fill="#00b700"/><path d="M499 0h1V367.6h-1z" fill="#00af00"/><path d="M500 0h1V367.6h-1z" fill="#00a400"/><path d="M501 0h1V367.6h-1z" fill="#009c00"/><path d="M502 0h1V367.6h-1z" fill="#009b13"/><path d="M503 0h1V367.6h-1z" fill="#009e28"/><path d="M504 0h1V367.6h-1z" fill="#00a248"/><path d="M505 0h1V367.6h-1z" fill="#00a55d"/><path d="M506 0h1V367.6h-1z" fill="#00a97d"/><path d="M507 0h1V367.6h-1z" fill="#00aa8b"/><path d="M508 0h1V367.6h-1z" fill="#00aa90"/><path d="M509 0h1V367.6h-1z" fill="#00aa95"/><path d="M510 0h1V367.6h-1z" fill="#00aa9b"/><path d="M511 0h1V367.6h-1z" fill="#00aaa0"/><path d="M512 0h1V367.6h-1z" fill="#00aaa5"/><path d="M513 0h1V367.6h-1z" fill="#00aaab"/><path d="M514 0h1V367.6h-1z" fill="#00a7b3"/><path d="M515 0h1V367.6h-1z" fill="#00a3bf"/><path d="M516 0h1V367.6h-1z" fill="#00a2c3"/><path d="M517 0h1V367.6h-1z" fill="#009fcb"/><path d="M518 0h1V367.6h-1z" fill="#009cd3"/><path d="M519 0h3V367.6h-3z" fill="#009bd7"/><path d="M522 0h3V367.6h-3z" fill="#009adb"/><path d="M525 0h2V367.6h-2z" fill="#00aaa3"/><path d="M527 0h2V367.6h-2z" fill="#0098dd"/><path d="M529 0h1V367.6h-1z" fill="#0070dd"/><path d="M530 0h2V367.6h-2z" fill="#00a2c3"/><path d="M532 0h2V367.6h-2z" fill="#008add"/><path d="M534 0h2V367.6h-2z" fill="#00aaab"/><path d="M536 0h2V367.6h-2z" fill="#008add"/><path d="M538 0h1V367.6h-1z" fill="#00aaa3"/><path d="M539 0h4V367.6h-4z" fill="#0090dd"/><path d="M543 0h1V367.6h-1z" fill="#00aaa3"/><path d="M544 0h3V367.6h-3z" fill="#008add"/><path d="M547 0h1V367.6h-1z" fill="#0070dd"/><path d="M548 0h6V367.6h-6z" fill="#0013dd"/><path d="M554 0h2V367.6h-2z" fill="#0009dd"/><path d="M556 0h1V367.6h-1z" fill="#0090dd"/><path d="M557 0h2V367.6h-2z" fill="#0009dd"/><path d="M559 0h6V367.6h-6z" fill="#00d"/><path d="M565 0h5V367.6h-5z" fill="#0000d9"/><path d="M570 0h6V367.6h-6z" fill="#0000d5"/><path d="M576 0h1V367.6h-1z" fill="#0000c1"/><path d="M577 0h1V367.6h-1z" fill="#2d00a4"/><path d="M578 0h1V367.6h-1z" fill="#63009e"/><path d="M579 0h1V367.6h-1z" fill="#78009b"/><path d="M580 0h1V367.6h-1z" fill="#870098"/><path d="M581 0h1V367.6h-1z" fill="#850096"/><path d="M582 0h1V367.6h-1z" fill="#820093"/><path d="M583 0h1V367.6h-1z" fill="#810092"/><path d="M584 0h1V367.6h-1z" fill="#7e008f"/><path d="M585 0h1V367.6h-1z" fill="#7b008c"/><path d="M586 0h1V367.6h-1z" fill="#79008a"/><path d="M587 0h1V367.6h-1z" fill="#670075"/><path d="M588 0h2V367.6h-2z" fill="#810092"/><path d="M590 0h2V367.6h-2z" fill="#25002b"/><path d="M592 0h2V367.6h-2z" fill="#1c0020"/><path d="M594 0h1V367.6h-1z" fill="#130015"/></g>
<g transform="translate(0,44.71)"><path d="M329 0h46V350.9h-46z" fill="#130015"/><path d="M375 0h1V350.9h-1z" fill="#25002b"/><path d="M376 0h1V350.9h-1z" fill="#4b0055"/><path d="M377 0h1V350.9h-1z" fill="#7a008b"/><path d="M378 0h1V350.9h-1z" fill="#7f0090"/><path d="M379 0h1V350.9h-1z" fill="#850096"/><path d="M380 0h1V350.9h-1z" fill="#2300a6"/><path d="M381 0h1V350.9h-1z" fill="#0009dd"/><path d="M382 0h1V350.9h-1z" fill="#0070dd"/><path d="M383 0h1V350.9h-1z" fill="#00aa95"/><path d="M384 0h1V350.9h-1z" fill="#00b700"/><path d="M385 0h1V350.9h-1z" fill="#00ca00"/><path d="M386 0h1V350.9h-1z" fill="#00da00"/><path d="M387 0h1V350.9h-1z" fill="#00ea00"/><path d="M388 0h1V350.9h-1z" fill="#0f0"/><path d="M389 0h1V350.9h-1z" fill="#84ff00"/><path d="M390 0h1V350.9h-1z" fill="#c4fc00"/><path d="M391 0h1V350.9h-1z" fill="#dcf400"/><path d="M392 0h1V350.9h-1z" fill="#e4f100"/><path d="M393 0h1V350.9h-1z" fill="#efed00"/><path d="M394 0h1V350.9h-1z" fill="#f0ea00"/><path d="M395 0h1V350.9h-1z" fill="#f4e200"/><path d="M396 0h4V350.9h-4z" fill="#fbd500"/><path d="M400 0h2V350.9h-2z" fill="#fdcf00"/><path d="M402 0h1V350.9h-1z" fill="#fcd200"/><path d="M403 0h1V350.9h-1z" fill="#f9d700"/><path d="M404 0h1V350.9h-1z" fill="#f8da00"/><path d="M405 0h1V350.9h-1z" fill="#f4e200"/><path d="M406 0h1V350.9h-1z" fill="#f1e700"/><path d="M407 0h1V350.9h-1z" fill="#f0ea00"/><path d="M408 0h1V350.9h-1z" fill="#f3e500"/><path d="M409 0h2V350.9h-2z" fill="#f1e700"/><path d="M411 0h3V350.9h-3z" fill="#f0ea00"/><path d="M414 0h1V350.9h-1z" fill="#efed00"/><path d="M415 0h1V350.9h-1z" fill="#e8f000"/><path d="M416 0h3V350.9h-3z" fill="#e4f100"/><path d="M419 0h5V350.9h-5z" fill="#e0f300"/><path d="M424 0h1V350.9h-1z" fill="#e4f100"/><path d="M425 0h3V350.9h-3z" fill="#e0f300"/><path d="M428 0h2V350.9h-2z" fill="#d8f500"/><path d="M430 0h7V350.9h-7z" fill="#d4f700"/><path d="M437 0h2V350.9h-2z" fill="#d8f500"/><path d="M439 0h3V350.9h-3z" fill="#d4f700"/><path d="M442 0h2V350.9h-2z" fill="#d0f800"/><path d="M444 0h10V350.9h-10z" fill="#c8fb00"/><path d="M454 0h2V350.9h-2z" fill="#c4fc00"/><path d="M456 0h3V350.9h-3z" fill="#bcff00"/><path d="M459 0h1V350.9h-1z" fill="#b0ff00"/><path d="M460 0h2V350.9h-2z" fill="#a1ff00"/><path d="M462 0h1V350.9h-1z" fill="#84ff00"/><path d="M463 0h1V350.9h-1z" fill="#75ff00"/><path d="M464 0h2V350.9h-2z" fill="#67ff00"/><path d="M466 0h1V350.9h-1z" fill="#49ff00"/><path d="M467 0h1V350.9h-1z" fill="#3bff00"/><path d="M468 0h1V350.9h-1z" fill="#2cff00"/><path d="M469 0h1V350.9h-1z" fill="#0fff00"/><path d="M470 0h1V350.9h-1z" fill="#0f0"/><path d="M471 0h2V350.9h-2z" fill="#00fc00"/><path d="M473 0h4V350.9h-4z" fill="#0f0"/><path d="M477 0h3V350.9h-3z" fill="#00fc00"/><path d="M480 0h2V350.9h-2z" fill="#00f400"/><path d="M482 0h2V350.9h-2z" fill="#00f200"/><path d="M484 0h1V350.9h-1z" fill="#00ef00"/><path d="M485 0h2V350.9h-2z" fill="#00f200"/><path d="M487 0h2V350.9h-2z" fill="#00ef00"/><path d="M489 0h1V350.9h-1z" fill="#00e700"/><path d="M490 0h2V350.9h-2z" fill="#00e200"/><path d="M492 0h1V350.9h-1z" fill="#00dc00"/><path d="M493 0h1V350.9h-1z" fill="#00da00"/><path d="M494 0h1V350.9h-1z" fill="#00d400"/><path d="M495 0h1V350.9h-1z" fill="#00cf00"/><path d="M496 0h1V350.9h-1z" fill="#00ca00"/><path d="M497 0h1V350.9h-1z" fill="#00c200"/><path d="M498 0h1V350.9h-1z" fill="#00b700"/><path d="M499 0h1V350.9h-1z" fill="#00af00"/><path d="M500 0h1V350.9h-1z" fill="#00a400"/><path d="M501 0h1V350.9h-1z" fill="#009c00"/><path d="M502 0h1V350.9h-1z" fill="#009b13"/><path d="M503 0h1V350.9h-1z" fill="#009e28"/><path d="M504 0h1V350.9h-1z" fill="#00a248"/><path d="M505 0h1V350.9h-1z" fill="#00a55d"/><path d="M506 0h1V350.9h-1z" fill="#00a97d"/><path d="M507 0h1V350.9h-1z" fill="#00aa8b"/><path d="M508 0h1V350.9h-1z" fill="#00aa90"/><path d="M509 0h1V350.9h-1z" fill="#00aa95"/><path d="M510 0h1V350.9h-1z" fill="#00aa9b"/><path d="M511 0h1V350.9h-1z" fill="#00aaa0"/><path d="M512 0h1V350.9h-1z" fill="#00aaa5"/><path d="M513 0h1V350.9h-1z" fill="#00aaab"/><path d="M514 0h1V350.9h-1z" fill="#00a7b3"/><path d="M515 0h1V350.9h-1z" fill="#00a3bf"/><path d="M516 0h1V350.9h-1z" fill="#00a2c3"/><path d="M517 0h1V350.9h-1z" fill="#009fcb"/><path d="M518 0h1V350.9h-1z" fill="#009cd3"/><path d="M519 0h3V350.9h-3z" fill="#009bd7"/><path d="M522 0h3V350.9h-3z" fill="#009adb"/><path d="M525 0h2V350.9h-2z" fill="#00aaa3"/><path d="M527 0h2V350.9h-2z" fill="#0098dd"/><path d="M529 0h1V350.9h-1z" fill="#0070dd"/><path d="M530 0h2V350.9h-2z" fill="#00a2c3"/><path d="M532 0h2V350.9h-2z" fill="#008add"/><path d="M534 0h2V350.9h-2z" fill="#00aaab"/><path d="M536 0h2V350.9h-2z" fill="#008add"/><path d="M538 0h1V350.9h-1z" fill="#00aaa3"/><path d="M539 0h4V350.9h-4z" fill="#0090dd"/><path d="M543 0h1V350.9h-1z" fill="#00aaa3"/><path d="M544 0h3V350.9h-3z" fill="#008add"/><path d="M547 0h1V350.9h-1z" fill="#0070dd"/><path d="M548 0h6V350.9h-6z" fill="#0013dd"/><path d="M554 0h2V350.9h-2z" fill="#0009dd"/><path d="M556 0h1V350.9h-1z" fill="#0090dd"/><path d="M557 0h2V350.9h-2z" fill="#0009dd"/><path d="M559 0h6V350.9h-6z" fill="#00d"/><path d="M565 0h5V350.9h-5z" fill="#0000d9"/><path d="M570 0h6V350.9h-6z" fill="#0000d5"/><path d="M576 0h1V350.9h-1z" fill="#0000c1"/><path d="M577 0h1V350.9h-1z" fill="#2d00a4"/><path d="M578 0h1V350.9h-1z" fill="#63009e"/><path d="M579 0h1V350.9h-1z" fill="#78009b"/><path d="M580 0h1V350.9h-1z" fill="#870098"/><path d="M581 0h1V350.9h-1z" fill="#850096"/><path d="M582 0h1V350.9h-1z" fill="#820093"/><path d="M583 0h1V350.9h-1z" fill="#810092"/><path d="M584 0h1V350.9h-1z" fill="#7e008f"/><path d="M585 0h1V350.9h-1z" fill="#7b008c"/><path d="M586 0h1V350.9h-1z" fill="#79008a"/><path d="M587 0h1V350.9h-1z" fill="#670075"/><path d="M588 0h1V350.9h-1z" fill="#4b0055"/><path d="M589 0h1V350.9h-1z" fill="#380040"/><path d="M590 0h2V350.9h-2z" fill="#25002b"/><path d="M592 0h2V350.9h-2z" fill="#1c0020"/><path d="M594 0h1V350.9h-1z" fill="#130015"/></g>
<g transform="translate(0,61.42)"><path d="M329 0h50V334.2h-50z" fill="#130015"/><path d="M379 0h3V334.2h-3z" fill="#1c0020"/><path d="M382 0h3V334.2h-3z" fill="#25002b"/><path d="M385 0h104V334.2h-104z" fill="#2f0035"/><path d="M489 0h26V334.2h-26z" fill="#25002b"/><path d="M515 0h62V334.2h-62z" fill="#1c0020"/><path d="M577 0h18V334.2h-18z" fill="#130015"/></g>
<g transform="translate(0,78.13)"><path d="M329 0h47V317.5h-47z" fill="#130015"/><path d="M376 0h2V317.5h-2z" fill="#1c0020"/><path d="M378 0h1V317.5h-1z" fill="#25002b"/><path d="M379 0h1V317.5h-1z" fill="#380040"/><path d="M380 0h1V317.5h-1z" fill="#540060"/><path d="M381 0h1V317.5h-1z" fill="#700080"/><path d="M382 0h1V317.5h-1z" fill="#7e008f"/><path d="M383 0h1V317.5h-1z" fill="#820093"/><path d="M384 0h1V317.5h-1z" fill="#860097"/><path d="M385 0h1V317.5h-1z" fill="#4d00a0"/><path d="M386 0h1V317.5h-1z" fill="#0000bd"/><path d="M387 0h1V317.5h-1z" fill="#00d"/><path d="M388 0h1V317.5h-1z" fill="#0070dd"/><path d="M389 0h1V317.5h-1z" fill="#008ddd"/><path d="M390 0h1V317.5h-1z" fill="#009adb"/><path d="M391 0h1V317.5h-1z" fill="#009ecf"/><path d="M392 0h1V317.5h-1z" fill="#00a0c7"/><path d="M393 0h1V317.5h-1z" fill="#00a6b7"/><path d="M394 0h1V317.5h-1z" fill="#00a8af"/><path d="M395 0h1V317.5h-1z" fill="#00aaab"/><path d="M396 0h1V317.5h-1z" fill="#00aaa5"/><path d="M397 0h1V317.5h-1z" fill="#00aaa3"/><path d="M398 0h2V317.5h-2z" fill="#00aaa0"/><path d="M400 0h1V317.5h-1z" fill="#00aa9b"/><path d="M401 0h1V317.5h-1z" fill="#00aa98"/><path d="M402 0h2V317.5h-2z" fill="#00aa95"/><path d="M404 0h1V317.5h-1z" fill="#00aa93"/><path d="M405 0h1V317.5h-1z" fill="#00aa95"/><path d="M406 0h2V317.5h-2z" fill="#00aa93"/><path d="M408 0h7V317.5h-7z" fill="#00aa8b"/><path d="M415 0h9V317.5h-9z" fill="#00aa90"/><path d="M424 0h4V317.5h-4z" fill="#00aa8b"/><path d="M428 0h3V317.5h-3z" fill="#00aa90"/><path d="M431 0h2V317.5h-2z" fill="#00aa8d"/><path d="M433 0h2V317.5h-2z" fill="#0a8"/><path d="M435 0h2V317.5h-2z" fill="#00a97d"/><path d="M437 0h1V317.5h-1z" fill="#00a55d"/><path d="M438 0h1V317.5h-1z" fill="#00a353"/><path d="M439 0h2V317.5h-2z" fill="#00a248"/><path d="M441 0h2V317.5h-2z" fill="#00a13d"/><path d="M443 0h1V317.5h-1z" fill="#009f33"/><path d="M444 0h1V317.5h-1z" fill="#009e28"/><path d="M445 0h1V317.5h-1z" fill="#009d1d"/><path d="M446 0h1V317.5h-1z" fill="#009b13"/><path d="M447 0h1V317.5h-1z" fill="#009a00"/><path d="M448 0h1V317.5h-1z" fill="#009c00"/><path d="M449 0h7V317.5h-7z" fill="#009f00"/><path d="M456 0h4V317.5h-4z" fill="#009c00"/><path d="M460 0h5V317.5h-5z" fill="#009a00"/><path d="M465 0h8V317.5h-8z" fill="#009c00"/><path d="M473 0h2V317.5h-2z" fill="#009f00"/><path d="M475 0h1V317.5h-1z" fill="#009a00"/><path d="M476 0h1V317.5h-1z" fill="#009a08"/><path d="M477 0h1V317.5h-1z" fill="#009b13"/><path d="M478 0h1V317.5h-1z" fill="#009d1d"/><path d="M479 0h1V317.5h-1z" fill="#009e28"/><path d="M480 0h1V317.5h-1z" fill="#00a353"/><path d="M481 0h1V317.5h-1z" fill="#00a55d"/><path d="M482 0h2V317.5h-2z" fill="#00a668"/><path d="M484 0h2V317.5h-2z" fill="#00a97d"/><path d="M486 0h1V317.5h-1z" fill="#00aa8b"/><path d="M487 0h1V317.5h-1z" fill="#00aa93"/><path d="M488 0h1V317.5h-1z" fill="#00aa9d"/><path d="M489 0h1V317.5h-1z" fill="#00aaab"/><path d="M490 0h1V317.5h-1z" fill="#00a3bf"/><path d="M491 0h1V317.5h-1z" fill="#00a0c7"/><path d="M492 0h1V317.5h-1z" fill="#009bd7"/><path d="M493 0h1V317.5h-1z" fill="#0095dd"/><path d="M494 0h1V317.5h-1z" fill="#008ddd"/><path d="M495 0h1V317.5h-1z" fill="#08d"/><path d="M496 0h1V317.5h-1z" fill="#0080dd"/><path d="M497 0h1V317.5h-1z" fill="#0078dd"/><path d="M498 0h1V317.5h-1z" fill="#005ddd"/><path d="M499 0h1V317.5h-1z" fill="#004bdd"/><path d="M500 0h1V317.5h-1z" fill="#0038dd"/><path d="M501 0h1V317.5h-1z" fill="#0025dd"/><path d="M502 0h2V317.5h-2z" fill="#0013dd"/><path d="M504 0h3V317.5h-3z" fill="#0009dd"/><path d="M507 0h2V317.5h-2z" fill="#00d"/><path d="M509 0h2V317.5h-2z" fill="#0000d9"/><path d="M511 0h2V317.5h-2z" fill="#0000d5"/><path d="M513 0h1V317.5h-1z" fill="#0000d1"/><path d="M514 0h1V317.5h-1z" fill="#0000cd"/><path d="M515 0h1V317.5h-1z" fill="#0000c9"/><path d="M516 0h2V317.5h-2z" fill="#0000c5"/><path d="M518 0h1V317.5h-1z" fill="#0000c1"/><path d="M519 0h1V317.5h-1z" fill="#0000bd"/><path d="M520 0h1V317.5h-1z" fill="#0000b5"/><path d="M521 0h2V317.5h-2z" fill="#0000b1"/><path d="M523 0h1V317.5h-1z" fill="#0000ad"/><path d="M524 0h1V317.5h-1z" fill="#0300aa"/><path d="M525 0h1V317.5h-1z" fill="#0d00a8"/><path d="M526 0h1V317.5h-1z" fill="#0098dd"/><path d="M527 0h2V317.5h-2z" fill="#009d1d"/><path d="M529 0h2V317.5h-2z" fill="#00d"/><path d="M531 0h2V317.5h-2z" fill="#0a8"/><path d="M533 0h4V317.5h-4z" fill="#00aaa3"/><path d="M537 0h2V317.5h-2z" fill="#00a773"/><path d="M539 0h2V317.5h-2z" fill="#0090dd"/><path d="M541 0h3V317.5h-3z" fill="#009f33"/><path d="M544 0h3V317.5h-3z" fill="#008add"/><path d="M547 0h2V317.5h-2z" fill="#00d"/><path d="M549 0h2V317.5h-2z" fill="#7a008b"/><path d="M551 0h3V317.5h-3z" fill="#79008a"/><path d="M554 0h3V317.5h-3z" fill="#708"/><path d="M557 0h2V317.5h-2z" fill="#0000d5"/><path d="M559 0h1V317.5h-1z" fill="#700080"/><path d="M560 0h3V317.5h-3z" fill="#670075"/><path d="M563 0h3V317.5h-3z" fill="#5d006b"/><path d="M566 0h3V317.5h-3z" fill="#540060"/><path d="M569 0h3V317.5h-3z" fill="#4b0055"/><path d="M572 0h4V317.5h-4z" fill="#41004b"/><path d="M576 0h3V317.5h-3z" fill="#380040"/><path d="M579 0h3V317.5h-3z" fill="#2f0035"/><path d="M582 0h3V317.5h-3z" fill="#25002b"/><path d="M585 0h4V317.5h-4z" fill="#1c0020"/><path d="M589 0h6V317.5h-6z" fill="#130015"/></g>
<g transform="translate(0,94.84)"><path d="M329 0h47V300.8h-47z" fill="#130015"/><path d="M376 0h2V300.8h-2z" fill="#1c0020"/><path d="M378 0h1V300.8h-1z" fill="#25002b"/><path d="M379 0h1V300.8h-1z" fill="#380040"/><path d="M380 0h1V300.8h-1z" fill="#540060"/><path d="M381 0h1V300.8h-1z" fill="#700080"/><path d="M382 0h1V300.8h-1z" fill="#7e008f"/><path d="M383 0h1V300.8h-1z" fill="#820093"/><path d="M384 0h1V300.8h-1z" fill="#860097"/><path d="M385 0h1V300.8h-1z" fill="#4d00a0"/><path d="M386 0h1V300.8h-1z" fill="#0000bd"/><path d="M387 0h1V300.8h-1z" fill="#00d"/><path d="M388 0h1V300.8h-1z" fill="#0070dd"/><path d="M389 0h1V300.8h-1z" fill="#008ddd"/><path d="M390 0h1V300.8h-1z" fill="#009adb"/><path d="M391 0h1V300.8h-1z" fill="#009bd7"/><path d="M392 0h1V300.8h-1z" fill="#009ecf"/><path d="M393 0h1V300.8h-1z" fill="#00a0c7"/><path d="M394 0h2V300.8h-2z" fill="#00a3bf"/><path d="M396 0h1V300.8h-1z" fill="#00a6b7"/><path d="M397 0h2V300.8h-2z" fill="#00a7b3"/><path d="M399 0h1V300.8h-1z" fill="#00a8af"/><path d="M400 0h2V300.8h-2z" fill="#00aaa8"/><path d="M402 0h3V300.8h-3z" fill="#00aaa5"/><path d="M405 0h1V300.8h-1z" fill="#00aaa8"/><path d="M406 0h2V300.8h-2z" fill="#00aaa5"/><path d="M408 0h4V300.8h-4z" fill="#00aaa0"/><path d="M412 0h3V300.8h-3z" fill="#00aa9d"/><path d="M415 0h3V300.8h-3z" fill="#00aaa5"/><path d="M418 0h6V300.8h-6z" fill="#00aaa3"/><path d="M424 0h4V300.8h-4z" fill="#00aaa0"/><path d="M428 0h2V300.8h-2z" fill="#00aaa5"/><path d="M430 0h2V300.8h-2z" fill="#00aaa3"/><path d="M432 0h1V300.8h-1z" fill="#00aaa0"/><path d="M433 0h1V300.8h-1z" fill="#00aa9d"/><path d="M434 0h2V300.8h-2z" fill="#00aa9b"/><path d="M436 0h1V300.8h-1z" fill="#00aa98"/><path d="M437 0h1V300.8h-1z" fill="#00aa93"/><path d="M438 0h1V300.8h-1z" fill="#00aa90"/><path d="M439 0h1V300.8h-1z" fill="#00aa8d"/><path d="M440 0h1V300.8h-1z" fill="#00aa8b"/><path d="M441 0h2V300.8h-2z" fill="#0a8"/><path d="M443 0h2V300.8h-2z" fill="#00a97d"/><path d="M445 0h1V300.8h-1z" fill="#00a668"/><path d="M446 0h1V300.8h-1z" fill="#00a55d"/><path d="M447 0h1V300.8h-1z" fill="#00a248"/><path d="M448 0h1V300.8h-1z" fill="#00a13d"/><path d="M449 0h1V300.8h-1z" fill="#009f33"/><path d="M450 0h1V300.8h-1z" fill="#009d1d"/><path d="M451 0h1V300.8h-1z" fill="#009b13"/><path d="M452 0h1V300.8h-1z" fill="#009a08"/><path d="M453 0h3V300.8h-3z" fill="#009a00"/><path d="M456 0h4V300.8h-4z" fill="#009a08"/><path d="M460 0h5V300.8h-5z" fill="#009b13"/><path d="M465 0h4V300.8h-4z" fill="#009a08"/><path d="M469 0h2V300.8h-2z" fill="#009b13"/><path d="M471 0h3V300.8h-3z" fill="#009e28"/><path d="M474 0h1V300.8h-1z" fill="#00a13d"/><path d="M475 0h1V300.8h-1z" fill="#00a248"/><path d="M476 0h2V300.8h-2z" fill="#00a55d"/><path d="M478 0h1V300.8h-1z" fill="#00a668"/><path d="M479 0h1V300.8h-1z" fill="#00a773"/><path d="M480 0h1V300.8h-1z" fill="#00aa8d"/><path d="M481 0h1V300.8h-1z" fill="#00aa90"/><path d="M482 0h1V300.8h-1z" fill="#00aa93"/><path d="M483 0h1V300.8h-1z" fill="#00aa95"/><path d="M484 0h1V300.8h-1z" fill="#00aa9b"/><path d="M485 0h1V300.8h-1z" fill="#00aa98"/><path d="M486 0h1V300.8h-1z" fill="#00aa9d"/><path d="M487 0h1V300.8h-1z" fill="#00aaa5"/><path d="M488 0h1V300.8h-1z" fill="#00aaab"/><path d="M489 0h1V300.8h-1z" fill="#00a2c3"/><path d="M490 0h1V300.8h-1z" fill="#009fcb"/><path d="M491 0h1V300.8h-1z" fill="#009ecf"/><path d="M492 0h1V300.8h-1z" fill="#009bd7"/><path d="M493 0h1V300.8h-1z" fill="#0095dd"/><path d="M494 0h1V300.8h-1z" fill="#008ddd"/><path d="M495 0h1V300.8h-1z" fill="#08d"/><path d="M496 0h1V300.8h-1z" fill="#0080dd"/><path d="M497 0h1V300.8h-1z" fill="#0078dd"/><path d="M498 0h1V300.8h-1z" fill="#005ddd"/><path d="M499 0h1V300.8h-1z" fill="#004bdd"/><path d="M500 0h1V300.8h-1z" fill="#0038dd"/><path d="M501 0h1V300.8h-1z" fill="#0025dd"/><path d="M502 0h2V300.8h-2z" fill="#0013dd"/><path d="M504 0h3V300.8h-3z" fill="#0009dd"/><path d="M507 0h2V300.8h-2z" fill="#00d"/><path d="M509 0h2V300.8h-2z" fill="#0000d9"/><path d="M511 0h2V300.8h-2z" fill="#0000d5"/><path d="M513 0h1V300.8h-1z" fill="#0000d1"/><path d="M514 0h1V300.8h-1z" fill="#0000cd"/><path d="M515 0h1V300.8h-1z" fill="#0000c9"/><path d="M516 0h2V300.8h-2z" fill="#0000c5"/><path d="M518 0h1V300.8h-1z" fill="#0000c1"/><path d="M519 0h1V300.8h-1z" fill="#0000bd"/><path d="M520 0h1V300.8h-1z" fill="#0000b5"/><path d="M521 0h2V300.8h-2z" fill="#0000b1"/><path d="M523 0h1V300.8h-1z" fill="#0000ad"/><path d="M524 0h1V300.8h-1z" fill="#0300aa"/><path d="M525 0h1V300.8h-1z" fill="#0d00a8"/><path d="M526 0h1V300.8h-1z" fill="#0098dd"/><path d="M527 0h2V300.8h-2z" fill="#009d1d"/><path d="M529 0h2V300.8h-2z" fill="#00d"/><path d="M531 0h2V300.8h-2z" fill="#0a8"/><path d="M533 0h4V300.8h-4z" fill="#00aaa3"/><path d="M537 0h2V300.8h-2z" fill="#00a773"/><path d="M539 0h2V300.8h-2z" fill="#0090dd"/><path d="M541 0h3V300.8h-3z" fill="#009f33"/><path d="M544 0h3V300.8h-3z" fill="#008add"/><path d="M547 0h2V300.8h-2z" fill="#00d"/><path d="M549 0h1V300.8h-1z" fill="#79008a"/><path d="M550 0h3V300.8h-3z" fill="#708"/><path d="M553 0h3V300.8h-3z" fill="#700080"/><path d="M556 0h3V300.8h-3z" fill="#670075"/><path d="M559 0h3V300.8h-3z" fill="#5d006b"/><path d="M562 0h4V300.8h-4z" fill="#540060"/><path d="M566 0h4V300.8h-4z" fill="#4b0055"/><path d="M570 0h3V300.8h-3z" fill="#41004b"/><path d="M573 0h4V300.8h-4z" fill="#380040"/><path d="M577 0h3V300.8h-3z" fill="#2f0035"/><path d="M580 0h4V300.8h-4z" fill="#25002b"/><path d="M584 0h3V300.8h-3z" fill="#1c0020"/><path d="M587 0h7V300.8h-7z" fill="#130015"/><path d="M594 0h1V300.8h-1z" fill="#09000b"/></g>
<g transform="translate(0,111.55)"><path d="M329 0h47V284.1h-47z" fill="#130015"/><path d="M376 0h2V284.1h-2z" fill="#1c0020"/><path d="M378 0h1V284.1h-1z" fill="#25002b"/><path d="M379 0h1V284.1h-1z" fill="#380040"/><path d="M380 0h1V284.1h-1z" fill="#540060"/><path d="M381 0h1V284.1h-1z" fill="#700080"/><path d="M382 0h1V284.1h-1z" fill="#7e008f"/><path d="M383 0h1V284.1h-1z" fill="#820093"/><path d="M384 0h1V284.1h-1z" fill="#860097"/><path d="M385 0h1V284.1h-1z" fill="#4d00a0"/><path d="M386 0h1V284.1h-1z" fill="#0000bd"/><path d="M387 0h1V284.1h-1z" fill="#00d"/><path d="M388 0h1V284.1h-1z" fill="#0070dd"/><path d="M389 0h1V284.1h-1z" fill="#008ddd"/><path d="M390 0h1V284.1h-1z" fill="#009adb"/><path d="M391 0h1V284.1h-1z" fill="#009bd7"/><path d="M392 0h1V284.1h-1z" fill="#009cd3"/><path d="M393 0h1V284.1h-1z" fill="#009fcb"/><path d="M394 0h2V284.1h-2z" fill="#00a2c3"/><path d="M396 0h2V284.1h-2z" fill="#00a3bf"/><path d="M398 0h2V284.1h-2z" fill="#00a6b7"/><path d="M400 0h2V284.1h-2z" fill="#00a8af"/><path d="M402 0h1V284.1h-1z" fill="#00aaab"/><path d="M403 0h1V284.1h-1z" fill="#00a8af"/><path d="M404 0h1V284.1h-1z" fill="#00aaab"/><path d="M405 0h3V284.1h-3z" fill="#00a8af"/><path d="M408 0h7V284.1h-7z" fill="#00aaa5"/><path d="M415 0h9V284.1h-9z" fill="#00aaab"/><path d="M424 0h4V284.1h-4z" fill="#00aaa5"/><path d="M428 0h3V284.1h-3z" fill="#00aaab"/><path d="M431 0h2V284.1h-2z" fill="#00aaa8"/><path d="M433 0h2V284.1h-2z" fill="#00aaa3"/><path d="M435 0h2V284.1h-2z" fill="#00aaa0"/><path d="M437 0h1V284.1h-1z" fill="#00aa98"/><path d="M438 0h1V284.1h-1z" fill="#00aa95"/><path d="M439 0h2V284.1h-2z" fill="#00aa93"/><path d="M441 0h2V284.1h-2z" fill="#00aa90"/><path d="M443 0h1V284.1h-1z" fill="#00aa8d"/><path d="M444 0h1V284.1h-1z" fill="#00aa8b"/><path d="M445 0h1V284.1h-1z" fill="#0a8"/><path d="M446 0h1V284.1h-1z" fill="#00a97d"/><path d="M447 0h1V284.1h-1z" fill="#00a668"/><path d="M448 0h1V284.1h-1z" fill="#00a55d"/><path d="M449 0h1V284.1h-1z" fill="#00a248"/><path d="M450 0h1V284.1h-1z" fill="#00a13d"/><path d="M451 0h1V284.1h-1z" fill="#009e28"/><path d="M452 0h1V284.1h-1z" fill="#009d1d"/><path d="M453 0h1V284.1h-1z" fill="#009b13"/><path d="M454 0h2V284.1h-2z" fill="#009a08"/><path d="M456 0h14V284.1h-14z" fill="#009d1d"/><path d="M470 0h1V284.1h-1z" fill="#009e28"/><path d="M471 0h1V284.1h-1z" fill="#009f33"/><path d="M472 0h2V284.1h-2z" fill="#00a248"/><path d="M474 0h1V284.1h-1z" fill="#00a353"/><path d="M475 0h1V284.1h-1z" fill="#00a668"/><path d="M476 0h1V284.1h-1z" fill="#00a773"/><path d="M477 0h1V284.1h-1z" fill="#00a97d"/><path d="M478 0h1V284.1h-1z" fill="#0a8"/><path d="M479 0h1V284.1h-1z" fill="#00aa8b"/><path d="M480 0h1V284.1h-1z" fill="#00aa95"/><path d="M481 0h1V284.1h-1z" fill="#00aa98"/><path d="M482 0h2V284.1h-2z" fill="#00aa9b"/><path d="M484 0h2V284.1h-2z" fill="#00aaa0"/><path d="M486 0h1V284.1h-1z" fill="#00aaa5"/><path d="M487 0h1V284.1h-1z" fill="#00aaab"/><path d="M488 0h1V284.1h-1z" fill="#00a7b3"/><path d="M489 0h1V284.1h-1z" fill="#00a0c7"/><path d="M490 0h1V284.1h-1z" fill="#009ecf"/><path d="M491 0h1V284.1h-1z" fill="#009cd3"/><path d="M492 0h1V284.1h-1z" fill="#009adb"/><path d="M493 0h1V284.1h-1z" fill="#0095dd"/><path d="M494 0h1V284.1h-1z" fill="#008ddd"/><path d="M495 0h1V284.1h-1z" fill="#08d"/><path d="M496 0h1V284.1h-1z" fill="#0080dd"/><path d="M497 0h1V284.1h-1z" fill="#0078dd"/><path d="M498 0h1V284.1h-1z" fill="#005ddd"/><path d="M499 0h1V284.1h-1z" fill="#004bdd"/><path d="M500 0h1V284.1h-1z" fill="#0038dd"/><path d="M501 0h1V284.1h-1z" fill="#0025dd"/><path d="M502 0h2V284.1h-2z" fill="#0013dd"/><path d="M504 0h3V284.1h-3z" fill="#0009dd"/><path d="M507 0h2V284.1h-2z" fill="#00d"/><path d="M509 0h2V284.1h-2z" fill="#0000d9"/><path d="M511 0h2V284.1h-2z" fill="#0000d5"/><path d="M513 0h1V284.1h-1z" fill="#0000d1"/><path d="M514 0h1V284.1h-1z" fill="#0000cd"/><path d="M515 0h1V284.1h-1z" fill="#0000c9"/><path d="M516 0h2V284.1h-2z" fill="#0000c5"/><path d="M518 0h1V284.1h-1z" fill="#0000c1"/><path d="M519 0h1V284.1h-1z" fill="#0000bd"/><path d="M520 0h1V284.1h-1z" fill="#0000b5"/><path d="M521 0h2V284.1h-2z" fill="#0000b1"/><path d="M523 0h1V284.1h-1z" fill="#0000ad"/><path d="M524 0h1V284.1h-1z" fill="#0300aa"/><path d="M525 0h1V284.1h-1z" fill="#0d00a8"/><path d="M526 0h1V284.1h-1z" fill="#0098dd"/><path d="M527 0h2V284.1h-2z" fill="#009d1d"/><path d="M529 0h2V284.1h-2z" fill="#00d"/><path d="M531 0h2V284.1h-2z" fill="#0a8"/><path d="M533 0h4V284.1h-4z" fill="#00aaa3"/><path d="M537 0h2V284.1h-2z" fill="#00a773"/><path d="M539 0h2V284.1h-2z" fill="#0090dd"/><path d="M541 0h3V284.1h-3z" fill="#009f33"/><path d="M544 0h3V284.1h-3z" fill="#008add"/><path d="M547 0h2V284.1h-2z" fill="#00d"/><path d="M549 0h3V284.1h-3z" fill="#708"/><path d="M552 0h2V284.1h-2z" fill="#700080"/><path d="M554 0h4V284.1h-4z" fill="#670075"/><path d="M558 0h3V284.1h-3z" fill="#5d006b"/><path d="M561 0h4V284.1h-4z" fill="#540060"/><path d="M565 0h4V284.1h-4z" fill="#4b0055"/><path d="M569 0h3V284.1h-3z" fill="#41004b"/><path d="M572 0h4V284.1h-4z" fill="#380040"/><path d="M576 0h4V284.1h-4z" fill="#2f0035"/><path d="M580 0h3V284.1h-3z" fill="#25002b"/><path d="M583 0h4V284.1h-4z" fill="#1c0020"/><path d="M587 0h6V284.1h-6z" fill="#130015"/><path d="M593 0h2V284.1h-2z" fill="#09000b"/></g>
<g transform="translate(0,128.25)"><path d="M329 0h47V267.3h-47z" fill="#130015"/><path d="M376 0h2V267.3h-2z" fill="#1c0020"/><path d="M378 0h1V267.3h-1z" fill="#25002b"/><path d="M379 0h1V267.3h-1z" fill="#380040"/><path d="M380 0h1V267.3h-1z" fill="#540060"/><path d="M381 0h1V267.3h-1z" fill="#700080"/><path d="M382 0h1V267.3h-1z" fill="#7e008f"/><path d="M383 0h1V267.3h-1z" fill="#820093"/><path d="M384 0h1V267.3h-1z" fill="#860097"/><path d="M385 0h1V267.3h-1z" fill="#4d00a0"/><path d="M386 0h1V267.3h-1z" fill="#0000bd"/><path d="M387 0h1V267.3h-1z" fill="#00d"/><path d="M388 0h1V267.3h-1z" fill="#0070dd"/><path d="M389 0h1V267.3h-1z" fill="#008ddd"/><path d="M390 0h1V267.3h-1z" fill="#009adb"/><path d="M391 0h1V267.3h-1z" fill="#009bd7"/><path d="M392 0h1V267.3h-1z" fill="#009ecf"/><path d="M393 0h1V267.3h-1z" fill="#00a0c7"/><path d="M394 0h1V267.3h-1z" fill="#00a2c3"/><path d="M395 0h2V267.3h-2z" fill="#00a3bf"/><path d="M397 0h2V267.3h-2z" fill="#00a6b7"/><path d="M399 0h1V267.3h-1z" fill="#00a7b3"/><path d="M400 0h2V267.3h-2z" fill="#00aaab"/><path d="M402 0h1V267.3h-1z" fill="#00aaa8"/><path d="M403 0h1V267.3h-1z" fill="#00aaab"/><path d="M404 0h1V267.3h-1z" fill="#00aaa8"/><path d="M405 0h2V267.3h-2z" fill="#00aaab"/><path d="M407 0h1V267.3h-1z" fill="#00aaa8"/><path d="M408 0h4V267.3h-4z" fill="#00aaa3"/><path d="M412 0h3V267.3h-3z" fill="#00aaa0"/><path d="M415 0h9V267.3h-9z" fill="#00aaa8"/><path d="M424 0h4V267.3h-4z" fill="#00aaa3"/><path d="M428 0h2V267.3h-2z" fill="#00aaa8"/><path d="M430 0h2V267.3h-2z" fill="#00aaa5"/><path d="M432 0h1V267.3h-1z" fill="#00aaa3"/><path d="M433 0h1V267.3h-1z" fill="#00aaa0"/><path d="M434 0h2V267.3h-2z" fill="#00aa9d"/><path d="M436 0h1V267.3h-1z" fill="#00aa9b"/><path d="M437 0h1V267.3h-1z" fill="#00aa95"/><path d="M438 0h1V267.3h-1z" fill="#00aa93"/><path d="M439 0h1V267.3h-1z" fill="#00aa90"/><path d="M440 0h1V267.3h-1z" fill="#00aa8d"/><path d="M441 0h2V267.3h-2z" fill="#00aa8b"/><path d="M443 0h2V267.3h-2z" fill="#0a8"/><path d="M445 0h1V267.3h-1z" fill="#00a97d"/><path d="M446 0h1V267.3h-1z" fill="#00a668"/><path d="M447 0h1V267.3h-1z" fill="#00a55d"/><path d="M448 0h1V267.3h-1z" fill="#00a248"/><path d="M449 0h1V267.3h-1z" fill="#00a13d"/><path d="M450 0h1V267.3h-1z" fill="#009e28"/><path d="M451 0h1V267.3h-1z" fill="#009d1d"/><path d="M452 0h1V267.3h-1z" fill="#009b13"/><path d="M453 0h3V267.3h-3z" fill="#009a08"/><path d="M456 0h4V267.3h-4z" fill="#009b13"/><path d="M460 0h5V267.3h-5z" fill="#009d1d"/><path d="M465 0h5V267.3h-5z" fill="#009b13"/><path d="M470 0h1V267.3h-1z" fill="#009d1d"/><path d="M471 0h1V267.3h-1z" fill="#009e28"/><path d="M472 0h1V267.3h-1z" fill="#009f33"/><path d="M473 0h1V267.3h-1z" fill="#00a13d"/><path d="M474 0h1V267.3h-1z" fill="#00a248"/><path d="M475 0h1V267.3h-1z" fill="#00a353"/><path d="M476 0h1V267.3h-1z" fill="#00a668"/><path d="M477 0h1V267.3h-1z" fill="#00a773"/><path d="M478 0h1V267.3h-1z" fill="#00a97d"/><path d="M479 0h1V267.3h-1z" fill="#0a8"/><path d="M480 0h1V267.3h-1z" fill="#00aa90"/><path d="M481 0h1V267.3h-1z" fill="#00aa93"/><path d="M482 0h1V267.3h-1z" fill="#00aa95"/><path d="M483 0h1V267.3h-1z" fill="#00aa98"/><path d="M484 0h1V267.3h-1z" fill="#00aa9d"/><path d="M485 0h1V267.3h-1z" fill="#00aa9b"/><path d="M486 0h1V267.3h-1z" fill="#00aaa3"/><path d="M487 0h1V267.3h-1z" fill="#00aaa8"/><path d="M488 0h1V267.3h-1z" fill="#00a8af"/><path d="M489 0h1V267.3h-1z" fill="#00a2c3"/><path d="M490 0h1V267.3h-1z" fill="#009fcb"/><path d="M491 0h1V267.3h-1z" fill="#009ecf"/><path d="M492 0h1V267.3h-1z" fill="#009adb"/><path d="M493 0h1V267.3h-1z" fill="#0095dd"/><path d="M494 0h1V267.3h-1z" fill="#008ddd"/><path d="M495 0h1V267.3h-1z" fill="#08d"/><path d="M496 0h1V267.3h-1z" fill="#0080dd"/><path d="M497 0h1V267.3h-1z" fill="#0078dd"/><path d="M498 0h1V267.3h-1z" fill="#005ddd"/><path d="M499 0h1V267.3h-1z" fill="#004bdd"/><path d="M500 0h1V267.3h-1z" fill="#0038dd"/><path d="M501 0h1V267.3h-1z" fill="#0025dd"/><path d="M502 0h2V267.3h-2z" fill="#0013dd"/><path d="M504 0h3V267.3h-3z" fill="#0009dd"/><path d="M507 0h2V267.3h-2z" fill="#00d"/><path d="M509 0h2V267.3h-2z" fill="#0000d9"/><path d="M511 0h2V267.3h-2z" fill="#0000d5"/><path d="M513 0h1V267.3h-1z" fill="#0000d1"/><path d="M514 0h1V267.3h-1z" fill="#0000cd"/><path d="M515 0h1V267.3h-1z" fill="#0000c9"/><path d="M516 0h2V267.3h-2z" fill="#0000c5"/><path d="M518 0h1V267.3h-1z" fill="#0000c1"/><path d="M519 0h1V267.3h-1z" fill="#0000bd"/><path d="M520 0h1V267.3h-1z" fill="#0000b5"/><path d="M521 0h2V267.3h-2z" fill="#0000b1"/><path d="M523 0h1V267.3h-1z" fill="#0000ad"/><path d="M524 0h1V267.3h-1z" fill="#0300aa"/><path d="M525 0h1V267.3h-1z" fill="#0d00a8"/><path d="M526 0h1V267.3h-1z" fill="#0098dd"/><path d="M527 0h2V267.3h-2z" fill="#009d1d"/><path d="M529 0h2V267.3h-2z" fill="#00d"/><path d="M531 0h2V267.3h-2z" fill="#0a8"/><path d="M533 0h4V267.3h-4z" fill="#00aaa3"/><path d="M537 0h2V267.3h-2z" fill="#00a773"/><path d="M539 0h2V267.3h-2z" fill="#0090dd"/><path d="M541 0h3V267.3h-3z" fill="#009f33"/><path d="M544 0h3V267.3h-3z" fill="#008add"/><path d="M547 0h2V267.3h-2z" fill="#00d"/><path d="M549 0h3V267.3h-3z" fill="#708"/><path d="M552 0h2V267.3h-2z" fill="#700080"/><path d="M554 0h4V267.3h-4z" fill="#670075"/><path d="M558 0h3V267.3h-3z" fill="#5d006b"/><path d="M561 0h4V267.3h-4z" fill="#540060"/><path d="M565 0h4V267.3h-4z" fill="#4b0055"/><path d="M569 0h3V267.3h-3z" fill="#41004b"/><path d="M572 0h4V267.3h-4z" fill="#380040"/><path d="M576 0h4V267.3h-4z" fill="#2f0035"/><path d="M580 0h3V267.3h-3z" fill="#25002b"/><path d="M583 0h4V267.3h-4z" fill="#1c0020"/><path d="M587 0h6V267.3h-6z" fill="#130015"/><path d="M593 0h2V267.3h-2z" fill="#09000b"/></g>
<g transform="translate(0,144.96)"><path d="M329 0h47V250.6h-47z" fill="#130015"/><path d="M376 0h2V250.6h-2z" fill="#1c0020"/><path d="M378 0h1V250.6h-1z" fill="#25002b"/><path d="M379 0h1V250.6h-1z" fill="#380040"/><path d="M380 0h1V250.6h-1z" fill="#540060"/><path d="M381 0h1V250.6h-1z" fill="#700080"/><path d="M382 0h1V250.6h-1z" fill="#7e008f"/><path d="M383 0h1V250.6h-1z" fill="#820093"/><path d="M384 0h1V250.6h-1z" fill="#860097"/><path d="M385 0h1V250.6h-1z" fill="#4d00a0"/><path d="M386 0h1V250.6h-1z" fill="#0000bd"/><path d="M387 0h1V250.6h-1z" fill="#00d"/><path d="M388 0h1V250.6h-1z" fill="#0070dd"/><path d="M389 0h1V250.6h-1z" fill="#008ddd"/><path d="M390 0h1V250.6h-1z" fill="#009adb"/><path d="M391 0h1V250.6h-1z" fill="#009bd7"/><path d="M392 0h1V250.6h-1z" fill="#009ecf"/><path d="M393 0h1V250.6h-1z" fill="#00a0c7"/><path d="M394 0h2V250.6h-2z" fill="#00a3bf"/><path d="M396 0h1V250.6h-1z" fill="#00a6b7"/><path d="M397 0h2V250.6h-2z" fill="#00a7b3"/><path d="M399 0h1V250.6h-1z" fill="#00a8af"/><path d="M400 0h2V250.6h-2z" fill="#00aaa8"/><path d="M402 0h3V250.6h-3z" fill="#00aaa5"/><path d="M405 0h1V250.6h-1z" fill="#00aaa8"/><path d="M406 0h2V250.6h-2z" fill="#00aaa5"/><path d="M408 0h4V250.6h-4z" fill="#00aaa0"/><path d="M412 0h3V250.6h-3z" fill="#00aa9d"/><path d="M415 0h3V250.6h-3z" fill="#00aaa5"/><path d="M418 0h6V250.6h-6z" fill="#00aaa3"/><path d="M424 0h4V250.6h-4z" fill="#00aaa0"/><path d="M428 0h2V250.6h-2z" fill="#00aaa5"/><path d="M430 0h2V250.6h-2z" fill="#00aaa3"/><path d="M432 0h1V250.6h-1z" fill="#00aaa0"/><path d="M433 0h1V250.6h-1z" fill="#00aa9d"/><path d="M434 0h2V250.6h-2z" fill="#00aa9b"/><path d="M436 0h1V250.6h-1z" fill="#00aa98"/><path d="M437 0h1V250.6h-1z" fill="#00aa93"/><path d="M438 0h1V250.6h-1z" fill="#00aa90"/><path d="M439 0h1V250.6h-1z" fill="#00aa8d"/><path d="M440 0h1V250.6h-1z" fill="#00aa8b"/><path d="M441 0h2V250.6h-2z" fill="#0a8"/><path d="M443 0h2V250.6h-2z" fill="#00a97d"/><path d="M445 0h1V250.6h-1z" fill="#00a668"/><path d="M446 0h1V250.6h-1z" fill="#00a55d"/><path d="M447 0h1V250.6h-1z" fill="#00a248"/><path d="M448 0h1V250.6h-1z" fill="#00a13d"/><path d="M449 0h1V250.6h-1z" fill="#009f33"/><path d="M450 0h1V250.6h-1z" fill="#009d1d"/><path d="M451 0h1V250.6h-1z" fill="#009b13"/><path d="M452 0h1V250.6h-1z" fill="#009a08"/><path d="M453 0h3V250.6h-3z" fill="#009a00"/><path d="M456 0h4V250.6h-4z" fill="#009a08"/><path d="M460 0h5V250.6h-5z" fill="#009b13"/><path d="M465 0h4V250.6h-4z" fill="#009a08"/><path d="M469 0h2V250.6h-2z" fill="#009b13"/><path d="M471 0h3V250.6h-3z" fill="#009e28"/><path d="M474 0h1V250.6h-1z" fill="#00a13d"/><path d="M475 0h1V250.6h-1z" fill="#00a248"/><path d="M476 0h2V250.6h-2z" fill="#00a55d"/><path d="M478 0h1V250.6h-1z" fill="#00a668"/><path d="M479 0h1V250.6h-1z" fill="#00a773"/><path d="M480 0h1V250.6h-1z" fill="#00aa8d"/><path d="M481 0h1V250.6h-1z" fill="#00aa90"/><path d="M482 0h1V250.6h-1z" fill="#00aa93"/><path d="M483 0h1V250.6h-1z" fill="#00aa95"/><path d="M484 0h1V250.6h-1z" fill="#00aa9b"/><path d="M485 0h1V250.6h-1z" fill="#00aa98"/><path d="M486 0h1V250.6h-1z" fill="#00aa9d"/><path d="M487 0h1V250.6h-1z" fill="#00aaa5"/><path d="M488 0h1V250.6h-1z" fill="#00aaab"/><path d="M489 0h1V250.6h-1z" fill="#00a2c3"/><path d="M490 0h1V250.6h-1z" fill="#009fcb"/><path d="M491 0h1V250.6h-1z" fill="#009ecf"/><path d="M492 0h1V250.6h-1z" fill="#009bd7"/><path d="M493 0h1V250.6h-1z" fill="#0095dd"/><path d="M494 0h1V250.6h-1z" fill="#008ddd"/><path d="M495 0h1V250.6h-1z" fill="#08d"/><path d="M496 0h1V250.6h-1z" fill="#0080dd"/><path d="M497 0h1V250.6h-1z" fill="#0078dd"/><path d="M498 0h1V250.6h-1z" fill="#005ddd"/><path d="M499 0h1V250.6h-1z" fill="#004bdd"/><path d="M500 0h1V250.6h-1z" fill="#0038dd"/><path d="M501 0h1V250.6h-1z" fill="#0025dd"/><path d="M502 0h2V250.6h-2z" fill="#0013dd"/><path d="M504 0h3V250.6h-3z" fill="#0009dd"/><path d="M507 0h2V250.6h-2z" fill="#00d"/><path d="M509 0h2V250.6h-2z" fill="#0000d9"/><path d="M511 0h2V250.6h-2z" fill="#0000d5"/><path d="M513 0h1V250.6h-1z" fill="#0000d1"/><path d="M514 0h1V250.6h-1z" fill="#0000cd"/><path d="M515 0h1V250.6h-1z" fill="#0000c9"/><path d="M516 0h2V250.6h-2z" fill="#0000c5"/><path d="M518 0h1V250.6h-1z" fill="#0000c1"/><path d="M519 0h1V250.6h-1z" fill="#0000bd"/><path d="M520 0h1V250.6h-1z" fill="#0000b5"/><path d="M521 0h2V250.6h-2z" fill="#0000b1"/><path d="M523 0h1V250.6h-1z" fill="#0000ad"/><path d="M524 0h1V250.6h-1z" fill="#0300aa"/><path d="M525 0h1V250.6h-1z" fill="#0d00a8"/><path d="M526 0h1V250.6h-1z" fill="#0098dd"/><path d="M527 0h2V250.6h-2z" fill="#009d1d"/><path d="M529 0h2V250.6h-2z" fill="#00d"/><path d="M531 0h2V250.6h-2z" fill="#0a8"/><path d="M533 0h4V250.6h-4z" fill="#00aaa3"/><path d="M537 0h2V250.6h-2z" fill="#00a773"/><path d="M539 0h2V250.6h-2z" fill="#0090dd"/><path d="M541 0h3V250.6h-3z" fill="#009f33"/><path d="M544 0h3V250.6h-3z" fill="#008add"/><path d="M547 0h2V250.6h-2z" fill="#00d"/><path d="M549 0h3V250.6h-3z" fill="#708"/><path d="M552 0h2V250.6h-2z" fill="#700080"/><path d="M554 0h4V250.6h-4z" fill="#670075"/><path d="M558 0h3V250.6h-3z" fill="#5d006b"/><path d="M561 0h4V250.6h-4z" fill="#540060"/><path d="M565 0h4V250.6h-4z" fill="#4b0055"/><path d="M569 0h3V250.6h-3z" fill="#41004b"/><path d="M572 0h4V250.6h-4z" fill="#380040"/><path d="M576 0h4V250.6h-4z" fill="#2f0035"/><path d="M580 0h3V250.6h-3z" fill="#25002b"/><path d="M583 0h4V250.6h-4z" fill="#1c0020"/><path d="M587 0h6V250.6h-6z" fill="#130015"/><path d="M593 0h2V250.6h-2z" fill="#09000b"/></g>
<g transform="translate(0,161.67)"><path d="M329 0h47V233.9h-47z" fill="#130015"/><path d="M376 0h2V233.9h-2z" fill="#1c0020"/><path d="M378 0h1V233.9h-1z" fill="#25002b"/><path d="M379 0h1V233.9h-1z" fill="#380040"/><path d="M380 0h1V233.9h-1z" fill="#540060"/><path d="M381 0h1V233.9h-1z" fill="#700080"/><path d="M382 0h1V233.9h-1z" fill="#7e008f"/><path d="M383 0h1V233.9h-1z" fill="#820093"/><path d="M384 0h1V233.9h-1z" fill="#860097"/><path d="M385 0h1V233.9h-1z" fill="#4d00a0"/><path d="M386 0h1V233.9h-1z" fill="#0000bd"/><path d="M387 0h1V233.9h-1z" fill="#00d"/><path d="M388 0h1V233.9h-1z" fill="#0070dd"/><path d="M389 0h1V233.9h-1z" fill="#008ddd"/><path d="M390 0h1V233.9h-1z" fill="#009adb"/><path d="M391 0h1V233.9h-1z" fill="#009cd3"/><path d="M392 0h1V233.9h-1z" fill="#009fcb"/><path d="M393 0h1V233.9h-1z" fill="#00a2c3"/><path d="M394 0h1V233.9h-1z" fill="#00a6b7"/><path d="M395 0h1V233.9h-1z" fill="#00a7b3"/><path d="M396 0h2V233.9h-2z" fill="#00a8af"/><path d="M398 0h1V233.9h-1z" fill="#00aaab"/><path d="M399 0h1V233.9h-1z" fill="#00aaa8"/><path d="M400 0h1V233.9h-1z" fill="#00aaa5"/><path d="M401 0h1V233.9h-1z" fill="#00aaa3"/><path d="M402 0h6V233.9h-6z" fill="#00aaa0"/><path d="M408 0h7V233.9h-7z" fill="#00aa98"/><path d="M415 0h9V233.9h-9z" fill="#00aa9d"/><path d="M424 0h4V233.9h-4z" fill="#00aa98"/><path d="M428 0h3V233.9h-3z" fill="#00aa9d"/><path d="M431 0h2V233.9h-2z" fill="#00aa9b"/><path d="M433 0h2V233.9h-2z" fill="#00aa95"/><path d="M435 0h2V233.9h-2z" fill="#00aa93"/><path d="M437 0h1V233.9h-1z" fill="#00aa8b"/><path d="M438 0h1V233.9h-1z" fill="#0a8"/><path d="M439 0h2V233.9h-2z" fill="#00a97d"/><path d="M441 0h2V233.9h-2z" fill="#00a773"/><path d="M443 0h1V233.9h-1z" fill="#00a668"/><path d="M444 0h1V233.9h-1z" fill="#00a55d"/><path d="M445 0h1V233.9h-1z" fill="#00a353"/><path d="M446 0h1V233.9h-1z" fill="#00a248"/><path d="M447 0h1V233.9h-1z" fill="#009f33"/><path d="M448 0h1V233.9h-1z" fill="#009e28"/><path d="M449 0h1V233.9h-1z" fill="#009b13"/><path d="M450 0h2V233.9h-2z" fill="#009a08"/><path d="M452 0h1V233.9h-1z" fill="#009a00"/><path d="M453 0h1V233.9h-1z" fill="#009c00"/><path d="M454 0h2V233.9h-2z" fill="#009f00"/><path d="M456 0h14V233.9h-14z" fill="#009a00"/><path d="M470 0h1V233.9h-1z" fill="#009a08"/><path d="M471 0h3V233.9h-3z" fill="#009b13"/><path d="M474 0h1V233.9h-1z" fill="#009d1d"/><path d="M475 0h1V233.9h-1z" fill="#009f33"/><path d="M476 0h1V233.9h-1z" fill="#00a13d"/><path d="M477 0h1V233.9h-1z" fill="#00a248"/><path d="M478 0h1V233.9h-1z" fill="#00a353"/><path d="M479 0h1V233.9h-1z" fill="#00a55d"/><path d="M480 0h1V233.9h-1z" fill="#0a8"/><path d="M481 0h1V233.9h-1z" fill="#00aa8b"/><path d="M482 0h2V233.9h-2z" fill="#00aa8d"/><path d="M484 0h2V233.9h-2z" fill="#00aa93"/><path d="M486 0h1V233.9h-1z" fill="#00aa98"/><path d="M487 0h1V233.9h-1z" fill="#00aa9d"/><path d="M488 0h1V233.9h-1z" fill="#00aaa5"/><path d="M489 0h1V233.9h-1z" fill="#00a6b7"/><path d="M490 0h1V233.9h-1z" fill="#00a0c7"/><path d="M491 0h1V233.9h-1z" fill="#009fcb"/><path d="M492 0h1V233.9h-1z" fill="#009bd7"/><path d="M493 0h1V233.9h-1z" fill="#0095dd"/><path d="M494 0h1V233.9h-1z" fill="#008ddd"/><path d="M495 0h1V233.9h-1z" fill="#08d"/><path d="M496 0h1V233.9h-1z" fill="#0080dd"/><path d="M497 0h1V233.9h-1z" fill="#0078dd"/><path d="M498 0h1V233.9h-1z" fill="#005ddd"/><path d="M499 0h1V233.9h-1z" fill="#004bdd"/><path d="M500 0h1V233.9h-1z" fill="#0038dd"/><path d="M501 0h1V233.9h-1z" fill="#0025dd"/><path d="M502 0h2V233.9h-2z" fill="#0013dd"/><path d="M504 0h3V233.9h-3z" fill="#0009dd"/><path d="M507 0h2V233.9h-2z" fill="#00d"/><path d="M509 0h2V233.9h-2z" fill="#0000d9"/><path d="M511 0h2V233.9h-2z" fill="#0000d5"/><path d="M513 0h1V233.9h-1z" fill="#0000d1"/><path d="M514 0h1V233.9h-1z" fill="#0000cd"/><path d="M515 0h1V233.9h-1z" fill="#0000c9"/><path d="M516 0h2V233.9h-2z" fill="#0000c5"/><path d="M518 0h1V233.9h-1z" fill="#0000c1"/><path d="M519 0h1V233.9h-1z" fill="#0000bd"/><path d="M520 0h1V233.9h-1z" fill="#0000b5"/><path d="M521 0h2V233.9h-2z" fill="#0000b1"/><path d="M523 0h1V233.9h-1z" fill="#0000ad"/><path d="M524 0h1V233.9h-1z" fill="#0300aa"/><path d="M525 0h1V233.9h-1z" fill="#0d00a8"/><path d="M526 0h1V233.9h-1z" fill="#0098dd"/><path d="M527 0h2V233.9h-2z" fill="#009d1d"/><path d="M529 0h2V233.9h-2z" fill="#00d"/><path d="M531 0h2V233.9h-2z" fill="#0a8"/><path d="M533 0h4V233.9h-4z" fill="#00aaa3"/><path d="M537 0h2V233.9h-2z" fill="#00a773"/><path d="M539 0h2V233.9h-2z" fill="#0090dd"/><path d="M541 0h3V233.9h-3z" fill="#009f33"/><path d="M544 0h3V233.9h-3z" fill="#008add"/><path d="M547 0h2V233.9h-2z" fill="#00d"/><path d="M549 0h3V233.9h-3z" fill="#708"/><path d="M552 0h2V233.9h-2z" fill="#700080"/><path d="M554 0h4V233.9h-4z" fill="#670075"/><path d="M558 0h3V233.9h-3z" fill="#5d006b"/><path d="M561 0h4V233.9h-4z" fill="#540060"/><path d="M565 0h4V233.9h-4z" fill="#4b0055"/><path d="M569 0h3V233.9h-3z" fill="#41004b"/><path d="M572 0h4V233.9h-4z" fill="#380040"/><path d="M576 0h4V233.9h-4z" fill="#2f0035"/><path d="M580 0h3V233.9h-3z" fill="#25002b"/><path d="M583 0h4V233.9h-4z" fill="#1c0020"/><path d="M587 0h6V233.9h-6z" fill="#130015"/><path d="M593 0h2V233.9h-2z" fill="#09000b"/></g>
<g transform="translate(0,178.38)"><path d="M329 0h47V217.2h-47z" fill="#130015"/><path d="M376 0h2V217.2h-2z" fill="#1c0020"/><path d="M378 0h1V217.2h-1z" fill="#25002b"/><path d="M379 0h1V217.2h-1z" fill="#380040"/><path d="M380 0h1V217.2h-1z" fill="#540060"/><path d="M381 0h1V217.2h-1z" fill="#700080"/><path d="M382 0h1V217.2h-1z" fill="#7e008f"/><path d="M383 0h1V217.2h-1z" fill="#820093"/><path d="M384 0h1V217.2h-1z" fill="#860097"/><path d="M385 0h1V217.2h-1z" fill="#4d00a0"/><path d="M386 0h1V217.2h-1z" fill="#0000bd"/><path d="M387 0h1V217.2h-1z" fill="#00d"/><path d="M388 0h1V217.2h-1z" fill="#0070dd"/><path d="M389 0h1V217.2h-1z" fill="#008ddd"/><path d="M390 0h1V217.2h-1z" fill="#009adb"/><path d="M391 0h1V217.2h-1z" fill="#009bd7"/><path d="M392 0h1V217.2h-1z" fill="#009ecf"/><path d="M393 0h1V217.2h-1z" fill="#00a0c7"/><path d="M394 0h2V217.2h-2z" fill="#00a3bf"/><path d="M396 0h1V217.2h-1z" fill="#00a6b7"/><path d="M397 0h2V217.2h-2z" fill="#00a7b3"/><path d="M399 0h1V217.2h-1z" fill="#00a8af"/><path d="M400 0h2V217.2h-2z" fill="#00aaa8"/><path d="M402 0h3V217.2h-3z" fill="#00aaa5"/><path d="M405 0h1V217.2h-1z" fill="#00aaa8"/><path d="M406 0h2V217.2h-2z" fill="#00aaa5"/><path d="M408 0h4V217.2h-4z" fill="#00aaa0"/><path d="M412 0h3V217.2h-3z" fill="#00aa9d"/><path d="M415 0h3V217.2h-3z" fill="#00aaa5"/><path d="M418 0h6V217.2h-6z" fill="#00aaa3"/><path d="M424 0h4V217.2h-4z" fill="#00aaa0"/><path d="M428 0h2V217.2h-2z" fill="#00aaa5"/><path d="M430 0h2V217.2h-2z" fill="#00aaa3"/><path d="M432 0h1V217.2h-1z" fill="#00aaa0"/><path d="M433 0h1V217.2h-1z" fill="#00aa9d"/><path d="M434 0h2V217.2h-2z" fill="#00aa9b"/><path d="M436 0h1V217.2h-1z" fill="#00aa98"/><path d="M437 0h1V217.2h-1z" fill="#00aa93"/><path d="M438 0h1V217.2h-1z" fill="#00aa90"/><path d="M439 0h1V217.2h-1z" fill="#00aa8d"/><path d="M440 0h1V217.2h-1z" fill="#00aa8b"/><path d="M441 0h2V217.2h-2z" fill="#0a8"/><path d="M443 0h2V217.2h-2z" fill="#00a97d"/><path d="M445 0h1V217.2h-1z" fill="#00a668"/><path d="M446 0h1V217.2h-1z" fill="#00a55d"/><path d="M447 0h1V217.2h-1z" fill="#00a248"/><path d="M448 0h1V217.2h-1z" fill="#00a13d"/><path d="M449 0h1V217.2h-1z" fill="#009f33"/><path d="M450 0h1V217.2h-1z" fill="#009d1d"/><path d="M451 0h1V217.2h-1z" fill="#009b13"/><path d="M452 0h1V217.2h-1z" fill="#009a08"/><path d="M453 0h3V217.2h-3z" fill="#009a00"/><path d="M456 0h4V217.2h-4z" fill="#009a08"/><path d="M460 0h5V217.2h-5z" fill="#009b13"/><path d="M465 0h4V217.2h-4z" fill="#009a08"/><path d="M469 0h2V217.2h-2z" fill="#009b13"/><path d="M471 0h3V217.2h-3z" fill="#009e28"/><path d="M474 0h1V217.2h-1z" fill="#00a13d"/><path d="M475 0h1V217.2h-1z" fill="#00a248"/><path d="M476 0h2V217.2h-2z" fill="#00a55d"/><path d="M478 0h1V217.2h-1z" fill="#00a668"/><path d="M479 0h1V217.2h-1z" fill="#00a773"/><path d="M480 0h1V217.2h-1z" fill="#00aa8d"/><path d="M481 0h1V217.2h-1z" fill="#00aa90"/><path d="M482 0h1V217.2h-1z" fill="#00aa93"/><path d="M483 0h1V217.2h-1z" fill="#00aa95"/><path d="M484 0h1V217.2h-1z" fill="#00aa9b"/><path d="M485 0h1V217.2h-1z" fill="#00aa98"/><path d="M486 0h1V217.2h-1z" fill="#00aa9d"/><path d="M487 0h1V217.2h-1z" fill="#00aaa5"/><path d="M488 0h1V217.2h-1z" fill="#00aaab"/><path d="M489 0h1V217.2h-1z" fill="#00a2c3"/><path d="M490 0h1V217.2h-1z" fill="#009fcb"/><path d="M491 0h1V217.2h-1z" fill="#009ecf"/><path d="M492 0h1V217.2h-1z" fill="#009bd7"/><path d="M493 0h1V217.2h-1z" fill="#0095dd"/><path d="M494 0h1V217.2h-1z" fill="#008ddd"/><path d="M495 0h1V217.2h-1z" fill="#08d"/><path d="M496 0h1V217.2h-1z" fill="#0080dd"/><path d="M497 0h1V217.2h-1z" fill="#0078dd"/><path d="M498 0h1V217.2h-1z" fill="#005ddd"/><path d="M499 0h1V217.2h-1z" fill="#004bdd"/><path d="M500 0h1V217.2h-1z" fill="#0038dd"/><path d="M501 0h1V217.2h-1z" fill="#0025dd"/><path d="M502 0h2V217.2h-2z" fill="#0013dd"/><path d="M504 0h3V217.2h-3z" fill="#0009dd"/><path d="M507 0h2V217.2h-2z" fill="#00d"/><path d="M509 0h2V217.2h-2z" fill="#0000d9"/><path d="M511 0h2V217.2h-2z" fill="#0000d5"/><path d="M513 0h1V217.2h-1z" fill="#0000d1"/><path d="M514 0h1V217.2h-1z" fill="#0000cd"/><path d="M515 0h1V217.2h-1z" fill="#0000c9"/><path d="M516 0h2V217.2h-2z" fill="#0000c5"/><path d="M518 0h1V217.2h-1z" fill="#0000c1"/><path d="M519 0h1V217.2h-1z" fill="#0000bd"/><path d="M520 0h1V217.2h-1z" fill="#0000b5"/><path d="M521 0h2V217.2h-2z" fill="#0000b1"/><path d="M523 0h1V217.2h-1z" fill="#0000ad"/><path d="M524 0h1V217.2h-1z" fill="#0300aa"/><path d="M525 0h1V217.2h-1z" fill="#0d00a8"/><path d="M526 0h1V217.2h-1z" fill="#0098dd"/><path d="M527 0h2V217.2h-2z" fill="#009d1d"/><path d="M529 0h2V217.2h-2z" fill="#00d"/><path d="M531 0h2V217.2h-2z" fill="#0a8"/><path d="M533 0h4V217.2h-4z" fill="#00aaa3"/><path d="M537 0h2V217.2h-2z" fill="#00a773"/><path d="M539 0h2V217.2h-2z" fill="#0090dd"/><path d="M541 0h3V217.2h-3z" fill="#009f33"/><path d="M544 0h3V217.2h-3z" fill="#008add"/><path d="M547 0h2V217.2h-2z" fill="#00d"/><path d="M549 0h3V217.2h-3z" fill="#708"/><path d="M552 0h2V217.2h-2z" fill="#700080"/><path d="M554 0h4V217.2h-4z" fill="#670075"/><path d="M558 0h3V217.2h-3z" fill="#5d006b"/><path d="M561 0h4V217.2h-4z" fill="#540060"/><path d="M565 0h4V217.2h-4z" fill="#4b0055"/><path d="M569 0h3V217.2h-3z" fill="#41004b"/><path d="M572 0h4V217.2h-4z" fill="#380040"/><path d="M576 0h4V217.2h-4z" fill="#2f0035"/><path d="M580 0h3V217.2h-3z" fill="#25002b"/><path d="M583 0h4V217.2h-4z" fill="#1c0020"/><path d="M587 0h6V217.2h-6z" fill="#130015"/><path d="M593 0h2V217.2h-2z" fill="#09000b"/></g>
<g transform="translate(0,195.09)"><path d="M329 0h47V200.5h-47z" fill="#130015"/><path d="M376 0h2V200.5h-2z" fill="#1c0020"/><path d="M378 0h1V200.5h-1z" fill="#25002b"/><path d="M379 0h1V200.5h-1z" fill="#380040"/><path d="M380 0h1V200.5h-1z" fill="#540060"/><path d="M381 0h1V200.5h-1z" fill="#700080"/><path d="M382 0h1V200.5h-1z" fill="#7e008f"/><path d="M383 0h1V200.5h-1z" fill="#820093"/><path d="M384 0h1V200.5h-1z" fill="#860097"/><path d="M385 0h1V200.5h-1z" fill="#4d00a0"/><path d="M386 0h1V200.5h-1z" fill="#0000bd"/><path d="M387 0h1V200.5h-1z" fill="#00d"/><path d="M388 0h1V200.5h-1z" fill="#0070dd"/><path d="M389 0h1V200.5h-1z" fill="#008ddd"/><path d="M390 0h1V200.5h-1z" fill="#009adb"/><path d="M391 0h1V200.5h-1z" fill="#009bd7"/><path d="M392 0h1V200.5h-1z" fill="#009ecf"/><path d="M393 0h1V200.5h-1z" fill="#00a0c7"/><path d="M394 0h2V200.5h-2z" fill="#00a3bf"/><path d="M396 0h1V200.5h-1z" fill="#00a6b7"/><path d="M397 0h2V200.5h-2z" fill="#00a7b3"/><path d="M399 0h1V200.5h-1z" fill="#00a8af"/><path d="M400 0h2V200.5h-2z" fill="#00aaa8"/><path d="M402 0h3V200.5h-3z" fill="#00aaa5"/><path d="M405 0h1V200.5h-1z" fill="#00aaa8"/><path d="M406 0h2V200.5h-2z" fill="#00aaa5"/><path d="M408 0h4V200.5h-4z" fill="#00aaa0"/><path d="M412 0h3V200.5h-3z" fill="#00aa9d"/><path d="M415 0h3V200.5h-3z" fill="#00aaa5"/><path d="M418 0h6V200.5h-6z" fill="#00aaa3"/><path d="M424 0h4V200.5h-4z" fill="#00aaa0"/><path d="M428 0h2V200.5h-2z" fill="#00aaa5"/><path d="M430 0h2V200.5h-2z" fill="#00aaa3"/><path d="M432 0h1V200.5h-1z" fill="#00aaa0"/><path d="M433 0h1V200.5h-1z" fill="#00aa9d"/><path d="M434 0h2V200.5h-2z" fill="#00aa9b"/><path d="M436 0h1V200.5h-1z" fill="#00aa98"/><path d="M437 0h1V200.5h-1z" fill="#00aa93"/><path d="M438 0h1V200.5h-1z" fill="#00aa90"/><path d="M439 0h1V200.5h-1z" fill="#00aa8d"/><path d="M440 0h1V200.5h-1z" fill="#00aa8b"/><path d="M441 0h2V200.5h-2z" fill="#0a8"/><path d="M443 0h2V200.5h-2z" fill="#00a97d"/><path d="M445 0h1V200.5h-1z" fill="#00a668"/><path d="M446 0h1V200.5h-1z" fill="#00a55d"/><path d="M447 0h1V200.5h-1z" fill="#00a248"/><path d="M448 0h1V200.5h-1z" fill="#00a13d"/><path d="M449 0h1V200.5h-1z" fill="#009f33"/><path d="M450 0h1V200.5h-1z" fill="#009d1d"/><path d="M451 0h1V200.5h-1z" fill="#009b13"/><path d="M452 0h1V200.5h-1z" fill="#009a08"/><path d="M453 0h3V200.5h-3z" fill="#009a00"/><path d="M456 0h4V200.5h-4z" fill="#009a08"/><path d="M460 0h5V200.5h-5z" fill="#009b13"/><path d="M465 0h4V200.5h-4z" fill="#009a08"/><path d="M469 0h2V200.5h-2z" fill="#009b13"/><path d="M471 0h3V200.5h-3z" fill="#009e28"/><path d="M474 0h1V200.5h-1z" fill="#00a13d"/><path d="M475 0h1V200.5h-1z" fill="#00a248"/><path d="M476 0h2V200.5h-2z" fill="#00a55d"/><path d="M478 0h1V200.5h-1z" fill="#00a668"/><path d="M479 0h1V200.5h-1z" fill="#00a773"/><path d="M480 0h1V200.5h-1z" fill="#00aa8d"/><path d="M481 0h1V200.5h-1z" fill="#00aa90"/><path d="M482 0h1V200.5h-1z" fill="#00aa93"/><path d="M483 0h1V200.5h-1z" fill="#00aa95"/><path d="M484 0h1V200.5h-1z" fill="#00aa9b"/><path d="M485 0h1V200.5h-1z" fill="#00aa98"/><path d="M486 0h1V200.5h-1z" fill="#00aa9d"/><path d="M487 0h1V200.5h-1z" fill="#00aaa5"/><path d="M488 0h1V200.5h-1z" fill="#00aaab"/><path d="M489 0h1V200.5h-1z" fill="#00a2c3"/><path d="M490 0h1V200.5h-1z" fill="#009fcb"/><path d="M491 0h1V200.5h-1z" fill="#009ecf"/><path d="M492 0h1V200.5h-1z" fill="#009bd7"/><path d="M493 0h1V200.5h-1z" fill="#0095dd"/><path d="M494 0h1V200.5h-1z" fill="#008ddd"/><path d="M495 0h1V200.5h-1z" fill="#08d"/><path d="M496 0h1V200.5h-1z" fill="#0080dd"/><path d="M497 0h1V200.5h-1z" fill="#0078dd"/><path d="M498 0h1V200.5h-1z" fill="#005ddd"/><path d="M499 0h1V200.5h-1z" fill="#004bdd"/><path d="M500 0h1V200.5h-1z" fill="#0038dd"/><path d="M501 0h1V200.5h-1z" fill="#0025dd"/><path d="M502 0h2V200.5h-2z" fill="#0013dd"/><path d="M504 0h3V200.5h-3z" fill="#0009dd"/><path d="M507 0h2V200.5h-2z" fill="#00d"/><path d="M509 0h2V200.5h-2z" fill="#0000d9"/><path d="M511 0h2V200.5h-2z" fill="#0000d5"/><path d="M513 0h1V200.5h-1z" fill="#0000d1"/><path d="M514 0h1V200.5h-1z" fill="#0000cd"/><path d="M515 0h1V200.5h-1z" fill="#0000c9"/><path d="M516 0h2V200.5h-2z" fill="#0000c5"/><path d="M518 0h1V200.5h-1z" fill="#0000c1"/><path d="M519 0h1V200.5h-1z" fill="#0000bd"/><path d="M520 0h1V200.5h-1z" fill="#0000b5"/><path d="M521 0h2V200.5h-2z" fill="#0000b1"/><path d="M523 0h1V200.5h-1z" fill="#0000ad"/><path d="M524 0h1V200.5h-1z" fill="#0300aa"/><path d="M525 0h1V200.5h-1z" fill="#0d00a8"/><path d="M526 0h1V200.5h-1z" fill="#0098dd"/><path d="M527 0h2V200.5h-2z" fill="#009d1d"/><path d="M529 0h2V200.5h-2z" fill="#00d"/><path d="M531 0h2V200.5h-2z" fill="#0a8"/><path d="M533 0h4V200.5h-4z" fill="#00aaa3"/><path d="M537 0h2V200.5h-2z" fill="#00a773"/><path d="M539 0h2V200.5h-2z" fill="#0090dd"/><path d="M541 0h3V200.5h-3z" fill="#009f33"/><path d="M544 0h3V200.5h-3z" fill="#008add"/><path d="M547 0h2V200.5h-2z" fill="#00d"/><path d="M549 0h1V200.5h-1z" fill="#79008a"/><path d="M550 0h3V200.5h-3z" fill="#708"/><path d="M553 0h3V200.5h-3z" fill="#700080"/><path d="M556 0h1V200.5h-1z" fill="#670075"/><path d="M557 0h2V200.5h-2z" fill="#0000d5"/><path d="M559 0h3V200.5h-3z" fill="#5d006b"/><path d="M562 0h4V200.5h-4z" fill="#540060"/><path d="M566 0h4V200.5h-4z" fill="#4b0055"/><path d="M570 0h3V200.5h-3z" fill="#41004b"/><path d="M573 0h4V200.5h-4z" fill="#380040"/><path d="M577 0h3V200.5h-3z" fill="#2f0035"/><path d="M580 0h4V200.5h-4z" fill="#25002b"/><path d="M584 0h3V200.5h-3z" fill="#1c0020"/><path d="M587 0h7V200.5h-7z" fill="#130015"/><path d="M594 0h1V200.5h-1z" fill="#09000b"/></g>
<g transform="translate(0,211.80)"><path d="M329 0h47V183.8h-47z" fill="#130015"/><path d="M376 0h2V183.8h-2z" fill="#1c0020"/><path d="M378 0h1V183.8h-1z" fill="#25002b"/><path d="M379 0h1V183.8h-1z" fill="#380040"/><path d="M380 0h1V183.8h-1z" fill="#540060"/><path d="M381 0h1V183.8h-1z" fill="#700080"/><path d="M382 0h1V183.8h-1z" fill="#7e008f"/><path d="M383 0h1V183.8h-1z" fill="#820093"/><path d="M384 0h1V183.8h-1z" fill="#860097"/><path d="M385 0h1V183.8h-1z" fill="#4d00a0"/><path d="M386 0h1V183.8h-1z" fill="#0000bd"/><path d="M387 0h1V183.8h-1z" fill="#00d"/><path d="M388 0h1V183.8h-1z" fill="#0070dd"/><path d="M389 0h1V183.8h-1z" fill="#008ddd"/><path d="M390 0h1V183.8h-1z" fill="#009adb"/><path d="M391 0h1V183.8h-1z" fill="#009bd7"/><path d="M392 0h1V183.8h-1z" fill="#009ecf"/><path d="M393 0h1V183.8h-1z" fill="#00a0c7"/><path d="M394 0h1V183.8h-1z" fill="#00a2c3"/><path d="M395 0h2V183.8h-2z" fill="#00a3bf"/><path d="M397 0h2V183.8h-2z" fill="#00a6b7"/><path d="M399 0h1V183.8h-1z" fill="#00a7b3"/><path d="M400 0h2V183.8h-2z" fill="#00aaab"/><path d="M402 0h1V183.8h-1z" fill="#00aaa8"/><path d="M403 0h1V183.8h-1z" fill="#00aaab"/><path d="M404 0h1V183.8h-1z" fill="#00aaa8"/><path d="M405 0h2V183.8h-2z" fill="#00aaab"/><path d="M407 0h1V183.8h-1z" fill="#00aaa8"/><path d="M408 0h4V183.8h-4z" fill="#00aaa3"/><path d="M412 0h3V183.8h-3z" fill="#00aaa0"/><path d="M415 0h9V183.8h-9z" fill="#00aaa8"/><path d="M424 0h4V183.8h-4z" fill="#00aaa3"/><path d="M428 0h2V183.8h-2z" fill="#00aaa8"/><path d="M430 0h2V183.8h-2z" fill="#00aaa5"/><path d="M432 0h1V183.8h-1z" fill="#00aaa3"/><path d="M433 0h1V183.8h-1z" fill="#00aaa0"/><path d="M434 0h2V183.8h-2z" fill="#00aa9d"/><path d="M436 0h1V183.8h-1z" fill="#00aa9b"/><path d="M437 0h1V183.8h-1z" fill="#00aa95"/><path d="M438 0h1V183.8h-1z" fill="#00aa93"/><path d="M439 0h1V183.8h-1z" fill="#00aa90"/><path d="M440 0h1V183.8h-1z" fill="#00aa8d"/><path d="M441 0h2V183.8h-2z" fill="#00aa8b"/><path d="M443 0h2V183.8h-2z" fill="#0a8"/><path d="M445 0h1V183.8h-1z" fill="#00a97d"/><path d="M446 0h1V183.8h-1z" fill="#00a668"/><path d="M447 0h1V183.8h-1z" fill="#00a55d"/><path d="M448 0h1V183.8h-1z" fill="#00a248"/><path d="M449 0h1V183.8h-1z" fill="#00a13d"/><path d="M450 0h1V183.8h-1z" fill="#009e28"/><path d="M451 0h1V183.8h-1z" fill="#009d1d"/><path d="M452 0h1V183.8h-1z" fill="#009b13"/><path d="M453 0h3V183.8h-3z" fill="#009a08"/><path d="M456 0h4V183.8h-4z" fill="#009b13"/><path d="M460 0h5V183.8h-5z" fill="#009d1d"/><path d="M465 0h5V183.8h-5z" fill="#009b13"/><path d="M470 0h1V183.8h-1z" fill="#009d1d"/><path d="M471 0h1V183.8h-1z" fill="#009e28"/><path d="M472 0h1V183.8h-1z" fill="#009f33"/><path d="M473 0h1V183.8h-1z" fill="#00a13d"/><path d="M474 0h1V183.8h-1z" fill="#00a248"/><path d="M475 0h1V183.8h-1z" fill="#00a353"/><path d="M476 0h1V183.8h-1z" fill="#00a668"/><path d="M477 0h1V183.8h-1z" fill="#00a773"/><path d="M478 0h1V183.8h-1z" fill="#00a97d"/><path d="M479 0h1V183.8h-1z" fill="#0a8"/><path d="M480 0h1V183.8h-1z" fill="#00aa90"/><path d="M481 0h1V183.8h-1z" fill="#00aa93"/><path d="M482 0h1V183.8h-1z" fill="#00aa95"/><path d="M483 0h1V183.8h-1z" fill="#00aa98"/><path d="M484 0h1V183.8h-1z" fill="#00aa9d"/><path d="M485 0h1V183.8h-1z" fill="#00aa9b"/><path d="M486 0h1V183.8h-1z" fill="#00aaa3"/><path d="M487 0h1V183.8h-1z" fill="#00aaa8"/><path d="M488 0h1V183.8h-1z" fill="#00a8af"/><path d="M489 0h1V183.8h-1z" fill="#00a2c3"/><path d="M490 0h1V183.8h-1z" fill="#009fcb"/><path d="M491 0h1V183.8h-1z" fill="#009ecf"/><path d="M492 0h1V183.8h-1z" fill="#009adb"/><path d="M493 0h1V183.8h-1z" fill="#0095dd"/><path d="M494 0h1V183.8h-1z" fill="#008ddd"/><path d="M495 0h1V183.8h-1z" fill="#08d"/><path d="M496 0h1V183.8h-1z" fill="#0080dd"/><path d="M497 0h1V183.8h-1z" fill="#0078dd"/><path d="M498 0h1V183.8h-1z" fill="#005ddd"/><path d="M499 0h1V183.8h-1z" fill="#004bdd"/><path d="M500 0h1V183.8h-1z" fill="#0038dd"/><path d="M501 0h1V183.8h-1z" fill="#0025dd"/><path d="M502 0h2V183.8h-2z" fill="#0013dd"/><path d="M504 0h3V183.8h-3z" fill="#0009dd"/><path d="M507 0h2V183.8h-2z" fill="#00d"/><path d="M509 0h2V183.8h-2z" fill="#0000d9"/><path d="M511 0h2V183.8h-2z" fill="#0000d5"/><path d="M513 0h1V183.8h-1z" fill="#0000d1"/><path d="M514 0h1V183.8h-1z" fill="#0000cd"/><path d="M515 0h1V183.8h-1z" fill="#0000c9"/><path d="M516 0h2V183.8h-2z" fill="#0000c5"/><path d="M518 0h1V183.8h-1z" fill="#0000c1"/><path d="M519 0h1V183.8h-1z" fill="#0000bd"/><path d="M520 0h1V183.8h-1z" fill="#0000b5"/><path d="M521 0h2V183.8h-2z" fill="#0000b1"/><path d="M523 0h1V183.8h-1z" fill="#0000ad"/><path d="M524 0h1V183.8h-1z" fill="#0300aa"/><path d="M525 0h1V183.8h-1z" fill="#0d00a8"/><path d="M526 0h1V183.8h-1z" fill="#0098dd"/><path d="M527 0h2V183.8h-2z" fill="#009d1d"/><path d="M529 0h2V183.8h-2z" fill="#00d"/><path d="M531 0h2V183.8h-2z" fill="#0a8"/><path d="M533 0h4V183.8h-4z" fill="#00aaa3"/><path d="M537 0h2V183.8h-2z" fill="#00a773"/><path d="M539 0h2V183.8h-2z" fill="#0090dd"/><path d="M541 0h3V183.8h-3z" fill="#009f33"/><path d="M544 0h3V183.8h-3z" fill="#008add"/><path d="M547 0h2V183.8h-2z" fill="#00d"/><path d="M549 0h2V183.8h-2z" fill="#708"/><path d="M551 0h3V183.8h-3z" fill="#700080"/><path d="M554 0h3V183.8h-3z" fill="#670075"/><path d="M557 0h3V183.8h-3z" fill="#5d006b"/><path d="M560 0h4V183.8h-4z" fill="#540060"/><path d="M564 0h4V183.8h-4z" fill="#4b0055"/><path d="M568 0h4V183.8h-4z" fill="#41004b"/><path d="M572 0h4V183.8h-4z" fill="#380040"/><path d="M576 0h3V183.8h-3z" fill="#2f0035"/><path d="M579 0h4V183.8h-4z" fill="#25002b"/><path d="M583 0h3V183.8h-3z" fill="#1c0020"/><path d="M586 0h7V183.8h-7z" fill="#130015"/><path d="M593 0h2V183.8h-2z" fill="#09000b"/></g>
<g transform="translate(0,228.51)"><path d="M329 0h47V167.1h-47z" fill="#130015"/><path d="M376 0h2V167.1h-2z" fill="#1c0020"/><path d="M378 0h1V167.1h-1z" fill="#25002b"/><path d="M379 0h1V167.1h-1z" fill="#380040"/><path d="M380 0h1V167.1h-1z" fill="#540060"/><path d="M381 0h1V167.1h-1z" fill="#700080"/><path d="M382 0h1V167.1h-1z" fill="#7e008f"/><path d="M383 0h1V167.1h-1z" fill="#820093"/><path d="M384 0h1V167.1h-1z" fill="#860097"/><path d="M385 0h1V167.1h-1z" fill="#4d00a0"/><path d="M386 0h1V167.1h-1z" fill="#0000bd"/><path d="M387 0h1V167.1h-1z" fill="#00d"/><path d="M388 0h1V167.1h-1z" fill="#0070dd"/><path d="M389 0h1V167.1h-1z" fill="#008ddd"/><path d="M390 0h1V167.1h-1z" fill="#009adb"/><path d="M391 0h1V167.1h-1z" fill="#009cd3"/><path d="M392 0h1V167.1h-1z" fill="#009fcb"/><path d="M393 0h1V167.1h-1z" fill="#00a3bf"/><path d="M394 0h1V167.1h-1z" fill="#00a7b3"/><path d="M395 0h1V167.1h-1z" fill="#00a8af"/><path d="M396 0h1V167.1h-1z" fill="#00aaab"/><path d="M397 0h1V167.1h-1z" fill="#00aaa8"/><path d="M398 0h1V167.1h-1z" fill="#00aaa5"/><path d="M399 0h1V167.1h-1z" fill="#00aaa3"/><path d="M400 0h1V167.1h-1z" fill="#00aaa0"/><path d="M401 0h1V167.1h-1z" fill="#00aa9d"/><path d="M402 0h2V167.1h-2z" fill="#00aa9b"/><path d="M404 0h1V167.1h-1z" fill="#00aa98"/><path d="M405 0h1V167.1h-1z" fill="#00aa9b"/><path d="M406 0h2V167.1h-2z" fill="#00aa98"/><path d="M408 0h4V167.1h-4z" fill="#00aa93"/><path d="M412 0h3V167.1h-3z" fill="#00aa90"/><path d="M415 0h3V167.1h-3z" fill="#00aa98"/><path d="M418 0h6V167.1h-6z" fill="#00aa95"/><path d="M424 0h4V167.1h-4z" fill="#00aa93"/><path d="M428 0h2V167.1h-2z" fill="#00aa98"/><path d="M430 0h2V167.1h-2z" fill="#00aa95"/><path d="M432 0h1V167.1h-1z" fill="#00aa93"/><path d="M433 0h1V167.1h-1z" fill="#00aa90"/><path d="M434 0h2V167.1h-2z" fill="#00aa8d"/><path d="M436 0h1V167.1h-1z" fill="#00aa8b"/><path d="M437 0h1V167.1h-1z" fill="#00a97d"/><path d="M438 0h1V167.1h-1z" fill="#00a773"/><path d="M439 0h1V167.1h-1z" fill="#00a668"/><path d="M440 0h1V167.1h-1z" fill="#00a55d"/><path d="M441 0h2V167.1h-2z" fill="#00a353"/><path d="M443 0h2V167.1h-2z" fill="#00a248"/><path d="M445 0h1V167.1h-1z" fill="#009f33"/><path d="M446 0h1V167.1h-1z" fill="#009e28"/><path d="M447 0h1V167.1h-1z" fill="#009b13"/><path d="M448 0h1V167.1h-1z" fill="#009a08"/><path d="M449 0h1V167.1h-1z" fill="#009a00"/><path d="M450 0h1V167.1h-1z" fill="#009f00"/><path d="M451 0h1V167.1h-1z" fill="#009c00"/><path d="M452 0h4V167.1h-4z" fill="#009f00"/><path d="M456 0h4V167.1h-4z" fill="#009c00"/><path d="M460 0h5V167.1h-5z" fill="#009a00"/><path d="M465 0h6V167.1h-6z" fill="#009c00"/><path d="M471 0h1V167.1h-1z" fill="#009a08"/><path d="M472 0h2V167.1h-2z" fill="#009c00"/><path d="M474 0h1V167.1h-1z" fill="#009a08"/><path d="M475 0h1V167.1h-1z" fill="#009b13"/><path d="M476 0h2V167.1h-2z" fill="#009e28"/><path d="M478 0h1V167.1h-1z" fill="#009f33"/><path d="M479 0h1V167.1h-1z" fill="#00a13d"/><path d="M480 0h1V167.1h-1z" fill="#00a668"/><path d="M481 0h1V167.1h-1z" fill="#00a773"/><path d="M482 0h1V167.1h-1z" fill="#00a97d"/><path d="M483 0h1V167.1h-1z" fill="#0a8"/><path d="M484 0h1V167.1h-1z" fill="#00aa8d"/><path d="M485 0h1V167.1h-1z" fill="#00aa8b"/><path d="M486 0h1V167.1h-1z" fill="#00aa90"/><path d="M487 0h1V167.1h-1z" fill="#00aa98"/><path d="M488 0h1V167.1h-1z" fill="#00aaa3"/><path d="M489 0h1V167.1h-1z" fill="#00a7b3"/><path d="M490 0h1V167.1h-1z" fill="#00a2c3"/><path d="M491 0h1V167.1h-1z" fill="#00a0c7"/><path d="M492 0h1V167.1h-1z" fill="#009bd7"/><path d="M493 0h1V167.1h-1z" fill="#0095dd"/><path d="M494 0h1V167.1h-1z" fill="#008ddd"/><path d="M495 0h1V167.1h-1z" fill="#08d"/><path d="M496 0h1V167.1h-1z" fill="#0080dd"/><path d="M497 0h1V167.1h-1z" fill="#0078dd"/><path d="M498 0h1V167.1h-1z" fill="#005ddd"/><path d="M499 0h1V167.1h-1z" fill="#004bdd"/><path d="M500 0h1V167.1h-1z" fill="#0038dd"/><path d="M501 0h1V167.1h-1z" fill="#0025dd"/><path d="M502 0h2V167.1h-2z" fill="#0013dd"/><path d="M504 0h3V167.1h-3z" fill="#0009dd"/><path d="M507 0h2V167.1h-2z" fill="#00d"/><path d="M509 0h2V167.1h-2z" fill="#0000d9"/><path d="M511 0h2V167.1h-2z" fill="#0000d5"/><path d="M513 0h1V167.1h-1z" fill="#0000d1"/><path d="M514 0h1V167.1h-1z" fill="#0000cd"/><path d="M515 0h1V167.1h-1z" fill="#0000c9"/><path d="M516 0h2V167.1h-2z" fill="#0000c5"/><path d="M518 0h1V167.1h-1z" fill="#0000c1"/><path d="M519 0h1V167.1h-1z" fill="#0000bd"/><path d="M520 0h1V167.1h-1z" fill="#0000b5"/><path d="M521 0h2V167.1h-2z" fill="#0000b1"/><path d="M523 0h1V167.1h-1z" fill="#0000ad"/><path d="M524 0h1V167.1h-1z" fill="#0300aa"/><path d="M525 0h1V167.1h-1z" fill="#0d00a8"/><path d="M526 0h1V167.1h-1z" fill="#0098dd"/><path d="M527 0h2V167.1h-2z" fill="#009d1d"/><path d="M529 0h2V167.1h-2z" fill="#00d"/><path d="M531 0h2V167.1h-2z" fill="#0a8"/><path d="M533 0h4V167.1h-4z" fill="#00aaa3"/><path d="M537 0h2V167.1h-2z" fill="#00a773"/><path d="M539 0h2V167.1h-2z" fill="#0090dd"/><path d="M541 0h3V167.1h-3z" fill="#009f33"/><path d="M544 0h3V167.1h-3z" fill="#008add"/><path d="M547 0h2V167.1h-2z" fill="#00d"/><path d="M549 0h2V167.1h-2z" fill="#708"/><path d="M551 0h3V167.1h-3z" fill="#700080"/><path d="M554 0h3V167.1h-3z" fill="#670075"/><path d="M557 0h3V167.1h-3z" fill="#5d006b"/><path d="M560 0h4V167.1h-4z" fill="#540060"/><path d="M564 0h4V167.1h-4z" fill="#4b0055"/><path d="M568 0h4V167.1h-4z" fill="#41004b"/><path d="M572 0h4V167.1h-4z" fill="#380040"/><path d="M576 0h3V167.1h-3z" fill="#2f0035"/><path d="M579 0h4V167.1h-4z" fill="#25002b"/><path d="M583 0h3V167.1h-3z" fill="#1c0020"/><path d="M586 0h7V167.1h-7z" fill="#130015"/><path d="M593 0h2V167.1h-2z" fill="#09000b"/></g>
<g transform="translate(0,245.22)"><path d="M329 0h47V150.4h-47z" fill="#130015"/><path d="M376 0h2V150.4h-2z" fill="#1c0020"/><path d="M378 0h1V150.4h-1z" fill="#25002b"/><path d="M379 0h1V150.4h-1z" fill="#380040"/><path d="M380 0h1V150.4h-1z" fill="#540060"/><path d="M381 0h1V150.4h-1z" fill="#700080"/><path d="M382 0h1V150.4h-1z" fill="#7e008f"/><path d="M383 0h1V150.4h-1z" fill="#820093"/><path d="M384 0h1V150.4h-1z" fill="#860097"/><path d="M385 0h1V150.4h-1z" fill="#4d00a0"/><path d="M386 0h1V150.4h-1z" fill="#0000bd"/><path d="M387 0h1V150.4h-1z" fill="#00d"/><path d="M388 0h1V150.4h-1z" fill="#0070dd"/><path d="M389 0h1V150.4h-1z" fill="#008ddd"/><path d="M390 0h1V150.4h-1z" fill="#009adb"/><path d="M391 0h1V150.4h-1z" fill="#009bd7"/><path d="M392 0h1V150.4h-1z" fill="#009cd3"/><path d="M393 0h1V150.4h-1z" fill="#009fcb"/><path d="M394 0h2V150.4h-2z" fill="#00a0c7"/><path d="M396 0h2V150.4h-2z" fill="#00a2c3"/><path d="M398 0h2V150.4h-2z" fill="#00a3bf"/><path d="M400 0h4V150.4h-4z" fill="#00a7b3"/><path d="M404 0h1V150.4h-1z" fill="#00a8af"/><path d="M405 0h3V150.4h-3z" fill="#00a7b3"/><path d="M408 0h4V150.4h-4z" fill="#00aaab"/><path d="M412 0h3V150.4h-3z" fill="#00aaa8"/><path d="M415 0h9V150.4h-9z" fill="#00a8af"/><path d="M424 0h4V150.4h-4z" fill="#00aaab"/><path d="M428 0h1V150.4h-1z" fill="#00a7b3"/><path d="M429 0h2V150.4h-2z" fill="#00a8af"/><path d="M431 0h2V150.4h-2z" fill="#00aaab"/><path d="M433 0h2V150.4h-2z" fill="#00aaa5"/><path d="M435 0h2V150.4h-2z" fill="#00aaa3"/><path d="M437 0h1V150.4h-1z" fill="#00aa9d"/><path d="M438 0h1V150.4h-1z" fill="#00aa9b"/><path d="M439 0h1V150.4h-1z" fill="#00aa98"/><path d="M440 0h1V150.4h-1z" fill="#00aa95"/><path d="M441 0h2V150.4h-2z" fill="#00aa93"/><path d="M443 0h1V150.4h-1z" fill="#00aa90"/><path d="M444 0h1V150.4h-1z" fill="#00aa8d"/><path d="M445 0h1V150.4h-1z" fill="#00aa8b"/><path d="M446 0h1V150.4h-1z" fill="#0a8"/><path d="M447 0h1V150.4h-1z" fill="#00a773"/><path d="M448 0h1V150.4h-1z" fill="#00a668"/><path d="M449 0h1V150.4h-1z" fill="#00a353"/><path d="M450 0h1V150.4h-1z" fill="#00a248"/><path d="M451 0h1V150.4h-1z" fill="#009f33"/><path d="M452 0h1V150.4h-1z" fill="#009e28"/><path d="M453 0h1V150.4h-1z" fill="#009d1d"/><path d="M454 0h2V150.4h-2z" fill="#009b13"/><path d="M456 0h9V150.4h-9z" fill="#009e28"/><path d="M465 0h4V150.4h-4z" fill="#009d1d"/><path d="M469 0h1V150.4h-1z" fill="#009e28"/><path d="M470 0h1V150.4h-1z" fill="#009f33"/><path d="M471 0h1V150.4h-1z" fill="#00a13d"/><path d="M472 0h2V150.4h-2z" fill="#00a353"/><path d="M474 0h1V150.4h-1z" fill="#00a668"/><path d="M475 0h1V150.4h-1z" fill="#00a773"/><path d="M476 0h1V150.4h-1z" fill="#00a97d"/><path d="M477 0h1V150.4h-1z" fill="#0a8"/><path d="M478 0h1V150.4h-1z" fill="#00aa8b"/><path d="M479 0h1V150.4h-1z" fill="#00aa8d"/><path d="M480 0h1V150.4h-1z" fill="#00aa98"/><path d="M481 0h1V150.4h-1z" fill="#00aa9b"/><path d="M482 0h1V150.4h-1z" fill="#00aa9d"/><path d="M483 0h1V150.4h-1z" fill="#00aaa0"/><path d="M484 0h2V150.4h-2z" fill="#00aaa3"/><path d="M486 0h1V150.4h-1z" fill="#00aaa8"/><path d="M487 0h1V150.4h-1z" fill="#00a8af"/><path d="M488 0h1V150.4h-1z" fill="#00a6b7"/><path d="M489 0h1V150.4h-1z" fill="#009fcb"/><path d="M490 0h1V150.4h-1z" fill="#009ecf"/><path d="M491 0h1V150.4h-1z" fill="#009cd3"/><path d="M492 0h1V150.4h-1z" fill="#009adb"/><path d="M493 0h1V150.4h-1z" fill="#0095dd"/><path d="M494 0h1V150.4h-1z" fill="#008ddd"/><path d="M495 0h1V150.4h-1z" fill="#08d"/><path d="M496 0h1V150.4h-1z" fill="#0080dd"/><path d="M497 0h1V150.4h-1z" fill="#0078dd"/><path d="M498 0h1V150.4h-1z" fill="#005ddd"/><path d="M499 0h1V150.4h-1z" fill="#004bdd"/><path d="M500 0h1V150.4h-1z" fill="#0038dd"/><path d="M501 0h1V150.4h-1z" fill="#0025dd"/><path d="M502 0h2V150.4h-2z" fill="#0013dd"/><path d="M504 0h3V150.4h-3z" fill="#0009dd"/><path d="M507 0h2V150.4h-2z" fill="#00d"/><path d="M509 0h2V150.4h-2z" fill="#0000d9"/><path d="M511 0h2V150.4h-2z" fill="#0000d5"/><path d="M513 0h1V150.4h-1z" fill="#0000d1"/><path d="M514 0h1V150.4h-1z" fill="#0000cd"/><path d="M515 0h1V150.4h-1z" fill="#0000c9"/><path d="M516 0h2V150.4h-2z" fill="#0000c5"/><path d="M518 0h1V150.4h-1z" fill="#0000c1"/><path d="M519 0h1V150.4h-1z" fill="#0000bd"/><path d="M520 0h1V150.4h-1z" fill="#0000b5"/><path d="M521 0h2V150.4h-2z" fill="#0000b1"/><path d="M523 0h1V150.4h-1z" fill="#0000ad"/><path d="M524 0h1V150.4h-1z" fill="#0300aa"/><path d="M525 0h1V150.4h-1z" fill="#0d00a8"/><path d="M526 0h1V150.4h-1z" fill="#0098dd"/><path d="M527 0h2V150.4h-2z" fill="#009d1d"/><path d="M529 0h2V150.4h-2z" fill="#00d"/><path d="M531 0h2V150.4h-2z" fill="#0a8"/><path d="M533 0h4V150.4h-4z" fill="#00aaa3"/><path d="M537 0h2V150.4h-2z" fill="#00a773"/><path d="M539 0h2V150.4h-2z" fill="#0090dd"/><path d="M541 0h3V150.4h-3z" fill="#009f33"/><path d="M544 0h3V150.4h-3z" fill="#008add"/><path d="M547 0h2V150.4h-2z" fill="#00d"/><path d="M549 0h2V150.4h-2z" fill="#700080"/><path d="M551 0h4V150.4h-4z" fill="#670075"/><path d="M555 0h2V150.4h-2z" fill="#5d006b"/><path d="M557 0h5V150.4h-5z" fill="#540060"/><path d="M562 0h4V150.4h-4z" fill="#4b0055"/><path d="M566 0h4V150.4h-4z" fill="#41004b"/><path d="M570 0h4V150.4h-4z" fill="#380040"/><path d="M574 0h4V150.4h-4z" fill="#2f0035"/><path d="M578 0h4V150.4h-4z" fill="#25002b"/><path d="M582 0h4V150.4h-4z" fill="#1c0020"/><path d="M586 0h6V150.4h-6z" fill="#130015"/><path d="M592 0h3V150.4h-3z" fill="#09000b"/></g>
<g transform="translate(0,261.93)"><path d="M329 0h47V133.7h-47z" fill="#130015"/><path d="M376 0h2V133.7h-2z" fill="#1c0020"/><path d="M378 0h1V133.7h-1z" fill="#25002b"/><path d="M379 0h1V133.7h-1z" fill="#380040"/><path d="M380 0h1V133.7h-1z" fill="#540060"/><path d="M381 0h1V133.7h-1z" fill="#700080"/><path d="M382 0h1V133.7h-1z" fill="#7e008f"/><path d="M383 0h1V133.7h-1z" fill="#820093"/><path d="M384 0h1V133.7h-1z" fill="#860097"/><path d="M385 0h1V133.7h-1z" fill="#4d00a0"/><path d="M386 0h1V133.7h-1z" fill="#0000bd"/><path d="M387 0h1V133.7h-1z" fill="#00d"/><path d="M388 0h1V133.7h-1z" fill="#0070dd"/><path d="M389 0h1V133.7h-1z" fill="#008ddd"/><path d="M390 0h1V133.7h-1z" fill="#009adb"/><path d="M391 0h1V133.7h-1z" fill="#009cd3"/><path d="M392 0h1V133.7h-1z" fill="#009fcb"/><path d="M393 0h1V133.7h-1z" fill="#00a3bf"/><path d="M394 0h2V133.7h-2z" fill="#00a7b3"/><path d="M396 0h2V133.7h-2z" fill="#00aaab"/><path d="M398 0h1V133.7h-1z" fill="#00aaa8"/><path d="M399 0h1V133.7h-1z" fill="#00aaa5"/><path d="M400 0h1V133.7h-1z" fill="#00aaa3"/><path d="M401 0h1V133.7h-1z" fill="#00aaa0"/><path d="M402 0h5V133.7h-5z" fill="#00aa9d"/><path d="M407 0h1V133.7h-1z" fill="#00aa9b"/><path d="M408 0h4V133.7h-4z" fill="#00aa95"/><path d="M412 0h3V133.7h-3z" fill="#00aa93"/><path d="M415 0h9V133.7h-9z" fill="#00aa9b"/><path d="M424 0h4V133.7h-4z" fill="#00aa95"/><path d="M428 0h2V133.7h-2z" fill="#00aa9b"/><path d="M430 0h2V133.7h-2z" fill="#00aa98"/><path d="M432 0h1V133.7h-1z" fill="#00aa95"/><path d="M433 0h1V133.7h-1z" fill="#00aa93"/><path d="M434 0h2V133.7h-2z" fill="#00aa90"/><path d="M436 0h1V133.7h-1z" fill="#00aa8d"/><path d="M437 0h1V133.7h-1z" fill="#0a8"/><path d="M438 0h1V133.7h-1z" fill="#00a97d"/><path d="M439 0h1V133.7h-1z" fill="#00a773"/><path d="M440 0h1V133.7h-1z" fill="#00a668"/><path d="M441 0h2V133.7h-2z" fill="#00a55d"/><path d="M443 0h2V133.7h-2z" fill="#00a353"/><path d="M445 0h1V133.7h-1z" fill="#00a248"/><path d="M446 0h1V133.7h-1z" fill="#009f33"/><path d="M447 0h1V133.7h-1z" fill="#009e28"/><path d="M448 0h1V133.7h-1z" fill="#009b13"/><path d="M449 0h1V133.7h-1z" fill="#009a08"/><path d="M450 0h1V133.7h-1z" fill="#009c00"/><path d="M451 0h1V133.7h-1z" fill="#009a00"/><path d="M452 0h1V133.7h-1z" fill="#009c00"/><path d="M453 0h3V133.7h-3z" fill="#009f00"/><path d="M456 0h4V133.7h-4z" fill="#009c00"/><path d="M460 0h5V133.7h-5z" fill="#009a00"/><path d="M465 0h5V133.7h-5z" fill="#009c00"/><path d="M470 0h1V133.7h-1z" fill="#009a00"/><path d="M471 0h1V133.7h-1z" fill="#009a08"/><path d="M472 0h1V133.7h-1z" fill="#009a00"/><path d="M473 0h1V133.7h-1z" fill="#009a08"/><path d="M474 0h1V133.7h-1z" fill="#009b13"/><path d="M475 0h1V133.7h-1z" fill="#009d1d"/><path d="M476 0h1V133.7h-1z" fill="#009f33"/><path d="M477 0h1V133.7h-1z" fill="#00a13d"/><path d="M478 0h1V133.7h-1z" fill="#00a248"/><path d="M479 0h1V133.7h-1z" fill="#00a353"/><path d="M480 0h1V133.7h-1z" fill="#00a773"/><path d="M481 0h1V133.7h-1z" fill="#00a97d"/><path d="M482 0h1V133.7h-1z" fill="#0a8"/><path d="M483 0h1V133.7h-1z" fill="#00aa8b"/><path d="M484 0h1V133.7h-1z" fill="#00aa90"/><path d="M485 0h1V133.7h-1z" fill="#00aa8d"/><path d="M486 0h1V133.7h-1z" fill="#00aa95"/><path d="M487 0h1V133.7h-1z" fill="#00aa9b"/><path d="M488 0h1V133.7h-1z" fill="#00aaa3"/><path d="M489 0h1V133.7h-1z" fill="#00a7b3"/><path d="M490 0h1V133.7h-1z" fill="#00a2c3"/><path d="M491 0h1V133.7h-1z" fill="#009fcb"/><path d="M492 0h1V133.7h-1z" fill="#009bd7"/><path d="M493 0h1V133.7h-1z" fill="#0095dd"/><path d="M494 0h1V133.7h-1z" fill="#008ddd"/><path d="M495 0h1V133.7h-1z" fill="#08d"/><path d="M496 0h1V133.7h-1z" fill="#0080dd"/><path d="M497 0h1V133.7h-1z" fill="#0078dd"/><path d="M498 0h1V133.7h-1z" fill="#005ddd"/><path d="M499 0h1V133.7h-1z" fill="#004bdd"/><path d="M500 0h1V133.7h-1z" fill="#0038dd"/><path d="M501 0h1V133.7h-1z" fill="#0025dd"/><path d="M502 0h2V133.7h-2z" fill="#0013dd"/><path d="M504 0h3V133.7h-3z" fill="#0009dd"/><path d="M507 0h2V133.7h-2z" fill="#00d"/><path d="M509 0h2V133.7h-2z" fill="#0000d9"/><path d="M511 0h2V133.7h-2z" fill="#0000d5"/><path d="M513 0h1V133.7h-1z" fill="#0000d1"/><path d="M514 0h1V133.7h-1z" fill="#0000cd"/><path d="M515 0h1V133.7h-1z" fill="#0000c9"/><path d="M516 0h2V133.7h-2z" fill="#0000c5"/><path d="M518 0h1V133.7h-1z" fill="#0000c1"/><path d="M519 0h1V133.7h-1z" fill="#0000bd"/><path d="M520 0h1V133.7h-1z" fill="#0000b5"/><path d="M521 0h2V133.7h-2z" fill="#0000b1"/><path d="M523 0h1V133.7h-1z" fill="#0000ad"/><path d="M524 0h1V133.7h-1z" fill="#0300aa"/><path d="M525 0h1V133.7h-1z" fill="#0d00a8"/><path d="M526 0h1V133.7h-1z" fill="#0098dd"/><path d="M527 0h2V133.7h-2z" fill="#009d1d"/><path d="M529 0h2V133.7h-2z" fill="#00d"/><path d="M531 0h2V133.7h-2z" fill="#0a8"/><path d="M533 0h4V133.7h-4z" fill="#00aaa3"/><path d="M537 0h2V133.7h-2z" fill="#00a773"/><path d="M539 0h2V133.7h-2z" fill="#0090dd"/><path d="M541 0h3V133.7h-3z" fill="#009f33"/><path d="M544 0h3V133.7h-3z" fill="#008add"/><path d="M547 0h2V133.7h-2z" fill="#00d"/><path d="M549 0h1V133.7h-1z" fill="#79008a"/><path d="M550 0h3V133.7h-3z" fill="#708"/><path d="M553 0h3V133.7h-3z" fill="#700080"/><path d="M556 0h3V133.7h-3z" fill="#670075"/><path d="M559 0h3V133.7h-3z" fill="#5d006b"/><path d="M562 0h4V133.7h-4z" fill="#540060"/><path d="M566 0h4V133.7h-4z" fill="#4b0055"/><path d="M570 0h3V133.7h-3z" fill="#41004b"/><path d="M573 0h4V133.7h-4z" fill="#380040"/><path d="M577 0h3V133.7h-3z" fill="#2f0035"/><path d="M580 0h4V133.7h-4z" fill="#25002b"/><path d="M584 0h3V133.7h-3z" fill="#1c0020"/><path d="M587 0h7V133.7h-7z" fill="#130015"/><path d="M594 0h1V133.7h-1z" fill="#09000b"/></g>
<g transform="translate(0,278.64)"><path d="M329 0h47V117.0h-47z" fill="#130015"/><path d="M376 0h2V117.0h-2z" fill="#1c0020"/><path d="M378 0h1V117.0h-1z" fill="#25002b"/><path d="M379 0h1V117.0h-1z" fill="#380040"/><path d="M380 0h1V117.0h-1z" fill="#540060"/><path d="M381 0h1V117.0h-1z" fill="#700080"/><path d="M382 0h1V117.0h-1z" fill="#7e008f"/><path d="M383 0h1V117.0h-1z" fill="#820093"/><path d="M384 0h1V117.0h-1z" fill="#860097"/><path d="M385 0h1V117.0h-1z" fill="#4d00a0"/><path d="M386 0h1V117.0h-1z" fill="#0000bd"/><path d="M387 0h1V117.0h-1z" fill="#00d"/><path d="M388 0h1V117.0h-1z" fill="#0070dd"/><path d="M389 0h1V117.0h-1z" fill="#008ddd"/><path d="M390 0h1V117.0h-1z" fill="#009adb"/><path d="M391 0h1V117.0h-1z" fill="#009cd3"/><path d="M392 0h1V117.0h-1z" fill="#00a0c7"/><path d="M393 0h1V117.0h-1z" fill="#00a6b7"/><path d="M394 0h1V117.0h-1z" fill="#00a8af"/><path d="M395 0h1V117.0h-1z" fill="#00aaab"/><path d="M396 0h1V117.0h-1z" fill="#00aaa8"/><path d="M397 0h1V117.0h-1z" fill="#00aaa5"/><path d="M398 0h2V117.0h-2z" fill="#00aaa3"/><path d="M400 0h1V117.0h-1z" fill="#00aa9d"/><path d="M401 0h1V117.0h-1z" fill="#00aa9b"/><path d="M402 0h2V117.0h-2z" fill="#00aa98"/><path d="M404 0h1V117.0h-1z" fill="#00aa95"/><path d="M405 0h1V117.0h-1z" fill="#00aa98"/><path d="M406 0h2V117.0h-2z" fill="#00aa95"/><path d="M408 0h4V117.0h-4z" fill="#00aa90"/><path d="M412 0h3V117.0h-3z" fill="#00aa8d"/><path d="M415 0h9V117.0h-9z" fill="#00aa93"/><path d="M424 0h4V117.0h-4z" fill="#00aa90"/><path d="M428 0h1V117.0h-1z" fill="#00aa95"/><path d="M429 0h2V117.0h-2z" fill="#00aa93"/><path d="M431 0h2V117.0h-2z" fill="#00aa90"/><path d="M433 0h2V117.0h-2z" fill="#00aa8b"/><path d="M435 0h2V117.0h-2z" fill="#0a8"/><path d="M437 0h1V117.0h-1z" fill="#00a773"/><path d="M438 0h1V117.0h-1z" fill="#00a668"/><path d="M439 0h1V117.0h-1z" fill="#00a55d"/><path d="M440 0h1V117.0h-1z" fill="#00a353"/><path d="M441 0h2V117.0h-2z" fill="#00a248"/><path d="M443 0h1V117.0h-1z" fill="#00a13d"/><path d="M444 0h1V117.0h-1z" fill="#009f33"/><path d="M445 0h1V117.0h-1z" fill="#009e28"/><path d="M446 0h1V117.0h-1z" fill="#009d1d"/><path d="M447 0h1V117.0h-1z" fill="#009a08"/><path d="M448 0h1V117.0h-1z" fill="#009a00"/><path d="M449 0h1V117.0h-1z" fill="#009f00"/><path d="M450 0h1V117.0h-1z" fill="#00a200"/><path d="M451 0h1V117.0h-1z" fill="#009c00"/><path d="M452 0h1V117.0h-1z" fill="#009f00"/><path d="M453 0h1V117.0h-1z" fill="#00a200"/><path d="M454 0h2V117.0h-2z" fill="#00a400"/><path d="M456 0h9V117.0h-9z" fill="#009f00"/><path d="M465 0h4V117.0h-4z" fill="#00a200"/><path d="M469 0h1V117.0h-1z" fill="#009f00"/><path d="M470 0h1V117.0h-1z" fill="#009c00"/><path d="M471 0h1V117.0h-1z" fill="#009a00"/><path d="M472 0h2V117.0h-2z" fill="#009f00"/><path d="M474 0h1V117.0h-1z" fill="#009a00"/><path d="M475 0h1V117.0h-1z" fill="#009a08"/><path d="M476 0h1V117.0h-1z" fill="#009b13"/><path d="M477 0h1V117.0h-1z" fill="#009d1d"/><path d="M478 0h1V117.0h-1z" fill="#009e28"/><path d="M479 0h1V117.0h-1z" fill="#009f33"/><path d="M480 0h1V117.0h-1z" fill="#00a55d"/><path d="M481 0h1V117.0h-1z" fill="#00a668"/><path d="M482 0h1V117.0h-1z" fill="#00a773"/><path d="M483 0h1V117.0h-1z" fill="#00a97d"/><path d="M484 0h2V117.0h-2z" fill="#0a8"/><path d="M486 0h1V117.0h-1z" fill="#00aa8d"/><path d="M487 0h1V117.0h-1z" fill="#00aa95"/><path d="M488 0h1V117.0h-1z" fill="#00aaa0"/><path d="M489 0h1V117.0h-1z" fill="#00a8af"/><path d="M490 0h1V117.0h-1z" fill="#00a3bf"/><path d="M491 0h1V117.0h-1z" fill="#00a0c7"/><path d="M492 0h1V117.0h-1z" fill="#009bd7"/><path d="M493 0h1V117.0h-1z" fill="#0095dd"/><path d="M494 0h1V117.0h-1z" fill="#008ddd"/><path d="M495 0h1V117.0h-1z" fill="#08d"/><path d="M496 0h1V117.0h-1z" fill="#0080dd"/><path d="M497 0h1V117.0h-1z" fill="#0078dd"/><path d="M498 0h1V117.0h-1z" fill="#005ddd"/><path d="M499 0h1V117.0h-1z" fill="#004bdd"/><path d="M500 0h1V117.0h-1z" fill="#0038dd"/><path d="M501 0h1V117.0h-1z" fill="#0025dd"/><path d="M502 0h2V117.0h-2z" fill="#0013dd"/><path d="M504 0h3V117.0h-3z" fill="#0009dd"/><path d="M507 0h2V117.0h-2z" fill="#00d"/><path d="M509 0h2V117.0h-2z" fill="#0000d9"/><path d="M511 0h2V117.0h-2z" fill="#0000d5"/><path d="M513 0h1V117.0h-1z" fill="#0000d1"/><path d="M514 0h1V117.0h-1z" fill="#0000cd"/><path d="M515 0h1V117.0h-1z" fill="#0000c9"/><path d="M516 0h2V117.0h-2z" fill="#0000c5"/><path d="M518 0h1V117.0h-1z" fill="#0000c1"/><path d="M519 0h1V117.0h-1z" fill="#0000bd"/><path d="M520 0h1V117.0h-1z" fill="#0000b5"/><path d="M521 0h2V117.0h-2z" fill="#0000b1"/><path d="M523 0h1V117.0h-1z" fill="#0000ad"/><path d="M524 0h1V117.0h-1z" fill="#0300aa"/><path d="M525 0h1V117.0h-1z" fill="#0d00a8"/><path d="M526 0h1V117.0h-1z" fill="#0098dd"/><path d="M527 0h2V117.0h-2z" fill="#009d1d"/><path d="M529 0h2V117.0h-2z" fill="#00d"/><path d="M531 0h2V117.0h-2z" fill="#0a8"/><path d="M533 0h4V117.0h-4z" fill="#00aaa3"/><path d="M537 0h2V117.0h-2z" fill="#00a773"/><path d="M539 0h2V117.0h-2z" fill="#0090dd"/><path d="M541 0h3V117.0h-3z" fill="#009f33"/><path d="M544 0h3V117.0h-3z" fill="#008add"/><path d="M547 0h2V117.0h-2z" fill="#00d"/><path d="M549 0h2V117.0h-2z" fill="#7a008b"/><path d="M551 0h3V117.0h-3z" fill="#79008a"/><path d="M554 0h3V117.0h-3z" fill="#708"/><path d="M557 0h3V117.0h-3z" fill="#700080"/><path d="M560 0h3V117.0h-3z" fill="#670075"/><path d="M563 0h3V117.0h-3z" fill="#5d006b"/><path d="M566 0h3V117.0h-3z" fill="#540060"/><path d="M569 0h3V117.0h-3z" fill="#4b0055"/><path d="M572 0h4V117.0h-4z" fill="#41004b"/><path d="M576 0h3V117.0h-3z" fill="#380040"/><path d="M579 0h3V117.0h-3z" fill="#2f0035"/><path d="M582 0h3V117.0h-3z" fill="#25002b"/><path d="M585 0h4V117.0h-4z" fill="#1c0020"/><path d="M589 0h6V117.0h-6z" fill="#130015"/></g>
<g transform="translate(0,295.35)"><path d="M329 0h47V100.3h-47z" fill="#130015"/><path d="M376 0h2V100.3h-2z" fill="#1c0020"/><path d="M378 0h1V100.3h-1z" fill="#25002b"/><path d="M379 0h1V100.3h-1z" fill="#380040"/><path d="M380 0h1V100.3h-1z" fill="#540060"/><path d="M381 0h1V100.3h-1z" fill="#700080"/><path d="M382 0h1V100.3h-1z" fill="#7e008f"/><path d="M383 0h1V100.3h-1z" fill="#820093"/><path d="M384 0h1V100.3h-1z" fill="#860097"/><path d="M385 0h1V100.3h-1z" fill="#4d00a0"/><path d="M386 0h1V100.3h-1z" fill="#0000bd"/><path d="M387 0h1V100.3h-1z" fill="#00d"/><path d="M388 0h1V100.3h-1z" fill="#0070dd"/><path d="M389 0h1V100.3h-1z" fill="#008ddd"/><path d="M390 0h1V100.3h-1z" fill="#0098dd"/><path d="M391 0h1V100.3h-1z" fill="#009adb"/><path d="M392 0h1V100.3h-1z" fill="#009bd7"/><path d="M393 0h3V100.3h-3z" fill="#009cd3"/><path d="M396 0h3V100.3h-3z" fill="#009ecf"/><path d="M399 0h2V100.3h-2z" fill="#009fcb"/><path d="M401 0h4V100.3h-4z" fill="#00a0c7"/><path d="M405 0h3V100.3h-3z" fill="#009fcb"/><path d="M408 0h4V100.3h-4z" fill="#00a2c3"/><path d="M412 0h3V100.3h-3z" fill="#00a3bf"/><path d="M415 0h9V100.3h-9z" fill="#00a0c7"/><path d="M424 0h4V100.3h-4z" fill="#00a2c3"/><path d="M428 0h1V100.3h-1z" fill="#009fcb"/><path d="M429 0h2V100.3h-2z" fill="#00a0c7"/><path d="M431 0h2V100.3h-2z" fill="#00a2c3"/><path d="M433 0h2V100.3h-2z" fill="#00a6b7"/><path d="M435 0h2V100.3h-2z" fill="#00a7b3"/><path d="M437 0h1V100.3h-1z" fill="#00aaab"/><path d="M438 0h1V100.3h-1z" fill="#00aaa8"/><path d="M439 0h1V100.3h-1z" fill="#00aaa5"/><path d="M440 0h1V100.3h-1z" fill="#00aaa3"/><path d="M441 0h2V100.3h-2z" fill="#00aaa0"/><path d="M443 0h1V100.3h-1z" fill="#00aa9d"/><path d="M444 0h1V100.3h-1z" fill="#00aa9b"/><path d="M445 0h1V100.3h-1z" fill="#00aa98"/><path d="M446 0h1V100.3h-1z" fill="#00aa95"/><path d="M447 0h1V100.3h-1z" fill="#00aa90"/><path d="M448 0h1V100.3h-1z" fill="#00aa8d"/><path d="M449 0h1V100.3h-1z" fill="#0a8"/><path d="M450 0h1V100.3h-1z" fill="#00a97d"/><path d="M451 0h1V100.3h-1z" fill="#00a353"/><path d="M452 0h1V100.3h-1z" fill="#00a248"/><path d="M453 0h1V100.3h-1z" fill="#00a13d"/><path d="M454 0h2V100.3h-2z" fill="#009f33"/><path d="M456 0h9V100.3h-9z" fill="#00a248"/><path d="M465 0h4V100.3h-4z" fill="#00a13d"/><path d="M469 0h1V100.3h-1z" fill="#00a248"/><path d="M470 0h1V100.3h-1z" fill="#00a353"/><path d="M471 0h1V100.3h-1z" fill="#00a55d"/><path d="M472 0h2V100.3h-2z" fill="#0a8"/><path d="M474 0h1V100.3h-1z" fill="#00aa8d"/><path d="M475 0h1V100.3h-1z" fill="#00aa90"/><path d="M476 0h1V100.3h-1z" fill="#00aa93"/><path d="M477 0h1V100.3h-1z" fill="#00aa95"/><path d="M478 0h1V100.3h-1z" fill="#00aa98"/><path d="M479 0h1V100.3h-1z" fill="#00aa9b"/><path d="M480 0h1V100.3h-1z" fill="#00aaa5"/><path d="M481 0h1V100.3h-1z" fill="#00aaa8"/><path d="M482 0h1V100.3h-1z" fill="#00aaab"/><path d="M483 0h1V100.3h-1z" fill="#00a8af"/><path d="M484 0h2V100.3h-2z" fill="#00a7b3"/><path d="M486 0h1V100.3h-1z" fill="#00a3bf"/><path d="M487 0h1V100.3h-1z" fill="#00a0c7"/><path d="M488 0h1V100.3h-1z" fill="#009fcb"/><path d="M489 0h1V100.3h-1z" fill="#009cd3"/><path d="M490 0h2V100.3h-2z" fill="#009bd7"/><path d="M492 0h1V100.3h-1z" fill="#009adb"/><path d="M493 0h1V100.3h-1z" fill="#0095dd"/><path d="M494 0h1V100.3h-1z" fill="#008ddd"/><path d="M495 0h1V100.3h-1z" fill="#08d"/><path d="M496 0h1V100.3h-1z" fill="#0080dd"/><path d="M497 0h1V100.3h-1z" fill="#0078dd"/><path d="M498 0h1V100.3h-1z" fill="#005ddd"/><path d="M499 0h1V100.3h-1z" fill="#004bdd"/><path d="M500 0h1V100.3h-1z" fill="#0038dd"/><path d="M501 0h1V100.3h-1z" fill="#0025dd"/><path d="M502 0h2V100.3h-2z" fill="#0013dd"/><path d="M504 0h3V100.3h-3z" fill="#0009dd"/><path d="M507 0h2V100.3h-2z" fill="#00d"/><path d="M509 0h2V100.3h-2z" fill="#0000d9"/><path d="M511 0h2V100.3h-2z" fill="#0000d5"/><path d="M513 0h1V100.3h-1z" fill="#0000d1"/><path d="M514 0h1V100.3h-1z" fill="#0000cd"/><path d="M515 0h1V100.3h-1z" fill="#0000c9"/><path d="M516 0h2V100.3h-2z" fill="#0000c5"/><path d="M518 0h1V100.3h-1z" fill="#0000c1"/><path d="M519 0h1V100.3h-1z" fill="#0000bd"/><path d="M520 0h1V100.3h-1z" fill="#0000b5"/><path d="M521 0h2V100.3h-2z" fill="#0000b1"/><path d="M523 0h1V100.3h-1z" fill="#0000ad"/><path d="M524 0h1V100.3h-1z" fill="#0300aa"/><path d="M525 0h1V100.3h-1z" fill="#0d00a8"/><path d="M526 0h1V100.3h-1z" fill="#0098dd"/><path d="M527 0h2V100.3h-2z" fill="#009d1d"/><path d="M529 0h2V100.3h-2z" fill="#00d"/><path d="M531 0h2V100.3h-2z" fill="#0a8"/><path d="M533 0h4V100.3h-4z" fill="#00aaa3"/><path d="M537 0h2V100.3h-2z" fill="#00a773"/><path d="M539 0h2V100.3h-2z" fill="#0090dd"/><path d="M541 0h3V100.3h-3z" fill="#009f33"/><path d="M544 0h3V100.3h-3z" fill="#008add"/><path d="M547 0h2V100.3h-2z" fill="#00d"/><path d="M549 0h3V100.3h-3z" fill="#670075"/><path d="M552 0h2V100.3h-2z" fill="#5d006b"/><path d="M554 0h4V100.3h-4z" fill="#540060"/><path d="M558 0h5V100.3h-5z" fill="#4b0055"/><path d="M563 0h5V100.3h-5z" fill="#41004b"/><path d="M568 0h4V100.3h-4z" fill="#380040"/><path d="M572 0h5V100.3h-5z" fill="#2f0035"/><path d="M577 0h4V100.3h-4z" fill="#25002b"/><path d="M581 0h4V100.3h-4z" fill="#1c0020"/><path d="M585 0h6V100.3h-6z" fill="#130015"/><path d="M591 0h4V100.3h-4z" fill="#09000b"/></g>
<g transform="translate(0,312.05)"><path d="M329 0h47V83.5h-47z" fill="#130015"/><path d="M376 0h2V83.5h-2z" fill="#1c0020"/><path d="M378 0h1V83.5h-1z" fill="#25002b"/><path d="M379 0h1V83.5h-1z" fill="#380040"/><path d="M380 0h1V83.5h-1z" fill="#540060"/><path d="M381 0h1V83.5h-1z" fill="#700080"/><path d="M382 0h1V83.5h-1z" fill="#7e008f"/><path d="M383 0h1V83.5h-1z" fill="#820093"/><path d="M384 0h1V83.5h-1z" fill="#860097"/><path d="M385 0h1V83.5h-1z" fill="#4d00a0"/><path d="M386 0h1V83.5h-1z" fill="#0000bd"/><path d="M387 0h1V83.5h-1z" fill="#00d"/><path d="M388 0h1V83.5h-1z" fill="#0070dd"/><path d="M389 0h1V83.5h-1z" fill="#008ddd"/><path d="M390 0h1V83.5h-1z" fill="#009adb"/><path d="M391 0h1V83.5h-1z" fill="#009bd7"/><path d="M392 0h1V83.5h-1z" fill="#009ecf"/><path d="M393 0h1V83.5h-1z" fill="#00a0c7"/><path d="M394 0h2V83.5h-2z" fill="#00a3bf"/><path d="M396 0h1V83.5h-1z" fill="#00a6b7"/><path d="M397 0h2V83.5h-2z" fill="#00a7b3"/><path d="M399 0h1V83.5h-1z" fill="#00a8af"/><path d="M400 0h2V83.5h-2z" fill="#00aaa8"/><path d="M402 0h3V83.5h-3z" fill="#00aaa5"/><path d="M405 0h1V83.5h-1z" fill="#00aaa8"/><path d="M406 0h2V83.5h-2z" fill="#00aaa5"/><path d="M408 0h4V83.5h-4z" fill="#00aaa0"/><path d="M412 0h3V83.5h-3z" fill="#00aa9d"/><path d="M415 0h3V83.5h-3z" fill="#00aaa5"/><path d="M418 0h6V83.5h-6z" fill="#00aaa3"/><path d="M424 0h4V83.5h-4z" fill="#00aaa0"/><path d="M428 0h2V83.5h-2z" fill="#00aaa5"/><path d="M430 0h2V83.5h-2z" fill="#00aaa3"/><path d="M432 0h1V83.5h-1z" fill="#00aaa0"/><path d="M433 0h1V83.5h-1z" fill="#00aa9d"/><path d="M434 0h2V83.5h-2z" fill="#00aa9b"/><path d="M436 0h1V83.5h-1z" fill="#00aa98"/><path d="M437 0h1V83.5h-1z" fill="#00aa93"/><path d="M438 0h1V83.5h-1z" fill="#00aa90"/><path d="M439 0h1V83.5h-1z" fill="#00aa8d"/><path d="M440 0h1V83.5h-1z" fill="#00aa8b"/><path d="M441 0h2V83.5h-2z" fill="#0a8"/><path d="M443 0h2V83.5h-2z" fill="#00a97d"/><path d="M445 0h1V83.5h-1z" fill="#00a668"/><path d="M446 0h1V83.5h-1z" fill="#00a55d"/><path d="M447 0h1V83.5h-1z" fill="#00a248"/><path d="M448 0h1V83.5h-1z" fill="#00a13d"/><path d="M449 0h1V83.5h-1z" fill="#009f33"/><path d="M450 0h1V83.5h-1z" fill="#009d1d"/><path d="M451 0h1V83.5h-1z" fill="#009b13"/><path d="M452 0h1V83.5h-1z" fill="#009a08"/><path d="M453 0h3V83.5h-3z" fill="#009a00"/><path d="M456 0h4V83.5h-4z" fill="#009a08"/><path d="M460 0h5V83.5h-5z" fill="#009b13"/><path d="M465 0h4V83.5h-4z" fill="#009a08"/><path d="M469 0h2V83.5h-2z" fill="#009b13"/><path d="M471 0h3V83.5h-3z" fill="#009e28"/><path d="M474 0h1V83.5h-1z" fill="#00a13d"/><path d="M475 0h1V83.5h-1z" fill="#00a248"/><path d="M476 0h2V83.5h-2z" fill="#00a55d"/><path d="M478 0h1V83.5h-1z" fill="#00a668"/><path d="M479 0h1V83.5h-1z" fill="#00a773"/><path d="M480 0h1V83.5h-1z" fill="#00aa8d"/><path d="M481 0h1V83.5h-1z" fill="#00aa90"/><path d="M482 0h1V83.5h-1z" fill="#00aa93"/><path d="M483 0h1V83.5h-1z" fill="#00aa95"/><path d="M484 0h1V83.5h-1z" fill="#00aa9b"/><path d="M485 0h1V83.5h-1z" fill="#00aa98"/><path d="M486 0h1V83.5h-1z" fill="#00aa9d"/><path d="M487 0h1V83.5h-1z" fill="#00aaa5"/><path d="M488 0h1V83.5h-1z" fill="#00aaab"/><path d="M489 0h1V83.5h-1z" fill="#00a2c3"/><path d="M490 0h1V83.5h-1z" fill="#009fcb"/><path d="M491 0h1V83.5h-1z" fill="#009ecf"/><path d="M492 0h1V83.5h-1z" fill="#009bd7"/><path d="M493 0h1V83.5h-1z" fill="#0095dd"/><path d="M494 0h1V83.5h-1z" fill="#008ddd"/><path d="M495 0h1V83.5h-1z" fill="#08d"/><path d="M496 0h1V83.5h-1z" fill="#0080dd"/><path d="M497 0h1V83.5h-1z" fill="#0078dd"/><path d="M498 0h1V83.5h-1z" fill="#005ddd"/><path d="M499 0h1V83.5h-1z" fill="#004bdd"/><path d="M500 0h1V83.5h-1z" fill="#0038dd"/><path d="M501 0h1V83.5h-1z" fill="#0025dd"/><path d="M502 0h2V83.5h-2z" fill="#0013dd"/><path d="M504 0h3V83.5h-3z" fill="#0009dd"/><path d="M507 0h2V83.5h-2z" fill="#00d"/><path d="M509 0h2V83.5h-2z" fill="#0000d9"/><path d="M511 0h2V83.5h-2z" fill="#0000d5"/><path d="M513 0h1V83.5h-1z" fill="#0000d1"/><path d="M514 0h1V83.5h-1z" fill="#0000cd"/><path d="M515 0h1V83.5h-1z" fill="#0000c9"/><path d="M516 0h2V83.5h-2z" fill="#0000c5"/><path d="M518 0h1V83.5h-1z" fill="#0000c1"/><path d="M519 0h1V83.5h-1z" fill="#0000bd"/><path d="M520 0h1V83.5h-1z" fill="#0000b5"/><path d="M521 0h2V83.5h-2z" fill="#0000b1"/><path d="M523 0h1V83.5h-1z" fill="#0000ad"/><path d="M524 0h1V83.5h-1z" fill="#0300aa"/><path d="M525 0h1V83.5h-1z" fill="#0d00a8"/><path d="M526 0h1V83.5h-1z" fill="#0098dd"/><path d="M527 0h2V83.5h-2z" fill="#009d1d"/><path d="M529 0h2V83.5h-2z" fill="#00d"/><path d="M531 0h2V83.5h-2z" fill="#0a8"/><path d="M533 0h4V83.5h-4z" fill="#00aaa3"/><path d="M537 0h2V83.5h-2z" fill="#00a773"/><path d="M539 0h2V83.5h-2z" fill="#0090dd"/><path d="M541 0h3V83.5h-3z" fill="#009f33"/><path d="M544 0h3V83.5h-3z" fill="#008add"/><path d="M547 0h2V83.5h-2z" fill="#00d"/><path d="M549 0h3V83.5h-3z" fill="#79008a"/><path d="M552 0h3V83.5h-3z" fill="#708"/><path d="M555 0h2V83.5h-2z" fill="#700080"/><path d="M557 0h4V83.5h-4z" fill="#670075"/><path d="M561 0h3V83.5h-3z" fill="#5d006b"/><path d="M564 0h4V83.5h-4z" fill="#540060"/><path d="M568 0h3V83.5h-3z" fill="#4b0055"/><path d="M571 0h3V83.5h-3z" fill="#41004b"/><path d="M574 0h4V83.5h-4z" fill="#380040"/><path d="M578 0h3V83.5h-3z" fill="#2f0035"/><path d="M581 0h3V83.5h-3z" fill="#25002b"/><path d="M584 0h4V83.5h-4z" fill="#1c0020"/><path d="M588 0h6V83.5h-6z" fill="#130015"/><path d="M594 0h1V83.5h-1z" fill="#09000b"/></g>
<g transform="translate(0,328.76)"><path d="M329 0h47V66.8h-47z" fill="#130015"/><path d="M376 0h2V66.8h-2z" fill="#1c0020"/><path d="M378 0h1V66.8h-1z" fill="#25002b"/><path d="M379 0h1V66.8h-1z" fill="#380040"/><path d="M380 0h1V66.8h-1z" fill="#540060"/><path d="M381 0h1V66.8h-1z" fill="#700080"/><path d="M382 0h1V66.8h-1z" fill="#7e008f"/><path d="M383 0h1V66.8h-1z" fill="#820093"/><path d="M384 0h1V66.8h-1z" fill="#860097"/><path d="M385 0h1V66.8h-1z" fill="#4d00a0"/><path d="M386 0h1V66.8h-1z" fill="#0000bd"/><path d="M387 0h1V66.8h-1z" fill="#00d"/><path d="M388 0h1V66.8h-1z" fill="#0070dd"/><path d="M389 0h1V66.8h-1z" fill="#008ddd"/><path d="M390 0h1V66.8h-1z" fill="#009adb"/><path d="M391 0h1V66.8h-1z" fill="#009bd7"/><path d="M392 0h1V66.8h-1z" fill="#009cd3"/><path d="M393 0h1V66.8h-1z" fill="#009fcb"/><path d="M394 0h2V66.8h-2z" fill="#00a2c3"/><path d="M396 0h2V66.8h-2z" fill="#00a3bf"/><path d="M398 0h2V66.8h-2z" fill="#00a6b7"/><path d="M400 0h2V66.8h-2z" fill="#00a8af"/><path d="M402 0h1V66.8h-1z" fill="#00aaab"/><path d="M403 0h1V66.8h-1z" fill="#00a8af"/><path d="M404 0h1V66.8h-1z" fill="#00aaab"/><path d="M405 0h3V66.8h-3z" fill="#00a8af"/><path d="M408 0h7V66.8h-7z" fill="#00aaa5"/><path d="M415 0h9V66.8h-9z" fill="#00aaab"/><path d="M424 0h4V66.8h-4z" fill="#00aaa5"/><path d="M428 0h3V66.8h-3z" fill="#00aaab"/><path d="M431 0h2V66.8h-2z" fill="#00aaa8"/><path d="M433 0h2V66.8h-2z" fill="#00aaa3"/><path d="M435 0h2V66.8h-2z" fill="#00aaa0"/><path d="M437 0h1V66.8h-1z" fill="#00aa98"/><path d="M438 0h1V66.8h-1z" fill="#00aa95"/><path d="M439 0h2V66.8h-2z" fill="#00aa93"/><path d="M441 0h2V66.8h-2z" fill="#00aa90"/><path d="M443 0h1V66.8h-1z" fill="#00aa8d"/><path d="M444 0h1V66.8h-1z" fill="#00aa8b"/><path d="M445 0h1V66.8h-1z" fill="#0a8"/><path d="M446 0h1V66.8h-1z" fill="#00a97d"/><path d="M447 0h1V66.8h-1z" fill="#00a668"/><path d="M448 0h1V66.8h-1z" fill="#00a55d"/><path d="M449 0h1V66.8h-1z" fill="#00a248"/><path d="M450 0h1V66.8h-1z" fill="#00a13d"/><path d="M451 0h1V66.8h-1z" fill="#009e28"/><path d="M452 0h1V66.8h-1z" fill="#009d1d"/><path d="M453 0h1V66.8h-1z" fill="#009b13"/><path d="M454 0h2V66.8h-2z" fill="#009a08"/><path d="M456 0h14V66.8h-14z" fill="#009d1d"/><path d="M470 0h1V66.8h-1z" fill="#009e28"/><path d="M471 0h1V66.8h-1z" fill="#009f33"/><path d="M472 0h2V66.8h-2z" fill="#00a248"/><path d="M474 0h1V66.8h-1z" fill="#00a353"/><path d="M475 0h1V66.8h-1z" fill="#00a668"/><path d="M476 0h1V66.8h-1z" fill="#00a773"/><path d="M477 0h1V66.8h-1z" fill="#00a97d"/><path d="M478 0h1V66.8h-1z" fill="#0a8"/><path d="M479 0h1V66.8h-1z" fill="#00aa8b"/><path d="M480 0h1V66.8h-1z" fill="#00aa95"/><path d="M481 0h1V66.8h-1z" fill="#00aa98"/><path d="M482 0h2V66.8h-2z" fill="#00aa9b"/><path d="M484 0h2V66.8h-2z" fill="#00aaa0"/><path d="M486 0h1V66.8h-1z" fill="#00aaa5"/><path d="M487 0h1V66.8h-1z" fill="#00aaab"/><path d="M488 0h1V66.8h-1z" fill="#00a7b3"/><path d="M489 0h1V66.8h-1z" fill="#00a0c7"/><path d="M490 0h1V66.8h-1z" fill="#009ecf"/><path d="M491 0h1V66.8h-1z" fill="#009cd3"/><path d="M492 0h1V66.8h-1z" fill="#009adb"/><path d="M493 0h1V66.8h-1z" fill="#0095dd"/><path d="M494 0h1V66.8h-1z" fill="#008ddd"/><path d="M495 0h1V66.8h-1z" fill="#08d"/><path d="M496 0h1V66.8h-1z" fill="#0080dd"/><path d="M497 0h1V66.8h-1z" fill="#0078dd"/><path d="M498 0h1V66.8h-1z" fill="#005ddd"/><path d="M499 0h1V66.8h-1z" fill="#004bdd"/><path d="M500 0h1V66.8h-1z" fill="#0038dd"/><path d="M501 0h1V66.8h-1z" fill="#0025dd"/><path d="M502 0h2V66.8h-2z" fill="#0013dd"/><path d="M504 0h3V66.8h-3z" fill="#0009dd"/><path d="M507 0h2V66.8h-2z" fill="#00d"/><path d="M509 0h2V66.8h-2z" fill="#0000d9"/><path d="M511 0h2V66.8h-2z" fill="#0000d5"/><path d="M513 0h1V66.8h-1z" fill="#0000d1"/><path d="M514 0h1V66.8h-1z" fill="#0000cd"/><path d="M515 0h1V66.8h-1z" fill="#0000c9"/><path d="M516 0h2V66.8h-2z" fill="#0000c5"/><path d="M518 0h1V66.8h-1z" fill="#0000c1"/><path d="M519 0h1V66.8h-1z" fill="#0000bd"/><path d="M520 0h1V66.8h-1z" fill="#0000b5"/><path d="M521 0h2V66.8h-2z" fill="#0000b1"/><path d="M523 0h1V66.8h-1z" fill="#0000ad"/><path d="M524 0h1V66.8h-1z" fill="#0300aa"/><path d="M525 0h1V66.8h-1z" fill="#0d00a8"/><path d="M526 0h1V66.8h-1z" fill="#0098dd"/><path d="M527 0h2V66.8h-2z" fill="#009d1d"/><path d="M529 0h2V66.8h-2z" fill="#00d"/><path d="M531 0h2V66.8h-2z" fill="#0a8"/><path d="M533 0h4V66.8h-4z" fill="#00aaa3"/><path d="M537 0h2V66.8h-2z" fill="#00a773"/><path d="M539 0h2V66.8h-2z" fill="#0090dd"/><path d="M541 0h3V66.8h-3z" fill="#009f33"/><path d="M544 0h3V66.8h-3z" fill="#008add"/><path d="M547 0h2V66.8h-2z" fill="#00d"/><path d="M549 0h1V66.8h-1z" fill="#79008a"/><path d="M550 0h3V66.8h-3z" fill="#708"/><path d="M553 0h3V66.8h-3z" fill="#700080"/><path d="M556 0h3V66.8h-3z" fill="#670075"/><path d="M559 0h3V66.8h-3z" fill="#5d006b"/><path d="M562 0h4V66.8h-4z" fill="#540060"/><path d="M566 0h4V66.8h-4z" fill="#4b0055"/><path d="M570 0h3V66.8h-3z" fill="#41004b"/><path d="M573 0h4V66.8h-4z" fill="#380040"/><path d="M577 0h3V66.8h-3z" fill="#2f0035"/><path d="M580 0h4V66.8h-4z" fill="#25002b"/><path d="M584 0h3V66.8h-3z" fill="#1c0020"/><path d="M587 0h7V66.8h-7z" fill="#130015"/><path d="M594 0h1V66.8h-1z" fill="#09000b"/></g>
<g transform="translate(0,345.47)"><path d="M329 0h50V50.1h-50z" fill="#130015"/><path d="M379 0h2V50.1h-2z" fill="#1c0020"/><path d="M381 0h2V50.1h-2z" fill="#25002b"/><path d="M383 0h99V50.1h-99z" fill="#2f0035"/><path d="M482 0h25V50.1h-25z" fill="#380040"/><path d="M507 0h26V50.1h-26z" fill="#41004b"/><path d="M533 0h29V50.1h-29z" fill="#4b0055"/><path d="M562 0h12V50.1h-12z" fill="#41004b"/><path d="M574 0h4V50.1h-4z" fill="#380040"/><path d="M578 0h4V50.1h-4z" fill="#2f0035"/><path d="M582 0h4V50.1h-4z" fill="#25002b"/><path d="M586 0h4V50.1h-4z" fill="#1c0020"/><path d="M590 0h5V50.1h-5z" fill="#130015"/></g>
<g transform="translate(0,362.18)"><path d="M329 0h7V33.4h-7z" fill="#130015"/><path d="M336 0h259V33.4h-259z" fill="#09000b"/></g>
<g transform="translate(0,378.89)"><path d="M329 0h46V16.7h-46z" fill="#130015"/><path d="M375 0h1V16.7h-1z" fill="#25002b"/><path d="M376 0h1V16.7h-1z" fill="#4b0055"/><path d="M377 0h1V16.7h-1z" fill="#7a008b"/><path d="M378 0h1V16.7h-1z" fill="#7f0090"/><path d="M379 0h1V16.7h-1z" fill="#850096"/><path d="M380 0h1V16.7h-1z" fill="#2300a6"/><path d="M381 0h1V16.7h-1z" fill="#0009dd"/><path d="M382 0h1V16.7h-1z" fill="#0070dd"/><path d="M383 0h1V16.7h-1z" fill="#00aa95"/><path d="M384 0h1V16.7h-1z" fill="#00b700"/><path d="M385 0h1V16.7h-1z" fill="#00ca00"/><path d="M386 0h1V16.7h-1z" fill="#00da00"/><path d="M387 0h1V16.7h-1z" fill="#00ea00"/><path d="M388 0h1V16.7h-1z" fill="#0f0"/><path d="M389 0h1V16.7h-1z" fill="#84ff00"/><path d="M390 0h1V16.7h-1z" fill="#c4fc00"/><path d="M391 0h1V16.7h-1z" fill="#dcf400"/><path d="M392 0h1V16.7h-1z" fill="#e4f100"/><path d="M393 0h1V16.7h-1z" fill="#efed00"/><path d="M394 0h1V16.7h-1z" fill="#f0ea00"/><path d="M395 0h1V16.7h-1z" fill="#f4e200"/><path d="M396 0h4V16.7h-4z" fill="#fbd500"/><path d="M400 0h2V16.7h-2z" fill="#fdcf00"/><path d="M402 0h1V16.7h-1z" fill="#fcd200"/><path d="M403 0h1V16.7h-1z" fill="#f9d700"/><path d="M404 0h1V16.7h-1z" fill="#f8da00"/><path d="M405 0h1V16.7h-1z" fill="#f4e200"/><path d="M406 0h1V16.7h-1z" fill="#f1e700"/><path d="M407 0h1V16.7h-1z" fill="#f0ea00"/><path d="M408 0h1V16.7h-1z" fill="#f3e500"/><path d="M409 0h2V16.7h-2z" fill="#f1e700"/><path d="M411 0h3V16.7h-3z" fill="#f0ea00"/><path d="M414 0h1V16.7h-1z" fill="#efed00"/><path d="M415 0h1V16.7h-1z" fill="#e8f000"/><path d="M416 0h3V16.7h-3z" fill="#e4f100"/><path d="M419 0h5V16.7h-5z" fill="#e0f300"/><path d="M424 0h1V16.7h-1z" fill="#e4f100"/><path d="M425 0h3V16.7h-3z" fill="#e0f300"/><path d="M428 0h2V16.7h-2z" fill="#d8f500"/><path d="M430 0h7V16.7h-7z" fill="#d4f700"/><path d="M437 0h2V16.7h-2z" fill="#d8f500"/><path d="M439 0h3V16.7h-3z" fill="#d4f700"/><path d="M442 0h2V16.7h-2z" fill="#d0f800"/><path d="M444 0h10V16.7h-10z" fill="#c8fb00"/><path d="M454 0h2V16.7h-2z" fill="#c4fc00"/><path d="M456 0h3V16.7h-3z" fill="#bcff00"/><path d="M459 0h1V16.7h-1z" fill="#b0ff00"/><path d="M460 0h2V16.7h-2z" fill="#a1ff00"/><path d="M462 0h1V16.7h-1z" fill="#84ff00"/><path d="M463 0h1V16.7h-1z" fill="#75ff00"/><path d="M464 0h2V16.7h-2z" fill="#67ff00"/><path d="M466 0h1V16.7h-1z" fill="#49ff00"/><path d="M467 0h1V16.7h-1z" fill="#3bff00"/><path d="M468 0h1V16.7h-1z" fill="#2cff00"/><path d="M469 0h1V16.7h-1z" fill="#0fff00"/><path d="M470 0h1V16.7h-1z" fill="#0f0"/><path d="M471 0h2V16.7h-2z" fill="#00fc00"/><path d="M473 0h4V16.7h-4z" fill="#0f0"/><path d="M477 0h3V16.7h-3z" fill="#00fc00"/><path d="M480 0h2V16.7h-2z" fill="#00f400"/><path d="M482 0h2V16.7h-2z" fill="#00f200"/><path d="M484 0h1V16.7h-1z" fill="#00ef00"/><path d="M485 0h2V16.7h-2z" fill="#00f200"/><path d="M487 0h2V16.7h-2z" fill="#00ef00"/><path d="M489 0h1V16.7h-1z" fill="#00e700"/><path d="M490 0h2V16.7h-2z" fill="#00e200"/><path d="M492 0h1V16.7h-1z" fill="#00dc00"/><path d="M493 0h1V16.7h-1z" fill="#00da00"/><path d="M494 0h1V16.7h-1z" fill="#00d400"/><path d="M495 0h1V16.7h-1z" fill="#00cf00"/><path d="M496 0h1V16.7h-1z" fill="#00ca00"/><path d="M497 0h1V16.7h-1z" fill="#00c200"/><path d="M498 0h1V16.7h-1z" fill="#00b700"/><path d="M499 0h1V16.7h-1z" fill="#00af00"/><path d="M500 0h1V16.7h-1z" fill="#00a400"/><path d="M501 0h1V16.7h-1z" fill="#009c00"/><path d="M502 0h1V16.7h-1z" fill="#009b13"/><path d="M503 0h1V16.7h-1z" fill="#009e28"/><path d="M504 0h1V16.7h-1z" fill="#00a248"/><path d="M505 0h1V16.7h-1z" fill="#00a55d"/><path d="M506 0h1V16.7h-1z" fill="#00a97d"/><path d="M507 0h1V16.7h-1z" fill="#00aa8b"/><path d="M508 0h1V16.7h-1z" fill="#00aa90"/><path d="M509 0h1V16.7h-1z" fill="#00aa95"/><path d="M510 0h1V16.7h-1z" fill="#00aa9b"/><path d="M511 0h1V16.7h-1z" fill="#00aaa0"/><path d="M512 0h1V16.7h-1z" fill="#00aaa5"/><path d="M513 0h1V16.7h-1z" fill="#00aaab"/><path d="M514 0h1V16.7h-1z" fill="#00a7b3"/><path d="M515 0h1V16.7h-1z" fill="#00a3bf"/><path d="M516 0h1V16.7h-1z" fill="#00a2c3"/><path d="M517 0h1V16.7h-1z" fill="#009fcb"/><path d="M518 0h1V16.7h-1z" fill="#009cd3"/><path d="M519 0h3V16.7h-3z" fill="#009bd7"/><path d="M522 0h3V16.7h-3z" fill="#009adb"/><path d="M525 0h2V16.7h-2z" fill="#00aaa3"/><path d="M527 0h2V16.7h-2z" fill="#0098dd"/><path d="M529 0h1V16.7h-1z" fill="#0070dd"/><path d="M530 0h2V16.7h-2z" fill="#00a2c3"/><path d="M532 0h2V16.7h-2z" fill="#008add"/><path d="M534 0h2V16.7h-2z" fill="#00aaab"/><path d="M536 0h2V16.7h-2z" fill="#008add"/><path d="M538 0h1V16.7h-1z" fill="#00aaa3"/><path d="M539 0h4V16.7h-4z" fill="#0090dd"/><path d="M543 0h1V16.7h-1z" fill="#00aaa3"/><path d="M544 0h3V16.7h-3z" fill="#008add"/><path d="M547 0h1V16.7h-1z" fill="#0070dd"/><path d="M548 0h1V16.7h-1z" fill="#0090dd"/><path d="M549 0h1V16.7h-1z" fill="#008ddd"/><path d="M550 0h1V16.7h-1z" fill="#08d"/><path d="M551 0h1V16.7h-1z" fill="#0085dd"/><path d="M552 0h1V16.7h-1z" fill="#0080dd"/><path d="M553 0h1V16.7h-1z" fill="#007ddd"/><path d="M554 0h5V16.7h-5z" fill="#0009dd"/><path d="M559 0h6V16.7h-6z" fill="#00d"/><path d="M565 0h5V16.7h-5z" fill="#0000d9"/><path d="M570 0h6V16.7h-6z" fill="#0000d5"/><path d="M576 0h1V16.7h-1z" fill="#0000c1"/><path d="M577 0h1V16.7h-1z" fill="#2d00a4"/><path d="M578 0h1V16.7h-1z" fill="#63009e"/><path d="M579 0h1V16.7h-1z" fill="#78009b"/><path d="M580 0h1V16.7h-1z" fill="#870098"/><path d="M581 0h1V16.7h-1z" fill="#850096"/><path d="M582 0h1V16.7h-1z" fill="#820093"/><path d="M583 0h1V16.7h-1z" fill="#810092"/><path d="M584 0h1V16.7h-1z" fill="#7e008f"/><path d="M585 0h1V16.7h-1z" fill="#7b008c"/><path d="M586 0h1V16.7h-1z" fill="#79008a"/><path d="M587 0h1V16.7h-1z" fill="#670075"/><path d="M588 0h1V16.7h-1z" fill="#4b0055"/><path d="M589 0h1V16.7h-1z" fill="#380040"/><path d="M590 0h2V16.7h-2z" fill="#25002b"/><path d="M592 0h2V16.7h-2z" fill="#1c0020"/><path d="M594 0h1V16.7h-1z" fill="#130015"/></g>
</g>
<rect x="49" y="284" width="1" height="111.6" fill="#70007f"/>
<rect x="329" y="284" width="1" height="111.6" fill="#70007f"/>
<path d="M48.5 28H50.2L49.2 284H48.5z" fill="#fff"/>
<path d="M328 28H331.2L330 270L329 284H328z" fill="#fff"/>
<rect x="158.9" y="193" width="3" height="102" fill="#00a500"/>
<rect x="159.7" y="211" width="1.7" height="51" fill="#78ff00"/>
<rect x="156.3" y="229" width="3.3" height="16" fill="#28d200"/>
<rect x="439.3" y="186.5" width="2.1" height="25" fill="#00dc00"/>
<rect x="439.3" y="211" width="2.1" height="48" fill="#00aa00"/>
<rect x="436.2" y="228.5" width="3.2" height="16.8" fill="#00be00"/>
<path d="M48.0 282.3 L96.0 282.8 L99.5 281.5 L101.5 275.0 L104.0 258.0 L106.5 240.0 L108.4 232.0 L111.3 212.0 L115.0 197.0 L118.8 188.5 L122.5 185.6 L125.3 187.0 L128.0 185.3 L132.0 189.4 L137.5 190.3 L142.0 191.6 L147.0 188.5 L152.5 188.5 L156.3 185.6 L157.0 183.0 L157.8 150.0 L158.4 112.5 L161.3 112.5 L162.0 150.0 L162.8 181.0 L163.8 180.0 L167.5 176.3 L172.0 173.4 L177.0 167.8 L181.6 168.8 L186.3 166.0 L190.0 170.6 L193.8 175.3 L197.5 178.0 L201.3 185.6 L207.0 197.0 L212.5 206.0 L220.0 217.5 L230.0 235.0 L238.0 245.0 L246.0 253.5 L246.0 259.0 L238.0 251.0 L230.0 243.8 L220.0 227.0 L214.4 221.0 L208.8 212.0 L202.0 200.6 L197.5 191.3 L192.0 183.8 L186.3 178.0 L180.6 180.0 L175.0 181.0 L167.5 185.6 L162.0 190.3 L156.3 195.0 L148.8 198.8 L142.0 201.6 L133.8 198.8 L128.0 194.0 L121.6 195.0 L118.8 197.0 L116.0 206.0 L113.5 222.0 L112.8 232.0 L110.0 255.0 L107.5 272.0 L105.0 282.0 L102.0 285.0 L97.0 285.8 L48.0 285.3z" fill="#fff" stroke="#fff" stroke-width="0.6" stroke-linejoin="round"/>
<path d="M245.3 258L245.9 200L246.4 167L247 165.5h1L248.8 168L249.5 188L251 190L252.5 192L254 188L255.2 176L256 171h1.6L258.6 178L259.8 187L261 184L261.8 182h1.4L264 195L264.8 215L265.5 240L266.3 252L267 238h1L268.8 262L266 264L264.5 258L262 262L258 259L254 262L250 258L247 262z" fill="#fff" stroke="#fff" stroke-width="1" stroke-linejoin="round"/>
<polyline points="266,253 268.6,269.5 271.4,276 278.6,277.7 291.4,279.5 302,282 309.5,283.7 316,284" fill="none" stroke="#fff" stroke-width="2.6" stroke-linejoin="round"/>
<path d="M276 278L277.7 229.5h1L280.6 278zM266.2 265L267.2 237h1.2L269.8 273z" fill="#fff"/>
<path d="M331.0 282.3 L379.0 282.3 L380.5 281.0 L381.5 277.0 L383.6 258.0 L386.0 235.5 L388.6 212.7 L390.5 199.0 L391.5 193.0 L395.0 183.8 L398.8 178.0 L403.4 175.3 L408.0 174.0 L412.0 178.5 L416.6 177.0 L421.0 182.0 L428.8 180.0 L434.4 176.0 L437.5 174.0 L438.3 138.0 L439.5 137.0 L440.0 132.0 L441.0 132.0 L442.0 150.0 L443.0 170.0 L448.4 167.0 L452.0 164.0 L457.0 159.8 L461.6 162.0 L466.6 158.4 L470.0 163.0 L473.8 167.8 L477.5 169.7 L481.0 178.0 L485.0 185.6 L489.7 193.0 L492.5 202.0 L497.5 207.0 L504.0 217.0 L510.0 226.0 L518.0 236.0 L526.0 246.0 L526.0 253.0 L518.0 245.0 L510.0 237.0 L504.0 230.0 L497.5 222.0 L492.0 212.0 L485.0 202.0 L481.0 191.0 L475.6 182.0 L470.0 175.3 L466.0 169.7 L460.6 172.5 L455.0 173.4 L447.5 179.0 L442.0 184.7 L436.0 187.5 L428.8 192.0 L422.0 196.0 L414.7 195.0 L408.0 192.0 L402.5 194.0 L401.0 195.5 L398.4 199.0 L393.9 212.7 L390.0 235.5 L387.0 258.0 L385.0 275.0 L383.7 282.5 L382.0 285.3 L331.0 285.3 L329.5 284.0z" fill="#fff" stroke="#fff" stroke-width="0.6" stroke-linejoin="round"/>
<path d="M525.3 253L525.8 200L526.3 145L527.5 142.5L529 146L530 152L531 147L532.5 147.5L533.5 160L534.5 168L536 167L537 164L539 164.5L540.5 161L542.5 160.5L543.5 168L545 180L546.3 192L547.7 206L548.5 222L549.2 245L550 267L548 262L547 240L546 222L545 210L543 208L542.6 243L541 243L540.5 210L538.5 209L538 243L536.5 210L533 208L532 225L530.5 215L529.5 250L527 254z" fill="#fff" stroke="#fff" stroke-width="1" stroke-linejoin="round"/>
<polyline points="549.2,245 550,266 552,270 556.8,271.5 559.4,272 566,274 575,277.5 585,281.5 590,283 596,284" fill="none" stroke="#fff" stroke-width="3.2" stroke-linejoin="round"/>
<path d="M555.6 273L557.4 219.5h1.2L560.4 273z" fill="#fff"/>
<g font-size="16.67px" text-anchor="middle" fill="#000"><text x="182" y="15.5">4.1 (Tile161=161) X</text><text x="462.5" y="15.5">4.1 (Tile161=161) Y</text></g>
<g font-size="13.89px" fill="#000">
<text x="32.3" y="41.5" text-anchor="end">On</text>
<text x="611.5" y="41.5">On</text>
<text x="32.3" y="58.2" text-anchor="end">Y</text>
<text x="611.5" y="58.2">Y</text>
<text x="32.3" y="74.9" text-anchor="end">Off</text>
<text x="611.5" y="74.9">Off</text>
<text x="32.3" y="91.6" text-anchor="end">P</text>
<text x="611.5" y="91.6">P</text>
<text x="32.3" y="108.3" text-anchor="end">O</text>
<text x="611.5" y="108.3">O</text>
<text x="32.3" y="125.0" text-anchor="end">N</text>
<text x="611.5" y="125.0">N</text>
<text x="32.3" y="141.7" text-anchor="end">M</text>
<text x="611.5" y="141.7">M</text>
<text x="32.3" y="158.4" text-anchor="end">L</text>
<text x="611.5" y="158.4">L</text>
<text x="32.3" y="175.1" text-anchor="end">K</text>
<text x="611.5" y="175.1">K</text>
<text x="32.3" y="191.8" text-anchor="end">J</text>
<text x="611.5" y="191.8">J</text>
<text x="32.3" y="208.5" text-anchor="end">I</text>
<text x="611.5" y="208.5">I</text>
<text x="32.3" y="225.3" text-anchor="end">H</text>
<text x="611.5" y="225.3">H</text>
<text x="32.3" y="242.0" text-anchor="end">G</text>
<text x="611.5" y="242.0">G</text>
<text x="32.3" y="258.7" text-anchor="end">F</text>
<text x="611.5" y="258.7">F</text>
<text x="32.3" y="275.4" text-anchor="end">E</text>
<text x="611.5" y="275.4">E</text>
<text x="32.3" y="292.1" text-anchor="end">D</text>
<text x="611.5" y="292.1">D</text>
<text x="32.3" y="308.8" text-anchor="end">C</text>
<text x="611.5" y="308.8">C</text>
<text x="32.3" y="325.5" text-anchor="end">B</text>
<text x="611.5" y="325.5">B</text>
<text x="32.3" y="342.2" text-anchor="end">A</text>
<text x="611.5" y="342.2">A</text>
<text x="32.3" y="358.9" text-anchor="end">Off</text>
<text x="611.5" y="358.9">Off</text>
<text x="32.3" y="375.6" text-anchor="end">X</text>
<text x="611.5" y="375.6">X</text>
<text x="32.3" y="392.3" text-anchor="end">On</text>
<text x="611.5" y="392.3">On</text>
<text transform="translate(3.4,217.5) rotate(-90)" text-anchor="middle">Dipole</text>
</g>
<g font-size="13.89px" fill="#fff">
<text x="80.0" y="49.1">25</text>
<rect x="70.3" y="43.7" width="5.2" height="1.1"/>
<text x="360.0" y="49.1">25</text>
<rect x="350.3" y="43.7" width="5.2" height="1.1"/>
<text x="301.0" y="49.1">25</text>
<text x="80.0" y="97.1">20</text>
<rect x="70.3" y="91.7" width="5.2" height="1.1"/>
<text x="360.0" y="97.1">20</text>
<rect x="350.3" y="91.7" width="5.2" height="1.1"/>
<text x="301.0" y="97.1">20</text>
<text x="80.0" y="145.1">15</text>
<rect x="70.3" y="139.7" width="5.2" height="1.1"/>
<text x="360.0" y="145.1">15</text>
<rect x="350.3" y="139.7" width="5.2" height="1.1"/>
<text x="301.0" y="145.1">15</text>
<text x="80.0" y="193.1">10</text>
<rect x="70.3" y="187.7" width="5.2" height="1.1"/>
<text x="360.0" y="193.1">10</text>
<rect x="350.3" y="187.7" width="5.2" height="1.1"/>
<text x="301.0" y="193.1">10</text>
<text x="80.0" y="241.1">5</text>
<rect x="70.3" y="235.7" width="5.2" height="1.1"/>
<text x="360.0" y="241.1">5</text>
<rect x="350.3" y="235.7" width="5.2" height="1.1"/>
<text x="310.0" y="241.1">5</text>
<text x="80.0" y="289.1">0</text>
<rect x="70.3" y="283.7" width="5.2" height="1.1"/>
<text x="360.0" y="289.1">0</text>
<rect x="350.3" y="283.7" width="5.2" height="1.1"/>
<text x="310.0" y="289.1">0</text>
</g>
<rect x="22.3" y="38.9" width="4.8" height="1.2" fill="#fff"/>
<rect x="22.3" y="86.9" width="4.8" height="1.2" fill="#fff"/>
<rect x="22.3" y="134.9" width="4.8" height="1.2" fill="#fff"/>
<rect x="22.3" y="182.9" width="4.8" height="1.2" fill="#fff"/>
<rect x="22.3" y="230.9" width="4.8" height="1.2" fill="#fff"/>
<rect x="22.3" y="278.9" width="4.8" height="1.2" fill="#fff"/>
<g font-size="9.72px" fill="#000" text-anchor="middle" letter-spacing="-0.2">
<rect x="49.0" y="408.3" width="1" height="4.6"/>
<text x="49.5" y="425.6">0</text>
<rect x="89.6" y="408.3" width="1" height="4.6"/>
<text x="90.1" y="425.6">50</text>
<rect x="130.2" y="408.3" width="1" height="4.6"/>
<text x="130.7" y="425.6">100</text>
<rect x="170.8" y="408.3" width="1" height="4.6"/>
<text x="171.3" y="425.6">150</text>
<rect x="211.4" y="408.3" width="1" height="4.6"/>
<text x="211.9" y="425.6">200</text>
<rect x="252.0" y="408.3" width="1" height="4.6"/>
<text x="252.5" y="425.6">250</text>
<rect x="292.6" y="408.3" width="1" height="4.6"/>
<text x="293.1" y="425.6">300</text>
<rect x="329.1" y="408.3" width="1" height="4.6"/>
<text x="329.6" y="425.6">0</text>
<rect x="369.7" y="408.3" width="1" height="4.6"/>
<text x="370.2" y="425.6">50</text>
<rect x="410.3" y="408.3" width="1" height="4.6"/>
<text x="410.8" y="425.6">100</text>
<rect x="450.9" y="408.3" width="1" height="4.6"/>
<text x="451.4" y="425.6">150</text>
<rect x="491.5" y="408.3" width="1" height="4.6"/>
<text x="492.0" y="425.6">200</text>
<rect x="532.1" y="408.3" width="1" height="4.6"/>
<text x="532.6" y="425.6">250</text>
<rect x="572.7" y="408.3" width="1" height="4.6"/>
<text x="573.2" y="425.6">300</text>
</g>
</svg></body></html>
